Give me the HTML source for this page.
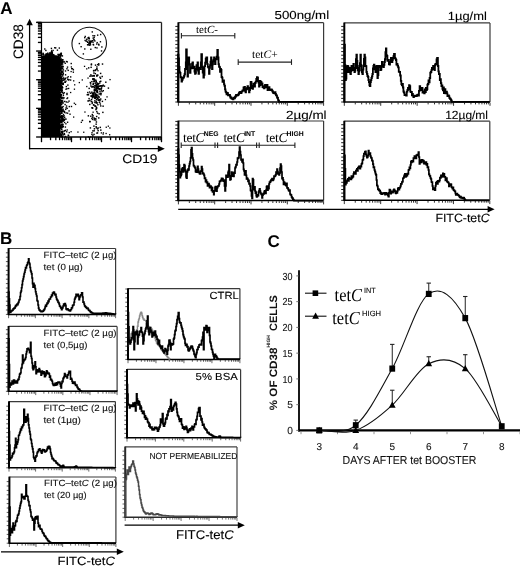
<!DOCTYPE html>
<html><head><meta charset="utf-8"><style>
html,body{margin:0;padding:0;background:#fff;}
body{width:520px;height:568px;overflow:hidden;position:relative;}
svg{position:absolute;left:0;top:0;filter:blur(0.3px);}
</style></head><body>
<svg width="520" height="568" viewBox="0 0 520 568" shape-rendering="auto" text-rendering="geometricPrecision">
<rect x="0" y="0" width="520" height="568" fill="#fff"/>
<text x="0.2" y="13.8" font-family="Liberation Sans" font-size="17" font-weight="bold" font-style="normal" text-anchor="start" fill="#000" stroke="#000" stroke-width="0.05">A</text>
<text x="0" y="243.6" font-family="Liberation Sans" font-size="17" font-weight="bold" font-style="normal" text-anchor="start" fill="#000" stroke="#000" stroke-width="0.05">B</text>
<text x="267.6" y="246.9" font-family="Liberation Sans" font-size="17" font-weight="bold" font-style="normal" text-anchor="start" fill="#000" stroke="#000" stroke-width="0.05">C</text>
<path d="M42,137 L42,55.6 L46,55.2 L49.4,55 L50.6,52 L51.6,49.2 L52.6,52 L53.6,55 L58,55.4 L60.6,57 L60.6,137 Z" fill="#000"/>
<rect x="59.7" y="86.18" width="1.5" height="1.5" fill="#000"/>
<rect x="60.23" y="73.12" width="1.5" height="1.5" fill="#000"/>
<rect x="59.46" y="116.08" width="1.5" height="1.5" fill="#000"/>
<rect x="60.73" y="109.73" width="1.5" height="1.5" fill="#000"/>
<rect x="60.85" y="97.49" width="1.5" height="1.5" fill="#000"/>
<rect x="60.02" y="87.67" width="1.5" height="1.5" fill="#000"/>
<rect x="60.03" y="103.76" width="1.5" height="1.5" fill="#000"/>
<rect x="62.19" y="83.66" width="1.5" height="1.5" fill="#000"/>
<rect x="59.76" y="84.85" width="1.5" height="1.5" fill="#000"/>
<rect x="60.13" y="107.74" width="1.5" height="1.5" fill="#000"/>
<rect x="61.12" y="123.65" width="1.5" height="1.5" fill="#000"/>
<rect x="62.12" y="96.66" width="1.5" height="1.5" fill="#000"/>
<rect x="60.74" y="117.31" width="1.5" height="1.5" fill="#000"/>
<rect x="59.71" y="74.88" width="1.5" height="1.5" fill="#000"/>
<rect x="60.57" y="52.89" width="1.5" height="1.5" fill="#000"/>
<rect x="63.21" y="97.13" width="1.5" height="1.5" fill="#000"/>
<rect x="60.89" y="91.07" width="1.5" height="1.5" fill="#000"/>
<rect x="60.49" y="134.29" width="1.5" height="1.5" fill="#000"/>
<rect x="60.07" y="82.28" width="1.5" height="1.5" fill="#000"/>
<rect x="62.31" y="65.76" width="1.5" height="1.5" fill="#000"/>
<rect x="62.51" y="118.76" width="1.5" height="1.5" fill="#000"/>
<rect x="61.54" y="131.54" width="1.5" height="1.5" fill="#000"/>
<rect x="59.72" y="107.72" width="1.5" height="1.5" fill="#000"/>
<rect x="59.52" y="92.04" width="1.5" height="1.5" fill="#000"/>
<rect x="60.64" y="121.1" width="1.5" height="1.5" fill="#000"/>
<rect x="60.12" y="59.48" width="1.5" height="1.5" fill="#000"/>
<rect x="60.61" y="78.27" width="1.5" height="1.5" fill="#000"/>
<rect x="59.49" y="96.22" width="1.5" height="1.5" fill="#000"/>
<rect x="59.55" y="69.12" width="1.5" height="1.5" fill="#000"/>
<rect x="59.88" y="70.01" width="1.5" height="1.5" fill="#000"/>
<rect x="61.27" y="73.89" width="1.5" height="1.5" fill="#000"/>
<rect x="60.7" y="81.97" width="1.5" height="1.5" fill="#000"/>
<rect x="60.06" y="110.63" width="1.5" height="1.5" fill="#000"/>
<rect x="59.77" y="124.82" width="1.5" height="1.5" fill="#000"/>
<rect x="59.48" y="102.62" width="1.5" height="1.5" fill="#000"/>
<rect x="61.23" y="86.55" width="1.5" height="1.5" fill="#000"/>
<rect x="59.95" y="60.35" width="1.5" height="1.5" fill="#000"/>
<rect x="60.08" y="67.17" width="1.5" height="1.5" fill="#000"/>
<rect x="59.89" y="64.47" width="1.5" height="1.5" fill="#000"/>
<rect x="61.06" y="116.98" width="1.5" height="1.5" fill="#000"/>
<rect x="59.82" y="119.28" width="1.5" height="1.5" fill="#000"/>
<rect x="59.98" y="121.33" width="1.5" height="1.5" fill="#000"/>
<rect x="60.41" y="67.87" width="1.5" height="1.5" fill="#000"/>
<rect x="59.92" y="101.45" width="1.5" height="1.5" fill="#000"/>
<rect x="59.73" y="56.25" width="1.5" height="1.5" fill="#000"/>
<rect x="60.73" y="121.33" width="1.5" height="1.5" fill="#000"/>
<rect x="60.52" y="85.8" width="1.5" height="1.5" fill="#000"/>
<rect x="60.09" y="60.03" width="1.5" height="1.5" fill="#000"/>
<rect x="61.29" y="126.13" width="1.5" height="1.5" fill="#000"/>
<rect x="60.42" y="85.73" width="1.5" height="1.5" fill="#000"/>
<rect x="60.16" y="89.54" width="1.5" height="1.5" fill="#000"/>
<rect x="61.21" y="107.13" width="1.5" height="1.5" fill="#000"/>
<rect x="60.91" y="78.35" width="1.5" height="1.5" fill="#000"/>
<rect x="60.93" y="70.61" width="1.5" height="1.5" fill="#000"/>
<rect x="59.9" y="120.23" width="1.5" height="1.5" fill="#000"/>
<rect x="60.33" y="77.15" width="1.5" height="1.5" fill="#000"/>
<rect x="60.67" y="115.38" width="1.5" height="1.5" fill="#000"/>
<rect x="60.12" y="133.21" width="1.5" height="1.5" fill="#000"/>
<rect x="62.28" y="73.77" width="1.5" height="1.5" fill="#000"/>
<rect x="59.51" y="125.72" width="1.5" height="1.5" fill="#000"/>
<rect x="62.38" y="118.46" width="1.5" height="1.5" fill="#000"/>
<rect x="60.07" y="73.82" width="1.5" height="1.5" fill="#000"/>
<rect x="61.05" y="126.3" width="1.5" height="1.5" fill="#000"/>
<rect x="60.48" y="103.57" width="1.5" height="1.5" fill="#000"/>
<rect x="60.22" y="75.96" width="1.5" height="1.5" fill="#000"/>
<rect x="61.04" y="135.18" width="1.5" height="1.5" fill="#000"/>
<rect x="60.63" y="108.26" width="1.5" height="1.5" fill="#000"/>
<rect x="59.92" y="126.8" width="1.5" height="1.5" fill="#000"/>
<rect x="60.45" y="81.26" width="1.5" height="1.5" fill="#000"/>
<rect x="61.19" y="133.28" width="1.5" height="1.5" fill="#000"/>
<rect x="59.86" y="68.49" width="1.5" height="1.5" fill="#000"/>
<rect x="60.14" y="106.02" width="1.5" height="1.5" fill="#000"/>
<rect x="59.56" y="107.45" width="1.5" height="1.5" fill="#000"/>
<rect x="62.06" y="71.67" width="1.5" height="1.5" fill="#000"/>
<rect x="60.19" y="124.53" width="1.5" height="1.5" fill="#000"/>
<rect x="60.53" y="61.69" width="1.5" height="1.5" fill="#000"/>
<rect x="60.57" y="96.92" width="1.5" height="1.5" fill="#000"/>
<rect x="59.46" y="108.72" width="1.5" height="1.5" fill="#000"/>
<rect x="60.58" y="115.04" width="1.5" height="1.5" fill="#000"/>
<rect x="61.43" y="89.56" width="1.5" height="1.5" fill="#000"/>
<rect x="59.47" y="69.49" width="1.5" height="1.5" fill="#000"/>
<rect x="61.58" y="91.56" width="1.5" height="1.5" fill="#000"/>
<rect x="60.79" y="96.86" width="1.5" height="1.5" fill="#000"/>
<rect x="60.71" y="116.51" width="1.5" height="1.5" fill="#000"/>
<rect x="59.53" y="116.84" width="1.5" height="1.5" fill="#000"/>
<rect x="59.7" y="61.08" width="1.5" height="1.5" fill="#000"/>
<rect x="62.35" y="78.08" width="1.5" height="1.5" fill="#000"/>
<rect x="61.06" y="87.26" width="1.5" height="1.5" fill="#000"/>
<rect x="62.41" y="83.27" width="1.5" height="1.5" fill="#000"/>
<rect x="60.56" y="101.64" width="1.5" height="1.5" fill="#000"/>
<rect x="59.62" y="77.04" width="1.5" height="1.5" fill="#000"/>
<rect x="63.48" y="118.91" width="1.5" height="1.5" fill="#000"/>
<rect x="60.13" y="85.72" width="1.5" height="1.5" fill="#000"/>
<rect x="60.73" y="63.04" width="1.5" height="1.5" fill="#000"/>
<rect x="61.84" y="63.23" width="1.5" height="1.5" fill="#000"/>
<rect x="60.28" y="111.2" width="1.5" height="1.5" fill="#000"/>
<rect x="60.23" y="87.38" width="1.5" height="1.5" fill="#000"/>
<rect x="59.68" y="73.26" width="1.5" height="1.5" fill="#000"/>
<rect x="61.9" y="75.23" width="1.5" height="1.5" fill="#000"/>
<rect x="60.65" y="84.39" width="1.5" height="1.5" fill="#000"/>
<rect x="60.82" y="121.69" width="1.5" height="1.5" fill="#000"/>
<rect x="60.02" y="127.26" width="1.5" height="1.5" fill="#000"/>
<rect x="60.23" y="126.95" width="1.5" height="1.5" fill="#000"/>
<rect x="59.57" y="58.53" width="1.5" height="1.5" fill="#000"/>
<rect x="59.67" y="72.37" width="1.5" height="1.5" fill="#000"/>
<rect x="59.51" y="79.95" width="1.5" height="1.5" fill="#000"/>
<rect x="60.54" y="93.76" width="1.5" height="1.5" fill="#000"/>
<rect x="61.27" y="100.1" width="1.5" height="1.5" fill="#000"/>
<rect x="60.6" y="97.02" width="1.5" height="1.5" fill="#000"/>
<rect x="60.73" y="87.02" width="1.5" height="1.5" fill="#000"/>
<rect x="59.79" y="66.19" width="1.5" height="1.5" fill="#000"/>
<rect x="59.66" y="55.29" width="1.5" height="1.5" fill="#000"/>
<rect x="59.72" y="81.01" width="1.5" height="1.5" fill="#000"/>
<rect x="61.61" y="65.57" width="1.5" height="1.5" fill="#000"/>
<rect x="59.9" y="89.13" width="1.5" height="1.5" fill="#000"/>
<rect x="60.72" y="119.9" width="1.5" height="1.5" fill="#000"/>
<rect x="59.94" y="62.09" width="1.5" height="1.5" fill="#000"/>
<rect x="60.37" y="82.92" width="1.5" height="1.5" fill="#000"/>
<rect x="59.98" y="99.26" width="1.5" height="1.5" fill="#000"/>
<rect x="61.03" y="111.2" width="1.5" height="1.5" fill="#000"/>
<rect x="59.66" y="107.07" width="1.5" height="1.5" fill="#000"/>
<rect x="59.94" y="109.19" width="1.5" height="1.5" fill="#000"/>
<rect x="59.79" y="113.13" width="1.5" height="1.5" fill="#000"/>
<rect x="60.11" y="59.52" width="1.5" height="1.5" fill="#000"/>
<rect x="59.92" y="116.02" width="1.5" height="1.5" fill="#000"/>
<rect x="60.07" y="125.4" width="1.5" height="1.5" fill="#000"/>
<rect x="61.1" y="112.47" width="1.5" height="1.5" fill="#000"/>
<rect x="60.9" y="103.58" width="1.5" height="1.5" fill="#000"/>
<rect x="60.58" y="80.82" width="1.5" height="1.5" fill="#000"/>
<rect x="59.84" y="104.76" width="1.5" height="1.5" fill="#000"/>
<rect x="59.72" y="68.04" width="1.5" height="1.5" fill="#000"/>
<rect x="60.02" y="93.96" width="1.5" height="1.5" fill="#000"/>
<rect x="59.47" y="133.45" width="1.5" height="1.5" fill="#000"/>
<rect x="59.65" y="83.9" width="1.5" height="1.5" fill="#000"/>
<rect x="61.35" y="109.55" width="1.5" height="1.5" fill="#000"/>
<rect x="60.77" y="72.02" width="1.5" height="1.5" fill="#000"/>
<rect x="60.16" y="89.53" width="1.5" height="1.5" fill="#000"/>
<rect x="62" y="58.99" width="1.5" height="1.5" fill="#000"/>
<rect x="61.21" y="120.9" width="1.5" height="1.5" fill="#000"/>
<rect x="61.2" y="117.27" width="1.5" height="1.5" fill="#000"/>
<rect x="59.6" y="83.59" width="1.5" height="1.5" fill="#000"/>
<rect x="59.82" y="85.56" width="1.5" height="1.5" fill="#000"/>
<rect x="61.14" y="77.5" width="1.5" height="1.5" fill="#000"/>
<rect x="62.07" y="126.25" width="1.5" height="1.5" fill="#000"/>
<rect x="59.64" y="120.26" width="1.5" height="1.5" fill="#000"/>
<rect x="60.09" y="88.16" width="1.5" height="1.5" fill="#000"/>
<rect x="60.53" y="58.32" width="1.5" height="1.5" fill="#000"/>
<rect x="60.86" y="78.91" width="1.5" height="1.5" fill="#000"/>
<rect x="60.59" y="80.35" width="1.5" height="1.5" fill="#000"/>
<rect x="61.61" y="55.15" width="1.5" height="1.5" fill="#000"/>
<rect x="60.71" y="120.62" width="1.5" height="1.5" fill="#000"/>
<rect x="60.5" y="110.52" width="1.5" height="1.5" fill="#000"/>
<rect x="60.15" y="53.81" width="1.5" height="1.5" fill="#000"/>
<rect x="60.26" y="85.81" width="1.5" height="1.5" fill="#000"/>
<rect x="60.21" y="95.28" width="1.5" height="1.5" fill="#000"/>
<rect x="59.99" y="96.28" width="1.5" height="1.5" fill="#000"/>
<rect x="59.89" y="135.55" width="1.5" height="1.5" fill="#000"/>
<rect x="61.28" y="66.01" width="1.5" height="1.5" fill="#000"/>
<rect x="60.99" y="99.89" width="1.5" height="1.5" fill="#000"/>
<rect x="60.12" y="54.66" width="1.5" height="1.5" fill="#000"/>
<rect x="60.11" y="69.22" width="1.5" height="1.5" fill="#000"/>
<rect x="59.93" y="77.49" width="1.5" height="1.5" fill="#000"/>
<rect x="59.5" y="135.34" width="1.5" height="1.5" fill="#000"/>
<rect x="61.16" y="88.42" width="1.5" height="1.5" fill="#000"/>
<rect x="60.4" y="52.52" width="1.5" height="1.5" fill="#000"/>
<rect x="60.66" y="130.95" width="1.5" height="1.5" fill="#000"/>
<rect x="61" y="134.29" width="1.5" height="1.5" fill="#000"/>
<rect x="60.23" y="80.92" width="1.5" height="1.5" fill="#000"/>
<rect x="59.94" y="63.35" width="1.5" height="1.5" fill="#000"/>
<rect x="59.73" y="94.41" width="1.5" height="1.5" fill="#000"/>
<rect x="62.88" y="77.21" width="1.4" height="1.4" fill="#000"/>
<rect x="61.57" y="125.11" width="1.4" height="1.4" fill="#000"/>
<rect x="62.56" y="92.9" width="1.4" height="1.4" fill="#000"/>
<rect x="67.5" y="69.67" width="1.4" height="1.4" fill="#000"/>
<rect x="60.38" y="116.14" width="1.4" height="1.4" fill="#000"/>
<rect x="68.35" y="79.05" width="1.4" height="1.4" fill="#000"/>
<rect x="62.64" y="109.46" width="1.4" height="1.4" fill="#000"/>
<rect x="64.7" y="126.34" width="1.4" height="1.4" fill="#000"/>
<rect x="60.79" y="101.13" width="1.4" height="1.4" fill="#000"/>
<rect x="65.4" y="112.21" width="1.4" height="1.4" fill="#000"/>
<rect x="61.91" y="91.72" width="1.4" height="1.4" fill="#000"/>
<rect x="60.55" y="78.59" width="1.4" height="1.4" fill="#000"/>
<rect x="61.67" y="118.37" width="1.4" height="1.4" fill="#000"/>
<rect x="62.65" y="120.4" width="1.4" height="1.4" fill="#000"/>
<rect x="61.76" y="61.58" width="1.4" height="1.4" fill="#000"/>
<rect x="60.66" y="73.9" width="1.4" height="1.4" fill="#000"/>
<rect x="61.18" y="63.15" width="1.4" height="1.4" fill="#000"/>
<rect x="63.5" y="130.38" width="1.4" height="1.4" fill="#000"/>
<rect x="63.41" y="78.93" width="1.4" height="1.4" fill="#000"/>
<rect x="61.94" y="115.18" width="1.4" height="1.4" fill="#000"/>
<rect x="61.6" y="68.08" width="1.4" height="1.4" fill="#000"/>
<rect x="62.23" y="82.79" width="1.4" height="1.4" fill="#000"/>
<rect x="69.92" y="79.35" width="1.4" height="1.4" fill="#000"/>
<rect x="63.27" y="61.4" width="1.4" height="1.4" fill="#000"/>
<rect x="66.5" y="77.13" width="1.4" height="1.4" fill="#000"/>
<rect x="65.31" y="88.53" width="1.4" height="1.4" fill="#000"/>
<rect x="61.99" y="86.93" width="1.4" height="1.4" fill="#000"/>
<rect x="64.01" y="100.75" width="1.4" height="1.4" fill="#000"/>
<rect x="62.89" y="119.34" width="1.4" height="1.4" fill="#000"/>
<rect x="60.65" y="76.4" width="1.4" height="1.4" fill="#000"/>
<rect x="60.41" y="107.1" width="1.4" height="1.4" fill="#000"/>
<rect x="61.9" y="59.36" width="1.4" height="1.4" fill="#000"/>
<rect x="66.23" y="68.08" width="1.4" height="1.4" fill="#000"/>
<rect x="62.83" y="134.19" width="1.4" height="1.4" fill="#000"/>
<rect x="67.92" y="87.77" width="1.4" height="1.4" fill="#000"/>
<rect x="64.26" y="118.41" width="1.4" height="1.4" fill="#000"/>
<rect x="60.83" y="128.93" width="1.4" height="1.4" fill="#000"/>
<rect x="66.91" y="121.55" width="1.4" height="1.4" fill="#000"/>
<rect x="60.7" y="80.34" width="1.4" height="1.4" fill="#000"/>
<rect x="69.99" y="76.22" width="1.4" height="1.4" fill="#000"/>
<rect x="67.17" y="84.41" width="1.4" height="1.4" fill="#000"/>
<rect x="65.45" y="107.14" width="1.4" height="1.4" fill="#000"/>
<rect x="64.56" y="78.02" width="1.4" height="1.4" fill="#000"/>
<rect x="61.92" y="60.6" width="1.4" height="1.4" fill="#000"/>
<rect x="63.95" y="116.57" width="1.4" height="1.4" fill="#000"/>
<rect x="62.24" y="116.1" width="1.4" height="1.4" fill="#000"/>
<rect x="61.13" y="81.04" width="1.4" height="1.4" fill="#000"/>
<rect x="69.32" y="113.5" width="1.4" height="1.4" fill="#000"/>
<rect x="63.64" y="92.09" width="1.4" height="1.4" fill="#000"/>
<rect x="61.88" y="136.02" width="1.4" height="1.4" fill="#000"/>
<rect x="68.61" y="105.88" width="1.4" height="1.4" fill="#000"/>
<rect x="62.13" y="67.45" width="1.4" height="1.4" fill="#000"/>
<rect x="60.55" y="81.36" width="1.4" height="1.4" fill="#000"/>
<rect x="61.86" y="130.55" width="1.4" height="1.4" fill="#000"/>
<rect x="61.17" y="65.85" width="1.4" height="1.4" fill="#000"/>
<rect x="65.79" y="60.83" width="1.4" height="1.4" fill="#000"/>
<rect x="62.6" y="125.71" width="1.4" height="1.4" fill="#000"/>
<rect x="64.87" y="74.11" width="1.4" height="1.4" fill="#000"/>
<rect x="64.42" y="103.86" width="1.4" height="1.4" fill="#000"/>
<rect x="61.2" y="60.81" width="1.4" height="1.4" fill="#000"/>
<rect x="63.11" y="110.72" width="1.4" height="1.4" fill="#000"/>
<rect x="64.74" y="135.78" width="1.4" height="1.4" fill="#000"/>
<rect x="60.66" y="131.57" width="1.4" height="1.4" fill="#000"/>
<rect x="64.37" y="81.39" width="1.4" height="1.4" fill="#000"/>
<rect x="66.91" y="112.49" width="1.4" height="1.4" fill="#000"/>
<rect x="60.84" y="136.17" width="1.4" height="1.4" fill="#000"/>
<rect x="62.2" y="124.13" width="1.4" height="1.4" fill="#000"/>
<rect x="61.73" y="117.19" width="1.4" height="1.4" fill="#000"/>
<rect x="61.54" y="80.01" width="1.4" height="1.4" fill="#000"/>
<rect x="60.31" y="99.83" width="1.4" height="1.4" fill="#000"/>
<rect x="72.64" y="71.49" width="1.4" height="1.4" fill="#000"/>
<rect x="65.28" y="80.41" width="1.4" height="1.4" fill="#000"/>
<rect x="65.19" y="123.09" width="1.4" height="1.4" fill="#000"/>
<rect x="67.12" y="78.61" width="1.4" height="1.4" fill="#000"/>
<rect x="65.86" y="105.33" width="1.4" height="1.4" fill="#000"/>
<rect x="67.5" y="76.05" width="1.4" height="1.4" fill="#000"/>
<rect x="60.44" y="82.91" width="1.4" height="1.4" fill="#000"/>
<rect x="66.26" y="93.79" width="1.4" height="1.4" fill="#000"/>
<rect x="60.3" y="94.68" width="1.4" height="1.4" fill="#000"/>
<rect x="61.35" y="70.77" width="1.4" height="1.4" fill="#000"/>
<rect x="62.24" y="97.99" width="1.4" height="1.4" fill="#000"/>
<rect x="61.59" y="106.55" width="1.4" height="1.4" fill="#000"/>
<rect x="61.26" y="102.1" width="1.4" height="1.4" fill="#000"/>
<rect x="63.72" y="119.46" width="1.4" height="1.4" fill="#000"/>
<rect x="61.99" y="119.78" width="1.4" height="1.4" fill="#000"/>
<rect x="60.46" y="90.07" width="1.4" height="1.4" fill="#000"/>
<rect x="60.89" y="66.11" width="1.4" height="1.4" fill="#000"/>
<rect x="62.69" y="94.56" width="1.4" height="1.4" fill="#000"/>
<rect x="61.69" y="131.16" width="1.4" height="1.4" fill="#000"/>
<rect x="60.92" y="119.1" width="1.4" height="1.4" fill="#000"/>
<rect x="62.28" y="115.62" width="1.4" height="1.4" fill="#000"/>
<rect x="62.78" y="113.82" width="1.4" height="1.4" fill="#000"/>
<rect x="65.03" y="108.67" width="1.4" height="1.4" fill="#000"/>
<rect x="61.02" y="66.15" width="1.4" height="1.4" fill="#000"/>
<rect x="60.91" y="123.79" width="1.4" height="1.4" fill="#000"/>
<rect x="60.93" y="82.23" width="1.4" height="1.4" fill="#000"/>
<rect x="61.37" y="109.25" width="1.4" height="1.4" fill="#000"/>
<rect x="64.06" y="78.56" width="1.4" height="1.4" fill="#000"/>
<rect x="61.32" y="86.1" width="1.4" height="1.4" fill="#000"/>
<rect x="64.52" y="62.61" width="1.4" height="1.4" fill="#000"/>
<rect x="68.56" y="131.93" width="1.4" height="1.4" fill="#000"/>
<rect x="64.84" y="129.67" width="1.4" height="1.4" fill="#000"/>
<rect x="66.48" y="107.66" width="1.4" height="1.4" fill="#000"/>
<rect x="62.41" y="105.87" width="1.4" height="1.4" fill="#000"/>
<rect x="70.77" y="105.79" width="1.4" height="1.4" fill="#000"/>
<rect x="61.39" y="102.22" width="1.4" height="1.4" fill="#000"/>
<rect x="68.34" y="100.41" width="1.4" height="1.4" fill="#000"/>
<rect x="63.33" y="60.88" width="1.4" height="1.4" fill="#000"/>
<rect x="62.68" y="69.18" width="1.4" height="1.4" fill="#000"/>
<rect x="70.52" y="62.83" width="1.4" height="1.4" fill="#000"/>
<rect x="62.51" y="102.27" width="1.4" height="1.4" fill="#000"/>
<rect x="62.05" y="123.52" width="1.4" height="1.4" fill="#000"/>
<rect x="63.62" y="132.85" width="1.4" height="1.4" fill="#000"/>
<rect x="60.81" y="112.33" width="1.4" height="1.4" fill="#000"/>
<rect x="63.78" y="110.73" width="1.4" height="1.4" fill="#000"/>
<rect x="61.08" y="85.72" width="1.4" height="1.4" fill="#000"/>
<rect x="62.63" y="72.82" width="1.4" height="1.4" fill="#000"/>
<rect x="66.84" y="66.42" width="1.4" height="1.4" fill="#000"/>
<rect x="65.64" y="101.25" width="1.4" height="1.4" fill="#000"/>
<rect x="66.28" y="87.99" width="1.4" height="1.4" fill="#000"/>
<rect x="67.67" y="79.24" width="1.4" height="1.4" fill="#000"/>
<rect x="64.18" y="130.02" width="1.4" height="1.4" fill="#000"/>
<rect x="60.75" y="64.16" width="1.4" height="1.4" fill="#000"/>
<rect x="63.81" y="111.74" width="1.4" height="1.4" fill="#000"/>
<rect x="62.26" y="83.43" width="1.4" height="1.4" fill="#000"/>
<rect x="64.71" y="77.54" width="1.4" height="1.4" fill="#000"/>
<rect x="64.67" y="81.58" width="1.4" height="1.4" fill="#000"/>
<rect x="62.15" y="131.16" width="1.4" height="1.4" fill="#000"/>
<rect x="61.51" y="110.66" width="1.4" height="1.4" fill="#000"/>
<rect x="67.93" y="134.88" width="1.4" height="1.4" fill="#000"/>
<rect x="68.39" y="110.23" width="1.4" height="1.4" fill="#000"/>
<rect x="65.29" y="118.41" width="1.4" height="1.4" fill="#000"/>
<rect x="62.08" y="100.5" width="1.4" height="1.4" fill="#000"/>
<rect x="64.82" y="70.27" width="1.4" height="1.4" fill="#000"/>
<rect x="63.12" y="79.71" width="1.4" height="1.4" fill="#000"/>
<rect x="66.27" y="92.73" width="1.4" height="1.4" fill="#000"/>
<rect x="65.64" y="85.91" width="1.4" height="1.4" fill="#000"/>
<rect x="61.12" y="128.31" width="1.4" height="1.4" fill="#000"/>
<rect x="66.34" y="97.78" width="1.4" height="1.4" fill="#000"/>
<rect x="62.62" y="82.52" width="1.4" height="1.4" fill="#000"/>
<rect x="72.68" y="69.07" width="1.4" height="1.4" fill="#000"/>
<rect x="63.86" y="121.76" width="1.4" height="1.4" fill="#000"/>
<rect x="61.97" y="132.99" width="1.4" height="1.4" fill="#000"/>
<rect x="63.83" y="133.62" width="1.4" height="1.4" fill="#000"/>
<rect x="62.04" y="116.31" width="1.4" height="1.4" fill="#000"/>
<rect x="67.54" y="134.54" width="1.4" height="1.4" fill="#000"/>
<rect x="63.41" y="115.07" width="1.4" height="1.4" fill="#000"/>
<rect x="66.05" y="131.08" width="1.4" height="1.4" fill="#000"/>
<rect x="62.13" y="117.97" width="1.4" height="1.4" fill="#000"/>
<rect x="50.94" y="50.8" width="1.5" height="1.5" fill="#000"/>
<rect x="42.58" y="53.89" width="1.5" height="1.5" fill="#000"/>
<rect x="45.82" y="53.37" width="1.5" height="1.5" fill="#000"/>
<rect x="58.18" y="54.71" width="1.5" height="1.5" fill="#000"/>
<rect x="59.7" y="53.32" width="1.5" height="1.5" fill="#000"/>
<rect x="47.09" y="53.97" width="1.5" height="1.5" fill="#000"/>
<rect x="53.01" y="54.03" width="1.5" height="1.5" fill="#000"/>
<rect x="42.35" y="52.63" width="1.5" height="1.5" fill="#000"/>
<rect x="42.8" y="53.81" width="1.5" height="1.5" fill="#000"/>
<rect x="49.03" y="53.55" width="1.5" height="1.5" fill="#000"/>
<rect x="48.62" y="54.27" width="1.5" height="1.5" fill="#000"/>
<rect x="47.01" y="52.47" width="1.5" height="1.5" fill="#000"/>
<rect x="48.2" y="53.19" width="1.5" height="1.5" fill="#000"/>
<rect x="42.34" y="53.49" width="1.5" height="1.5" fill="#000"/>
<rect x="47.85" y="54.08" width="1.5" height="1.5" fill="#000"/>
<rect x="45.47" y="53.3" width="1.5" height="1.5" fill="#000"/>
<rect x="49.43" y="52.74" width="1.5" height="1.5" fill="#000"/>
<rect x="46.45" y="54.07" width="1.5" height="1.5" fill="#000"/>
<rect x="57.31" y="53.74" width="1.5" height="1.5" fill="#000"/>
<rect x="60.06" y="53.92" width="1.5" height="1.5" fill="#000"/>
<rect x="59.47" y="54.84" width="1.5" height="1.5" fill="#000"/>
<rect x="44.93" y="54.83" width="1.5" height="1.5" fill="#000"/>
<rect x="59.8" y="54.55" width="1.5" height="1.5" fill="#000"/>
<rect x="58.48" y="53.88" width="1.5" height="1.5" fill="#000"/>
<rect x="57.98" y="54.79" width="1.5" height="1.5" fill="#000"/>
<rect x="51.53" y="51.68" width="1.5" height="1.5" fill="#000"/>
<rect x="45.86" y="54.8" width="1.5" height="1.5" fill="#000"/>
<rect x="49.17" y="52.14" width="1.5" height="1.5" fill="#000"/>
<rect x="58.11" y="54.26" width="1.5" height="1.5" fill="#000"/>
<rect x="44.63" y="54.25" width="1.5" height="1.5" fill="#000"/>
<rect x="50.72" y="47.69" width="1.4" height="1.4" fill="#000"/>
<rect x="56.73" y="49.45" width="1.4" height="1.4" fill="#000"/>
<rect x="55" y="47.19" width="1.4" height="1.4" fill="#000"/>
<rect x="52.37" y="49.75" width="1.4" height="1.4" fill="#000"/>
<rect x="44.07" y="48.29" width="1.4" height="1.4" fill="#000"/>
<rect x="53.99" y="47.07" width="1.4" height="1.4" fill="#000"/>
<rect x="58.61" y="47.36" width="1.4" height="1.4" fill="#000"/>
<rect x="45.18" y="49.74" width="1.4" height="1.4" fill="#000"/>
<rect x="92.13" y="135.19" width="1.45" height="1.45" fill="#000"/>
<rect x="96.06" y="87.85" width="1.45" height="1.45" fill="#000"/>
<rect x="100" y="80.58" width="1.45" height="1.45" fill="#000"/>
<rect x="99.9" y="72.69" width="1.45" height="1.45" fill="#000"/>
<rect x="93.85" y="88.74" width="1.45" height="1.45" fill="#000"/>
<rect x="94.73" y="97.76" width="1.45" height="1.45" fill="#000"/>
<rect x="89.15" y="99.69" width="1.45" height="1.45" fill="#000"/>
<rect x="86.58" y="94" width="1.45" height="1.45" fill="#000"/>
<rect x="94.12" y="100.11" width="1.45" height="1.45" fill="#000"/>
<rect x="94.61" y="72.89" width="1.45" height="1.45" fill="#000"/>
<rect x="97.38" y="85.25" width="1.45" height="1.45" fill="#000"/>
<rect x="100.01" y="98.33" width="1.45" height="1.45" fill="#000"/>
<rect x="95.98" y="101.92" width="1.45" height="1.45" fill="#000"/>
<rect x="91.2" y="133.68" width="1.45" height="1.45" fill="#000"/>
<rect x="95.49" y="81.46" width="1.45" height="1.45" fill="#000"/>
<rect x="96.1" y="94.18" width="1.45" height="1.45" fill="#000"/>
<rect x="93.34" y="96.42" width="1.45" height="1.45" fill="#000"/>
<rect x="96.4" y="102.31" width="1.45" height="1.45" fill="#000"/>
<rect x="100.88" y="86.38" width="1.45" height="1.45" fill="#000"/>
<rect x="103.74" y="85.41" width="1.45" height="1.45" fill="#000"/>
<rect x="96.15" y="86.23" width="1.45" height="1.45" fill="#000"/>
<rect x="99.82" y="77.57" width="1.45" height="1.45" fill="#000"/>
<rect x="96.22" y="74.41" width="1.45" height="1.45" fill="#000"/>
<rect x="95.3" y="87.94" width="1.45" height="1.45" fill="#000"/>
<rect x="101.34" y="90.77" width="1.45" height="1.45" fill="#000"/>
<rect x="100.6" y="85.13" width="1.45" height="1.45" fill="#000"/>
<rect x="89.94" y="83.17" width="1.45" height="1.45" fill="#000"/>
<rect x="92.53" y="86.06" width="1.45" height="1.45" fill="#000"/>
<rect x="94.93" y="84.59" width="1.45" height="1.45" fill="#000"/>
<rect x="94.81" y="64.4" width="1.45" height="1.45" fill="#000"/>
<rect x="91.73" y="107.35" width="1.45" height="1.45" fill="#000"/>
<rect x="92.25" y="114.94" width="1.45" height="1.45" fill="#000"/>
<rect x="93.22" y="72.29" width="1.45" height="1.45" fill="#000"/>
<rect x="94.95" y="94.72" width="1.45" height="1.45" fill="#000"/>
<rect x="93.31" y="69.75" width="1.45" height="1.45" fill="#000"/>
<rect x="93.79" y="85.12" width="1.45" height="1.45" fill="#000"/>
<rect x="95.96" y="75.25" width="1.45" height="1.45" fill="#000"/>
<rect x="97.2" y="83.89" width="1.45" height="1.45" fill="#000"/>
<rect x="91.6" y="94.6" width="1.45" height="1.45" fill="#000"/>
<rect x="94.93" y="89.8" width="1.45" height="1.45" fill="#000"/>
<rect x="100.78" y="87.76" width="1.45" height="1.45" fill="#000"/>
<rect x="89.18" y="75.51" width="1.45" height="1.45" fill="#000"/>
<rect x="105.09" y="81.47" width="1.45" height="1.45" fill="#000"/>
<rect x="94.53" y="94.12" width="1.45" height="1.45" fill="#000"/>
<rect x="95.45" y="96.55" width="1.45" height="1.45" fill="#000"/>
<rect x="90.24" y="95.31" width="1.45" height="1.45" fill="#000"/>
<rect x="91.7" y="75.3" width="1.45" height="1.45" fill="#000"/>
<rect x="96.51" y="85.99" width="1.45" height="1.45" fill="#000"/>
<rect x="95.69" y="107.86" width="1.45" height="1.45" fill="#000"/>
<rect x="92.94" y="93.96" width="1.45" height="1.45" fill="#000"/>
<rect x="97.94" y="83.05" width="1.45" height="1.45" fill="#000"/>
<rect x="92.71" y="79.05" width="1.45" height="1.45" fill="#000"/>
<rect x="101.68" y="100.65" width="1.45" height="1.45" fill="#000"/>
<rect x="90.17" y="74.14" width="1.45" height="1.45" fill="#000"/>
<rect x="93.48" y="75.21" width="1.45" height="1.45" fill="#000"/>
<rect x="96.72" y="82.41" width="1.45" height="1.45" fill="#000"/>
<rect x="96.51" y="89.59" width="1.45" height="1.45" fill="#000"/>
<rect x="95.93" y="115.8" width="1.45" height="1.45" fill="#000"/>
<rect x="95.68" y="121.27" width="1.45" height="1.45" fill="#000"/>
<rect x="96.23" y="84.41" width="1.45" height="1.45" fill="#000"/>
<rect x="97.3" y="96.55" width="1.45" height="1.45" fill="#000"/>
<rect x="93.7" y="88.51" width="1.45" height="1.45" fill="#000"/>
<rect x="96.53" y="83.5" width="1.45" height="1.45" fill="#000"/>
<rect x="99.17" y="85.67" width="1.45" height="1.45" fill="#000"/>
<rect x="92.56" y="94.57" width="1.45" height="1.45" fill="#000"/>
<rect x="95.48" y="85.27" width="1.45" height="1.45" fill="#000"/>
<rect x="98.43" y="93.28" width="1.45" height="1.45" fill="#000"/>
<rect x="96.13" y="68" width="1.45" height="1.45" fill="#000"/>
<rect x="94.18" y="80.19" width="1.45" height="1.45" fill="#000"/>
<rect x="93.56" y="119.1" width="1.45" height="1.45" fill="#000"/>
<rect x="91.8" y="107.29" width="1.45" height="1.45" fill="#000"/>
<rect x="93.39" y="117.34" width="1.45" height="1.45" fill="#000"/>
<rect x="95.05" y="119.29" width="1.45" height="1.45" fill="#000"/>
<rect x="95.35" y="102.03" width="1.45" height="1.45" fill="#000"/>
<rect x="89.28" y="120.95" width="1.45" height="1.45" fill="#000"/>
<rect x="91.69" y="97.04" width="1.45" height="1.45" fill="#000"/>
<rect x="94.03" y="92.2" width="1.45" height="1.45" fill="#000"/>
<rect x="95.11" y="105.61" width="1.45" height="1.45" fill="#000"/>
<rect x="95.87" y="90.78" width="1.45" height="1.45" fill="#000"/>
<rect x="97.42" y="127.26" width="1.45" height="1.45" fill="#000"/>
<rect x="96.6" y="91.6" width="1.45" height="1.45" fill="#000"/>
<rect x="100.36" y="92.71" width="1.45" height="1.45" fill="#000"/>
<rect x="88.44" y="87.68" width="1.45" height="1.45" fill="#000"/>
<rect x="99.26" y="90.94" width="1.45" height="1.45" fill="#000"/>
<rect x="94.71" y="69.79" width="1.45" height="1.45" fill="#000"/>
<rect x="102.12" y="85.35" width="1.45" height="1.45" fill="#000"/>
<rect x="92.76" y="78.19" width="1.45" height="1.45" fill="#000"/>
<rect x="93.94" y="117.88" width="1.45" height="1.45" fill="#000"/>
<rect x="101.78" y="63.33" width="1.45" height="1.45" fill="#000"/>
<rect x="95.06" y="118.02" width="1.45" height="1.45" fill="#000"/>
<rect x="96.74" y="91.07" width="1.45" height="1.45" fill="#000"/>
<rect x="96.7" y="86.04" width="1.45" height="1.45" fill="#000"/>
<rect x="90.66" y="64.07" width="1.45" height="1.45" fill="#000"/>
<rect x="95.8" y="94.38" width="1.45" height="1.45" fill="#000"/>
<rect x="93.2" y="80.91" width="1.45" height="1.45" fill="#000"/>
<rect x="97.52" y="98.36" width="1.45" height="1.45" fill="#000"/>
<rect x="96.59" y="87.19" width="1.45" height="1.45" fill="#000"/>
<rect x="96.84" y="112.4" width="1.45" height="1.45" fill="#000"/>
<rect x="89.67" y="92.51" width="1.45" height="1.45" fill="#000"/>
<rect x="92.94" y="104.18" width="1.45" height="1.45" fill="#000"/>
<rect x="89.6" y="81.83" width="1.45" height="1.45" fill="#000"/>
<rect x="97.42" y="129.93" width="1.45" height="1.45" fill="#000"/>
<rect x="90.89" y="98.83" width="1.45" height="1.45" fill="#000"/>
<rect x="94.79" y="93.59" width="1.45" height="1.45" fill="#000"/>
<rect x="96.9" y="128.14" width="1.45" height="1.45" fill="#000"/>
<rect x="88.36" y="97.85" width="1.45" height="1.45" fill="#000"/>
<rect x="97.46" y="87.87" width="1.45" height="1.45" fill="#000"/>
<rect x="89.07" y="103.72" width="1.45" height="1.45" fill="#000"/>
<rect x="91.3" y="106.98" width="1.45" height="1.45" fill="#000"/>
<rect x="97.66" y="95.47" width="1.45" height="1.45" fill="#000"/>
<rect x="94.3" y="96.22" width="1.45" height="1.45" fill="#000"/>
<rect x="91.11" y="91.45" width="1.45" height="1.45" fill="#000"/>
<rect x="94.75" y="95" width="1.45" height="1.45" fill="#000"/>
<rect x="98.65" y="101.6" width="1.45" height="1.45" fill="#000"/>
<rect x="97.69" y="85.9" width="1.45" height="1.45" fill="#000"/>
<rect x="95.56" y="80.64" width="1.45" height="1.45" fill="#000"/>
<rect x="93.37" y="74.96" width="1.45" height="1.45" fill="#000"/>
<rect x="100.09" y="129.39" width="1.45" height="1.45" fill="#000"/>
<rect x="91.58" y="113.84" width="1.45" height="1.45" fill="#000"/>
<rect x="90.2" y="85.26" width="1.45" height="1.45" fill="#000"/>
<rect x="94.08" y="97.52" width="1.45" height="1.45" fill="#000"/>
<rect x="91.56" y="95.73" width="1.45" height="1.45" fill="#000"/>
<rect x="96.54" y="90.8" width="1.45" height="1.45" fill="#000"/>
<rect x="99.26" y="76.47" width="1.45" height="1.45" fill="#000"/>
<rect x="87.3" y="100.22" width="1.45" height="1.45" fill="#000"/>
<rect x="91.85" y="93.08" width="1.45" height="1.45" fill="#000"/>
<rect x="93.2" y="125.39" width="1.45" height="1.45" fill="#000"/>
<rect x="95.61" y="83.58" width="1.45" height="1.45" fill="#000"/>
<rect x="99.13" y="88.17" width="1.45" height="1.45" fill="#000"/>
<rect x="100.02" y="105.19" width="1.45" height="1.45" fill="#000"/>
<rect x="96.25" y="68.73" width="1.45" height="1.45" fill="#000"/>
<rect x="93.6" y="78.3" width="1.45" height="1.45" fill="#000"/>
<rect x="93.56" y="89.9" width="1.45" height="1.45" fill="#000"/>
<rect x="87.78" y="136.19" width="1.45" height="1.45" fill="#000"/>
<rect x="90.4" y="66.6" width="1.45" height="1.45" fill="#000"/>
<rect x="99.18" y="81.07" width="1.45" height="1.45" fill="#000"/>
<rect x="98.41" y="88.93" width="1.45" height="1.45" fill="#000"/>
<rect x="92.57" y="74.9" width="1.45" height="1.45" fill="#000"/>
<rect x="91.15" y="80.95" width="1.45" height="1.45" fill="#000"/>
<rect x="93.86" y="86.72" width="1.45" height="1.45" fill="#000"/>
<rect x="98.01" y="63.09" width="1.45" height="1.45" fill="#000"/>
<rect x="98.58" y="96.38" width="1.45" height="1.45" fill="#000"/>
<rect x="90.07" y="115.48" width="1.45" height="1.45" fill="#000"/>
<rect x="99.59" y="126.66" width="1.45" height="1.45" fill="#000"/>
<rect x="97.11" y="74.42" width="1.45" height="1.45" fill="#000"/>
<rect x="91.78" y="118.69" width="1.45" height="1.45" fill="#000"/>
<rect x="94.3" y="86.47" width="1.45" height="1.45" fill="#000"/>
<rect x="97.61" y="99.6" width="1.45" height="1.45" fill="#000"/>
<rect x="92.53" y="83.47" width="1.45" height="1.45" fill="#000"/>
<rect x="92.87" y="70.09" width="1.45" height="1.45" fill="#000"/>
<rect x="96.8" y="91.71" width="1.45" height="1.45" fill="#000"/>
<rect x="93.31" y="133.69" width="1.45" height="1.45" fill="#000"/>
<rect x="96.75" y="97.76" width="1.45" height="1.45" fill="#000"/>
<rect x="97.16" y="104.01" width="1.45" height="1.45" fill="#000"/>
<rect x="99.19" y="99.86" width="1.45" height="1.45" fill="#000"/>
<rect x="95.26" y="108.85" width="1.45" height="1.45" fill="#000"/>
<rect x="93.08" y="94.51" width="1.45" height="1.45" fill="#000"/>
<rect x="92.27" y="78.09" width="1.45" height="1.45" fill="#000"/>
<rect x="99.66" y="92.79" width="1.45" height="1.45" fill="#000"/>
<rect x="95.37" y="85.11" width="1.45" height="1.45" fill="#000"/>
<rect x="95.22" y="89.03" width="1.45" height="1.45" fill="#000"/>
<rect x="96.04" y="95.2" width="1.45" height="1.45" fill="#000"/>
<rect x="96.08" y="86.45" width="1.45" height="1.45" fill="#000"/>
<rect x="97.51" y="87.38" width="1.45" height="1.45" fill="#000"/>
<rect x="90.55" y="100.76" width="1.45" height="1.45" fill="#000"/>
<rect x="92.89" y="82.77" width="1.45" height="1.45" fill="#000"/>
<rect x="96.38" y="89.73" width="1.45" height="1.45" fill="#000"/>
<rect x="92.99" y="92.73" width="1.45" height="1.45" fill="#000"/>
<rect x="102.15" y="111.66" width="1.45" height="1.45" fill="#000"/>
<rect x="91.68" y="101.45" width="1.45" height="1.45" fill="#000"/>
<rect x="92.17" y="130.14" width="1.45" height="1.45" fill="#000"/>
<rect x="101.46" y="75.76" width="1.45" height="1.45" fill="#000"/>
<rect x="91.09" y="86.25" width="1.45" height="1.45" fill="#000"/>
<rect x="92.11" y="93.06" width="1.45" height="1.45" fill="#000"/>
<rect x="87.08" y="91.79" width="1.45" height="1.45" fill="#000"/>
<rect x="95.78" y="106.82" width="1.45" height="1.45" fill="#000"/>
<rect x="91.97" y="116.38" width="1.45" height="1.45" fill="#000"/>
<rect x="94.18" y="105.12" width="1.45" height="1.45" fill="#000"/>
<rect x="94.9" y="93.22" width="1.45" height="1.45" fill="#000"/>
<rect x="95.89" y="98.95" width="1.45" height="1.45" fill="#000"/>
<rect x="100.17" y="94.01" width="1.45" height="1.45" fill="#000"/>
<rect x="96.22" y="86.01" width="1.45" height="1.45" fill="#000"/>
<rect x="91.61" y="85.85" width="1.45" height="1.45" fill="#000"/>
<rect x="96.18" y="66.24" width="1.45" height="1.45" fill="#000"/>
<rect x="94.53" y="105.47" width="1.45" height="1.45" fill="#000"/>
<rect x="95.61" y="87.96" width="1.45" height="1.45" fill="#000"/>
<rect x="98.34" y="113.02" width="1.45" height="1.45" fill="#000"/>
<rect x="96.53" y="86.83" width="1.45" height="1.45" fill="#000"/>
<rect x="96.45" y="75.03" width="1.45" height="1.45" fill="#000"/>
<rect x="99.59" y="103.29" width="1.45" height="1.45" fill="#000"/>
<rect x="95.44" y="126" width="1.45" height="1.45" fill="#000"/>
<rect x="101.38" y="85" width="1.45" height="1.45" fill="#000"/>
<rect x="96.7" y="87.18" width="1.45" height="1.45" fill="#000"/>
<rect x="102.5" y="84.47" width="1.45" height="1.45" fill="#000"/>
<rect x="93.68" y="128.09" width="1.45" height="1.45" fill="#000"/>
<rect x="94.03" y="96.31" width="1.45" height="1.45" fill="#000"/>
<rect x="93.78" y="91.31" width="1.45" height="1.45" fill="#000"/>
<rect x="98.79" y="87.93" width="1.45" height="1.45" fill="#000"/>
<rect x="92.33" y="85.85" width="1.45" height="1.45" fill="#000"/>
<rect x="95.82" y="107.38" width="1.45" height="1.45" fill="#000"/>
<rect x="94.82" y="94.58" width="1.45" height="1.45" fill="#000"/>
<rect x="102.38" y="105.46" width="1.45" height="1.45" fill="#000"/>
<rect x="98.81" y="98.76" width="1.45" height="1.45" fill="#000"/>
<rect x="92.87" y="104.23" width="1.45" height="1.45" fill="#000"/>
<rect x="98.85" y="85.35" width="1.45" height="1.45" fill="#000"/>
<rect x="95.43" y="123.46" width="1.45" height="1.45" fill="#000"/>
<rect x="92.57" y="83.48" width="1.45" height="1.45" fill="#000"/>
<rect x="90.94" y="95.42" width="1.45" height="1.45" fill="#000"/>
<rect x="107.68" y="87.38" width="1.45" height="1.45" fill="#000"/>
<rect x="96.02" y="86.9" width="1.45" height="1.45" fill="#000"/>
<rect x="92.12" y="78.46" width="1.45" height="1.45" fill="#000"/>
<rect x="91.16" y="117.6" width="1.45" height="1.45" fill="#000"/>
<rect x="95.6" y="96.47" width="1.45" height="1.45" fill="#000"/>
<rect x="87.96" y="67.15" width="1.45" height="1.45" fill="#000"/>
<rect x="91.68" y="95.34" width="1.45" height="1.45" fill="#000"/>
<rect x="97.18" y="86.73" width="1.45" height="1.45" fill="#000"/>
<rect x="89.67" y="127.2" width="1.45" height="1.45" fill="#000"/>
<rect x="94.97" y="96.66" width="1.45" height="1.45" fill="#000"/>
<rect x="100.52" y="89.41" width="1.45" height="1.45" fill="#000"/>
<rect x="87.72" y="94.11" width="1.45" height="1.45" fill="#000"/>
<rect x="94.72" y="82.45" width="1.45" height="1.45" fill="#000"/>
<rect x="96.11" y="96.78" width="1.45" height="1.45" fill="#000"/>
<rect x="96.93" y="83.44" width="1.45" height="1.45" fill="#000"/>
<rect x="96.11" y="110.88" width="1.45" height="1.45" fill="#000"/>
<rect x="96.21" y="132.37" width="1.45" height="1.45" fill="#000"/>
<rect x="98.03" y="117.22" width="1.45" height="1.45" fill="#000"/>
<rect x="90.71" y="63.31" width="1.45" height="1.45" fill="#000"/>
<rect x="98.01" y="64.25" width="1.45" height="1.45" fill="#000"/>
<rect x="93.44" y="130.07" width="1.45" height="1.45" fill="#000"/>
<rect x="91.5" y="92.46" width="1.45" height="1.45" fill="#000"/>
<rect x="96.14" y="94.72" width="1.45" height="1.45" fill="#000"/>
<rect x="93.89" y="79.14" width="1.45" height="1.45" fill="#000"/>
<rect x="90.35" y="75.28" width="1.45" height="1.45" fill="#000"/>
<rect x="95.15" y="79.53" width="1.45" height="1.45" fill="#000"/>
<rect x="100.07" y="85.01" width="1.45" height="1.45" fill="#000"/>
<rect x="92.9" y="92.23" width="1.45" height="1.45" fill="#000"/>
<rect x="94.17" y="101.75" width="1.45" height="1.45" fill="#000"/>
<rect x="102.56" y="90" width="1.45" height="1.45" fill="#000"/>
<rect x="95.42" y="100.81" width="1.45" height="1.45" fill="#000"/>
<rect x="98.89" y="99.39" width="1.45" height="1.45" fill="#000"/>
<rect x="91.44" y="102.7" width="1.45" height="1.45" fill="#000"/>
<rect x="89.01" y="120.81" width="1.45" height="1.45" fill="#000"/>
<rect x="95.69" y="127.13" width="1.45" height="1.45" fill="#000"/>
<rect x="100.15" y="88.38" width="1.45" height="1.45" fill="#000"/>
<rect x="97.04" y="63.88" width="1.45" height="1.45" fill="#000"/>
<rect x="93.49" y="80.49" width="1.45" height="1.45" fill="#000"/>
<rect x="95.64" y="85.5" width="1.45" height="1.45" fill="#000"/>
<rect x="87.65" y="115.11" width="1.45" height="1.45" fill="#000"/>
<rect x="92.68" y="95.96" width="1.45" height="1.45" fill="#000"/>
<rect x="92.77" y="95.62" width="1.45" height="1.45" fill="#000"/>
<rect x="90.13" y="48.55" width="1.4" height="1.4" fill="#000"/>
<rect x="99.74" y="41.06" width="1.4" height="1.4" fill="#000"/>
<rect x="88.89" y="44.48" width="1.4" height="1.4" fill="#000"/>
<rect x="89.02" y="41.86" width="1.4" height="1.4" fill="#000"/>
<rect x="87.39" y="37.09" width="1.4" height="1.4" fill="#000"/>
<rect x="94.19" y="40.25" width="1.4" height="1.4" fill="#000"/>
<rect x="92.57" y="43.74" width="1.4" height="1.4" fill="#000"/>
<rect x="88.9" y="42.34" width="1.4" height="1.4" fill="#000"/>
<rect x="85.47" y="40.57" width="1.4" height="1.4" fill="#000"/>
<rect x="99.94" y="33.83" width="1.4" height="1.4" fill="#000"/>
<rect x="93.46" y="36.68" width="1.4" height="1.4" fill="#000"/>
<rect x="89.75" y="41.31" width="1.4" height="1.4" fill="#000"/>
<rect x="88.62" y="37.86" width="1.4" height="1.4" fill="#000"/>
<rect x="86.88" y="44.03" width="1.4" height="1.4" fill="#000"/>
<rect x="98.22" y="44.37" width="1.4" height="1.4" fill="#000"/>
<rect x="89.49" y="42.92" width="1.4" height="1.4" fill="#000"/>
<rect x="101.15" y="46.27" width="1.4" height="1.4" fill="#000"/>
<rect x="89.57" y="42.56" width="1.4" height="1.4" fill="#000"/>
<rect x="85.98" y="39.21" width="1.4" height="1.4" fill="#000"/>
<rect x="88.1" y="43.75" width="1.4" height="1.4" fill="#000"/>
<rect x="88.1" y="36.7" width="1.4" height="1.4" fill="#000"/>
<rect x="82.67" y="53.21" width="1.4" height="1.4" fill="#000"/>
<rect x="96.25" y="47.21" width="1.4" height="1.4" fill="#000"/>
<rect x="84.09" y="48.26" width="1.4" height="1.4" fill="#000"/>
<rect x="86.85" y="41.29" width="1.4" height="1.4" fill="#000"/>
<rect x="96.97" y="34.46" width="1.4" height="1.4" fill="#000"/>
<rect x="92.01" y="39.94" width="1.4" height="1.4" fill="#000"/>
<rect x="89.31" y="42.31" width="1.4" height="1.4" fill="#000"/>
<rect x="84.44" y="39.72" width="1.4" height="1.4" fill="#000"/>
<rect x="92.86" y="44.17" width="1.4" height="1.4" fill="#000"/>
<rect x="91.16" y="40.84" width="1.4" height="1.4" fill="#000"/>
<rect x="87.86" y="37.48" width="1.4" height="1.4" fill="#000"/>
<rect x="88.77" y="41.2" width="1.4" height="1.4" fill="#000"/>
<rect x="92.44" y="37.42" width="1.4" height="1.4" fill="#000"/>
<rect x="97.96" y="43.57" width="1.4" height="1.4" fill="#000"/>
<rect x="87.49" y="44.14" width="1.4" height="1.4" fill="#000"/>
<rect x="96.07" y="43.36" width="1.4" height="1.4" fill="#000"/>
<rect x="89.74" y="40.58" width="1.4" height="1.4" fill="#000"/>
<rect x="89.62" y="42.39" width="1.4" height="1.4" fill="#000"/>
<rect x="92.33" y="34.99" width="1.4" height="1.4" fill="#000"/>
<rect x="88.72" y="43.01" width="1.4" height="1.4" fill="#000"/>
<rect x="90.08" y="41.75" width="1.4" height="1.4" fill="#000"/>
<rect x="88.3" y="39.51" width="1.4" height="1.4" fill="#000"/>
<rect x="84.55" y="35.75" width="1.4" height="1.4" fill="#000"/>
<rect x="89.94" y="41.13" width="1.4" height="1.4" fill="#000"/>
<rect x="100.82" y="50.25" width="1.4" height="1.4" fill="#000"/>
<rect x="88.63" y="42.56" width="1.4" height="1.4" fill="#000"/>
<rect x="92.32" y="41.56" width="1.4" height="1.4" fill="#000"/>
<rect x="90.51" y="40.3" width="1.4" height="1.4" fill="#000"/>
<rect x="84.04" y="37" width="1.4" height="1.4" fill="#000"/>
<rect x="86.12" y="38.5" width="1.4" height="1.4" fill="#000"/>
<rect x="93.92" y="35.11" width="1.4" height="1.4" fill="#000"/>
<rect x="91.57" y="31.22" width="1.4" height="1.4" fill="#000"/>
<rect x="93.14" y="38.53" width="1.4" height="1.4" fill="#000"/>
<rect x="88.41" y="42.33" width="1.4" height="1.4" fill="#000"/>
<rect x="96.48" y="41.9" width="1.4" height="1.4" fill="#000"/>
<rect x="89.79" y="44.1" width="1.4" height="1.4" fill="#000"/>
<rect x="80.42" y="45.99" width="1.4" height="1.4" fill="#000"/>
<rect x="78.66" y="42.86" width="1.4" height="1.4" fill="#000"/>
<rect x="94.59" y="46.87" width="1.4" height="1.4" fill="#000"/>
<rect x="86.98" y="41.6" width="1.4" height="1.4" fill="#000"/>
<rect x="93.5" y="39.36" width="1.4" height="1.4" fill="#000"/>
<rect x="105.47" y="132.84" width="1.3" height="1.3" fill="#000"/>
<rect x="107.67" y="125.55" width="1.3" height="1.3" fill="#000"/>
<rect x="96.97" y="132.26" width="1.3" height="1.3" fill="#000"/>
<rect x="71.07" y="67.97" width="1.3" height="1.3" fill="#000"/>
<rect x="102.75" y="132.19" width="1.3" height="1.3" fill="#000"/>
<rect x="88.16" y="100.17" width="1.3" height="1.3" fill="#000"/>
<rect x="92.47" y="111.56" width="1.3" height="1.3" fill="#000"/>
<rect x="83.89" y="65.72" width="1.3" height="1.3" fill="#000"/>
<rect x="70" y="91.86" width="1.3" height="1.3" fill="#000"/>
<rect x="66.71" y="61.23" width="1.3" height="1.3" fill="#000"/>
<rect x="91.36" y="131.98" width="1.3" height="1.3" fill="#000"/>
<rect x="81.66" y="119.85" width="1.3" height="1.3" fill="#000"/>
<rect x="88.96" y="91.35" width="1.3" height="1.3" fill="#000"/>
<rect x="90.06" y="136.17" width="1.3" height="1.3" fill="#000"/>
<rect x="67.29" y="101.58" width="1.3" height="1.3" fill="#000"/>
<rect x="74.91" y="103.78" width="1.3" height="1.3" fill="#000"/>
<rect x="99.14" y="82.48" width="1.3" height="1.3" fill="#000"/>
<rect x="74.04" y="84.17" width="1.3" height="1.3" fill="#000"/>
<rect x="62.48" y="108.49" width="1.3" height="1.3" fill="#000"/>
<rect x="71.91" y="67.96" width="1.3" height="1.3" fill="#000"/>
<rect x="73.66" y="102.59" width="1.3" height="1.3" fill="#000"/>
<rect x="105.61" y="126.59" width="1.3" height="1.3" fill="#000"/>
<rect x="78.7" y="81.93" width="1.3" height="1.3" fill="#000"/>
<rect x="109.22" y="127.35" width="1.3" height="1.3" fill="#000"/>
<rect x="70.7" y="66.31" width="1.3" height="1.3" fill="#000"/>
<rect x="81.89" y="119.75" width="1.3" height="1.3" fill="#000"/>
<rect x="81.64" y="79.3" width="1.3" height="1.3" fill="#000"/>
<rect x="61.43" y="82.82" width="1.3" height="1.3" fill="#000"/>
<rect x="64.39" y="81.51" width="1.3" height="1.3" fill="#000"/>
<rect x="62.28" y="70.55" width="1.3" height="1.3" fill="#000"/>
<rect x="86.13" y="85.9" width="1.3" height="1.3" fill="#000"/>
<rect x="106.39" y="96.23" width="1.3" height="1.3" fill="#000"/>
<rect x="70.49" y="70.91" width="1.3" height="1.3" fill="#000"/>
<rect x="80.68" y="121.66" width="1.3" height="1.3" fill="#000"/>
<rect x="70.45" y="131.05" width="1.3" height="1.3" fill="#000"/>
<rect x="86.08" y="68.21" width="1.3" height="1.3" fill="#000"/>
<rect x="87.39" y="77.43" width="1.3" height="1.3" fill="#000"/>
<rect x="109.39" y="78.96" width="1.3" height="1.3" fill="#000"/>
<rect x="104.79" y="98.92" width="1.3" height="1.3" fill="#000"/>
<rect x="102.47" y="133.45" width="1.3" height="1.3" fill="#000"/>
<rect x="83.09" y="131.59" width="1.3" height="1.3" fill="#000"/>
<rect x="71.35" y="68.03" width="1.3" height="1.3" fill="#000"/>
<rect x="99.01" y="101.78" width="1.3" height="1.3" fill="#000"/>
<rect x="67" y="97.22" width="1.3" height="1.3" fill="#000"/>
<rect x="73.05" y="80.19" width="1.3" height="1.3" fill="#000"/>
<rect x="109.02" y="134.09" width="1.3" height="1.3" fill="#000"/>
<rect x="97.32" y="70.08" width="1.3" height="1.3" fill="#000"/>
<rect x="73" y="116.42" width="1.3" height="1.3" fill="#000"/>
<rect x="87.74" y="93.74" width="1.3" height="1.3" fill="#000"/>
<rect x="77.29" y="131.42" width="1.3" height="1.3" fill="#000"/>
<rect x="73.79" y="88.54" width="1.3" height="1.3" fill="#000"/>
<rect x="66.61" y="129.31" width="1.3" height="1.3" fill="#000"/>
<rect x="94.97" y="69.2" width="1.3" height="1.3" fill="#000"/>
<rect x="100.71" y="132.25" width="1.3" height="1.3" fill="#000"/>
<rect x="84.3" y="111.39" width="1.3" height="1.3" fill="#000"/>
<line x1="36.7" y1="22.4" x2="161.5" y2="22.4" stroke="#222" stroke-width="1.3"/>
<line x1="161.5" y1="22.4" x2="161.5" y2="137" stroke="#222" stroke-width="1.3"/>
<line x1="41.5" y1="22.4" x2="41.5" y2="137" stroke="#000" stroke-width="1.2"/>
<line x1="41.5" y1="137" x2="161.5" y2="137" stroke="#000" stroke-width="1.5"/>
<line x1="36.1" y1="137" x2="41.5" y2="137" stroke="#000" stroke-width="1.35"/>
<line x1="37.9" y1="128.38" x2="41.5" y2="128.38" stroke="#000" stroke-width="1.35"/>
<line x1="37.9" y1="123.33" x2="41.5" y2="123.33" stroke="#000" stroke-width="1.35"/>
<line x1="37.9" y1="119.75" x2="41.5" y2="119.75" stroke="#000" stroke-width="1.35"/>
<line x1="37.9" y1="116.97" x2="41.5" y2="116.97" stroke="#000" stroke-width="1.35"/>
<line x1="37.9" y1="114.71" x2="41.5" y2="114.71" stroke="#000" stroke-width="1.35"/>
<line x1="37.9" y1="112.79" x2="41.5" y2="112.79" stroke="#000" stroke-width="1.35"/>
<line x1="37.9" y1="111.13" x2="41.5" y2="111.13" stroke="#000" stroke-width="1.35"/>
<line x1="37.9" y1="109.66" x2="41.5" y2="109.66" stroke="#000" stroke-width="1.35"/>
<line x1="36.1" y1="108.35" x2="41.5" y2="108.35" stroke="#000" stroke-width="1.35"/>
<line x1="37.9" y1="99.73" x2="41.5" y2="99.73" stroke="#000" stroke-width="1.35"/>
<line x1="37.9" y1="94.68" x2="41.5" y2="94.68" stroke="#000" stroke-width="1.35"/>
<line x1="37.9" y1="91.1" x2="41.5" y2="91.1" stroke="#000" stroke-width="1.35"/>
<line x1="37.9" y1="88.32" x2="41.5" y2="88.32" stroke="#000" stroke-width="1.35"/>
<line x1="37.9" y1="86.06" x2="41.5" y2="86.06" stroke="#000" stroke-width="1.35"/>
<line x1="37.9" y1="84.14" x2="41.5" y2="84.14" stroke="#000" stroke-width="1.35"/>
<line x1="37.9" y1="82.48" x2="41.5" y2="82.48" stroke="#000" stroke-width="1.35"/>
<line x1="37.9" y1="81.01" x2="41.5" y2="81.01" stroke="#000" stroke-width="1.35"/>
<line x1="36.1" y1="79.7" x2="41.5" y2="79.7" stroke="#000" stroke-width="1.35"/>
<line x1="37.9" y1="71.08" x2="41.5" y2="71.08" stroke="#000" stroke-width="1.35"/>
<line x1="37.9" y1="66.03" x2="41.5" y2="66.03" stroke="#000" stroke-width="1.35"/>
<line x1="37.9" y1="62.45" x2="41.5" y2="62.45" stroke="#000" stroke-width="1.35"/>
<line x1="37.9" y1="59.67" x2="41.5" y2="59.67" stroke="#000" stroke-width="1.35"/>
<line x1="37.9" y1="57.41" x2="41.5" y2="57.41" stroke="#000" stroke-width="1.35"/>
<line x1="37.9" y1="55.49" x2="41.5" y2="55.49" stroke="#000" stroke-width="1.35"/>
<line x1="37.9" y1="53.83" x2="41.5" y2="53.83" stroke="#000" stroke-width="1.35"/>
<line x1="37.9" y1="52.36" x2="41.5" y2="52.36" stroke="#000" stroke-width="1.35"/>
<line x1="36.1" y1="51.05" x2="41.5" y2="51.05" stroke="#000" stroke-width="1.35"/>
<line x1="37.9" y1="42.43" x2="41.5" y2="42.43" stroke="#000" stroke-width="1.35"/>
<line x1="37.9" y1="37.38" x2="41.5" y2="37.38" stroke="#000" stroke-width="1.35"/>
<line x1="37.9" y1="33.8" x2="41.5" y2="33.8" stroke="#000" stroke-width="1.35"/>
<line x1="37.9" y1="31.02" x2="41.5" y2="31.02" stroke="#000" stroke-width="1.35"/>
<line x1="37.9" y1="28.76" x2="41.5" y2="28.76" stroke="#000" stroke-width="1.35"/>
<line x1="37.9" y1="26.84" x2="41.5" y2="26.84" stroke="#000" stroke-width="1.35"/>
<line x1="37.9" y1="25.18" x2="41.5" y2="25.18" stroke="#000" stroke-width="1.35"/>
<line x1="37.9" y1="23.71" x2="41.5" y2="23.71" stroke="#000" stroke-width="1.35"/>
<line x1="36.1" y1="22.4" x2="41.5" y2="22.4" stroke="#000" stroke-width="1.35"/>
<line x1="41.5" y1="137" x2="41.5" y2="142.2" stroke="#000" stroke-width="1.3"/>
<line x1="50.53" y1="137" x2="50.53" y2="140.2" stroke="#000" stroke-width="1.3"/>
<line x1="55.81" y1="137" x2="55.81" y2="140.2" stroke="#000" stroke-width="1.3"/>
<line x1="59.56" y1="137" x2="59.56" y2="140.2" stroke="#000" stroke-width="1.3"/>
<line x1="62.47" y1="137" x2="62.47" y2="140.2" stroke="#000" stroke-width="1.3"/>
<line x1="64.84" y1="137" x2="64.84" y2="140.2" stroke="#000" stroke-width="1.3"/>
<line x1="66.85" y1="137" x2="66.85" y2="140.2" stroke="#000" stroke-width="1.3"/>
<line x1="68.59" y1="137" x2="68.59" y2="140.2" stroke="#000" stroke-width="1.3"/>
<line x1="70.13" y1="137" x2="70.13" y2="140.2" stroke="#000" stroke-width="1.3"/>
<line x1="71.5" y1="137" x2="71.5" y2="142.2" stroke="#000" stroke-width="1.3"/>
<line x1="80.53" y1="137" x2="80.53" y2="140.2" stroke="#000" stroke-width="1.3"/>
<line x1="85.81" y1="137" x2="85.81" y2="140.2" stroke="#000" stroke-width="1.3"/>
<line x1="89.56" y1="137" x2="89.56" y2="140.2" stroke="#000" stroke-width="1.3"/>
<line x1="92.47" y1="137" x2="92.47" y2="140.2" stroke="#000" stroke-width="1.3"/>
<line x1="94.84" y1="137" x2="94.84" y2="140.2" stroke="#000" stroke-width="1.3"/>
<line x1="96.85" y1="137" x2="96.85" y2="140.2" stroke="#000" stroke-width="1.3"/>
<line x1="98.59" y1="137" x2="98.59" y2="140.2" stroke="#000" stroke-width="1.3"/>
<line x1="100.13" y1="137" x2="100.13" y2="140.2" stroke="#000" stroke-width="1.3"/>
<line x1="101.5" y1="137" x2="101.5" y2="142.2" stroke="#000" stroke-width="1.3"/>
<line x1="110.53" y1="137" x2="110.53" y2="140.2" stroke="#000" stroke-width="1.3"/>
<line x1="115.81" y1="137" x2="115.81" y2="140.2" stroke="#000" stroke-width="1.3"/>
<line x1="119.56" y1="137" x2="119.56" y2="140.2" stroke="#000" stroke-width="1.3"/>
<line x1="122.47" y1="137" x2="122.47" y2="140.2" stroke="#000" stroke-width="1.3"/>
<line x1="124.84" y1="137" x2="124.84" y2="140.2" stroke="#000" stroke-width="1.3"/>
<line x1="126.85" y1="137" x2="126.85" y2="140.2" stroke="#000" stroke-width="1.3"/>
<line x1="128.59" y1="137" x2="128.59" y2="140.2" stroke="#000" stroke-width="1.3"/>
<line x1="130.13" y1="137" x2="130.13" y2="140.2" stroke="#000" stroke-width="1.3"/>
<line x1="131.5" y1="137" x2="131.5" y2="142.2" stroke="#000" stroke-width="1.3"/>
<line x1="140.53" y1="137" x2="140.53" y2="140.2" stroke="#000" stroke-width="1.3"/>
<line x1="145.81" y1="137" x2="145.81" y2="140.2" stroke="#000" stroke-width="1.3"/>
<line x1="149.56" y1="137" x2="149.56" y2="140.2" stroke="#000" stroke-width="1.3"/>
<line x1="152.47" y1="137" x2="152.47" y2="140.2" stroke="#000" stroke-width="1.3"/>
<line x1="154.84" y1="137" x2="154.84" y2="140.2" stroke="#000" stroke-width="1.3"/>
<line x1="156.85" y1="137" x2="156.85" y2="140.2" stroke="#000" stroke-width="1.3"/>
<line x1="158.59" y1="137" x2="158.59" y2="140.2" stroke="#000" stroke-width="1.3"/>
<line x1="160.13" y1="137" x2="160.13" y2="140.2" stroke="#000" stroke-width="1.3"/>
<line x1="161.5" y1="137" x2="161.5" y2="142.2" stroke="#000" stroke-width="1.3"/>
<ellipse cx="89.2" cy="43.5" rx="17.3" ry="16.2" fill="none" stroke="#111" stroke-width="1.1" transform="rotate(-10 89.2 43.5)"/>
<line x1="29.6" y1="149.3" x2="29.6" y2="24.2" stroke="#000" stroke-width="1.3"/>
<path d="M29.6,18.7 L26.4,25.2 L32.8,25.2 Z" stroke="#000" stroke-width="0" fill="#000"/>
<line x1="29" y1="148.7" x2="158.8" y2="148.7" stroke="#000" stroke-width="1.3"/>
<path d="M164.8,148.7 L157.8,145.5 L157.8,151.9 Z" stroke="#000" stroke-width="0" fill="#000"/>
<text x="0" y="0" font-family="Liberation Sans" font-size="13.7" font-weight="normal" font-style="normal" text-anchor="start" fill="#000" stroke="#000" stroke-width="0.1" transform="translate(23.1,58.9) rotate(-90)" textLength="34.6" lengthAdjust="spacingAndGlyphs">CD38</text>
<text x="122.3" y="163.4" font-family="Liberation Sans" font-size="12.4" font-weight="normal" font-style="normal" text-anchor="start" fill="#000" stroke="#000" stroke-width="0.1" textLength="35.2" lengthAdjust="spacingAndGlyphs">CD19</text>
<line x1="178.4" y1="22.7" x2="323.6" y2="22.7" stroke="#3a3a3a" stroke-width="1.2"/>
<line x1="323.6" y1="22.7" x2="323.6" y2="102" stroke="#3a3a3a" stroke-width="1.2"/>
<line x1="175.3" y1="102" x2="177.9" y2="102" stroke="#000" stroke-width="0.9"/>
<line x1="175.3" y1="98.4" x2="177.9" y2="98.4" stroke="#000" stroke-width="0.9"/>
<line x1="175.3" y1="94.8" x2="177.9" y2="94.8" stroke="#000" stroke-width="0.9"/>
<line x1="175.3" y1="91.2" x2="177.9" y2="91.2" stroke="#000" stroke-width="0.9"/>
<line x1="175.3" y1="87.6" x2="177.9" y2="87.6" stroke="#000" stroke-width="0.9"/>
<line x1="175.3" y1="84" x2="177.9" y2="84" stroke="#000" stroke-width="0.9"/>
<line x1="175.3" y1="80.4" x2="177.9" y2="80.4" stroke="#000" stroke-width="0.9"/>
<line x1="175.3" y1="76.8" x2="177.9" y2="76.8" stroke="#000" stroke-width="0.9"/>
<line x1="175.3" y1="73.2" x2="177.9" y2="73.2" stroke="#000" stroke-width="0.9"/>
<line x1="175.3" y1="69.6" x2="177.9" y2="69.6" stroke="#000" stroke-width="0.9"/>
<line x1="175.3" y1="66" x2="177.9" y2="66" stroke="#000" stroke-width="0.9"/>
<line x1="175.3" y1="62.4" x2="177.9" y2="62.4" stroke="#000" stroke-width="0.9"/>
<line x1="175.3" y1="58.8" x2="177.9" y2="58.8" stroke="#000" stroke-width="0.9"/>
<line x1="175.3" y1="55.2" x2="177.9" y2="55.2" stroke="#000" stroke-width="0.9"/>
<line x1="175.3" y1="51.6" x2="177.9" y2="51.6" stroke="#000" stroke-width="0.9"/>
<line x1="175.3" y1="48" x2="177.9" y2="48" stroke="#000" stroke-width="0.9"/>
<line x1="175.3" y1="44.4" x2="177.9" y2="44.4" stroke="#000" stroke-width="0.9"/>
<line x1="175.3" y1="40.8" x2="177.9" y2="40.8" stroke="#000" stroke-width="0.9"/>
<line x1="175.3" y1="37.2" x2="177.9" y2="37.2" stroke="#000" stroke-width="0.9"/>
<line x1="175.3" y1="33.6" x2="177.9" y2="33.6" stroke="#000" stroke-width="0.9"/>
<line x1="175.3" y1="30" x2="177.9" y2="30" stroke="#000" stroke-width="0.9"/>
<line x1="175.3" y1="26.4" x2="177.9" y2="26.4" stroke="#000" stroke-width="0.9"/>
<line x1="178.4" y1="102.6" x2="178.4" y2="105.8" stroke="#000" stroke-width="0.8"/>
<line x1="189.33" y1="102.6" x2="189.33" y2="104.4" stroke="#000" stroke-width="0.8"/>
<line x1="195.72" y1="102.6" x2="195.72" y2="104.4" stroke="#000" stroke-width="0.8"/>
<line x1="200.25" y1="102.6" x2="200.25" y2="104.4" stroke="#000" stroke-width="0.8"/>
<line x1="203.77" y1="102.6" x2="203.77" y2="104.4" stroke="#000" stroke-width="0.8"/>
<line x1="206.65" y1="102.6" x2="206.65" y2="104.4" stroke="#000" stroke-width="0.8"/>
<line x1="209.08" y1="102.6" x2="209.08" y2="104.4" stroke="#000" stroke-width="0.8"/>
<line x1="211.18" y1="102.6" x2="211.18" y2="104.4" stroke="#000" stroke-width="0.8"/>
<line x1="213.04" y1="102.6" x2="213.04" y2="104.4" stroke="#000" stroke-width="0.8"/>
<line x1="214.7" y1="102.6" x2="214.7" y2="105.8" stroke="#000" stroke-width="0.8"/>
<line x1="225.63" y1="102.6" x2="225.63" y2="104.4" stroke="#000" stroke-width="0.8"/>
<line x1="232.02" y1="102.6" x2="232.02" y2="104.4" stroke="#000" stroke-width="0.8"/>
<line x1="236.55" y1="102.6" x2="236.55" y2="104.4" stroke="#000" stroke-width="0.8"/>
<line x1="240.07" y1="102.6" x2="240.07" y2="104.4" stroke="#000" stroke-width="0.8"/>
<line x1="242.95" y1="102.6" x2="242.95" y2="104.4" stroke="#000" stroke-width="0.8"/>
<line x1="245.38" y1="102.6" x2="245.38" y2="104.4" stroke="#000" stroke-width="0.8"/>
<line x1="247.48" y1="102.6" x2="247.48" y2="104.4" stroke="#000" stroke-width="0.8"/>
<line x1="249.34" y1="102.6" x2="249.34" y2="104.4" stroke="#000" stroke-width="0.8"/>
<line x1="251" y1="102.6" x2="251" y2="105.8" stroke="#000" stroke-width="0.8"/>
<line x1="261.93" y1="102.6" x2="261.93" y2="104.4" stroke="#000" stroke-width="0.8"/>
<line x1="268.32" y1="102.6" x2="268.32" y2="104.4" stroke="#000" stroke-width="0.8"/>
<line x1="272.85" y1="102.6" x2="272.85" y2="104.4" stroke="#000" stroke-width="0.8"/>
<line x1="276.37" y1="102.6" x2="276.37" y2="104.4" stroke="#000" stroke-width="0.8"/>
<line x1="279.25" y1="102.6" x2="279.25" y2="104.4" stroke="#000" stroke-width="0.8"/>
<line x1="281.68" y1="102.6" x2="281.68" y2="104.4" stroke="#000" stroke-width="0.8"/>
<line x1="283.78" y1="102.6" x2="283.78" y2="104.4" stroke="#000" stroke-width="0.8"/>
<line x1="285.64" y1="102.6" x2="285.64" y2="104.4" stroke="#000" stroke-width="0.8"/>
<line x1="287.3" y1="102.6" x2="287.3" y2="105.8" stroke="#000" stroke-width="0.8"/>
<line x1="298.23" y1="102.6" x2="298.23" y2="104.4" stroke="#000" stroke-width="0.8"/>
<line x1="304.62" y1="102.6" x2="304.62" y2="104.4" stroke="#000" stroke-width="0.8"/>
<line x1="309.15" y1="102.6" x2="309.15" y2="104.4" stroke="#000" stroke-width="0.8"/>
<line x1="312.67" y1="102.6" x2="312.67" y2="104.4" stroke="#000" stroke-width="0.8"/>
<line x1="315.55" y1="102.6" x2="315.55" y2="104.4" stroke="#000" stroke-width="0.8"/>
<line x1="317.98" y1="102.6" x2="317.98" y2="104.4" stroke="#000" stroke-width="0.8"/>
<line x1="320.08" y1="102.6" x2="320.08" y2="104.4" stroke="#000" stroke-width="0.8"/>
<line x1="321.94" y1="102.6" x2="321.94" y2="104.4" stroke="#000" stroke-width="0.8"/>
<line x1="323.6" y1="102.6" x2="323.6" y2="105.8" stroke="#000" stroke-width="0.8"/>
<line x1="177.9" y1="102" x2="323.6" y2="102" stroke="#000" stroke-width="1.5"/>
<line x1="178.4" y1="22.3" x2="178.4" y2="102.7" stroke="#000" stroke-width="2"/>
<line x1="344.3" y1="22.9" x2="490" y2="22.9" stroke="#3a3a3a" stroke-width="1.2"/>
<line x1="490" y1="22.9" x2="490" y2="102" stroke="#3a3a3a" stroke-width="1.2"/>
<line x1="341.2" y1="102" x2="343.8" y2="102" stroke="#000" stroke-width="0.9"/>
<line x1="341.2" y1="98.4" x2="343.8" y2="98.4" stroke="#000" stroke-width="0.9"/>
<line x1="341.2" y1="94.8" x2="343.8" y2="94.8" stroke="#000" stroke-width="0.9"/>
<line x1="341.2" y1="91.2" x2="343.8" y2="91.2" stroke="#000" stroke-width="0.9"/>
<line x1="341.2" y1="87.6" x2="343.8" y2="87.6" stroke="#000" stroke-width="0.9"/>
<line x1="341.2" y1="84" x2="343.8" y2="84" stroke="#000" stroke-width="0.9"/>
<line x1="341.2" y1="80.4" x2="343.8" y2="80.4" stroke="#000" stroke-width="0.9"/>
<line x1="341.2" y1="76.8" x2="343.8" y2="76.8" stroke="#000" stroke-width="0.9"/>
<line x1="341.2" y1="73.2" x2="343.8" y2="73.2" stroke="#000" stroke-width="0.9"/>
<line x1="341.2" y1="69.6" x2="343.8" y2="69.6" stroke="#000" stroke-width="0.9"/>
<line x1="341.2" y1="66" x2="343.8" y2="66" stroke="#000" stroke-width="0.9"/>
<line x1="341.2" y1="62.4" x2="343.8" y2="62.4" stroke="#000" stroke-width="0.9"/>
<line x1="341.2" y1="58.8" x2="343.8" y2="58.8" stroke="#000" stroke-width="0.9"/>
<line x1="341.2" y1="55.2" x2="343.8" y2="55.2" stroke="#000" stroke-width="0.9"/>
<line x1="341.2" y1="51.6" x2="343.8" y2="51.6" stroke="#000" stroke-width="0.9"/>
<line x1="341.2" y1="48" x2="343.8" y2="48" stroke="#000" stroke-width="0.9"/>
<line x1="341.2" y1="44.4" x2="343.8" y2="44.4" stroke="#000" stroke-width="0.9"/>
<line x1="341.2" y1="40.8" x2="343.8" y2="40.8" stroke="#000" stroke-width="0.9"/>
<line x1="341.2" y1="37.2" x2="343.8" y2="37.2" stroke="#000" stroke-width="0.9"/>
<line x1="341.2" y1="33.6" x2="343.8" y2="33.6" stroke="#000" stroke-width="0.9"/>
<line x1="341.2" y1="30" x2="343.8" y2="30" stroke="#000" stroke-width="0.9"/>
<line x1="341.2" y1="26.4" x2="343.8" y2="26.4" stroke="#000" stroke-width="0.9"/>
<line x1="344.3" y1="102.6" x2="344.3" y2="105.8" stroke="#000" stroke-width="0.8"/>
<line x1="355.27" y1="102.6" x2="355.27" y2="104.4" stroke="#000" stroke-width="0.8"/>
<line x1="361.68" y1="102.6" x2="361.68" y2="104.4" stroke="#000" stroke-width="0.8"/>
<line x1="366.23" y1="102.6" x2="366.23" y2="104.4" stroke="#000" stroke-width="0.8"/>
<line x1="369.76" y1="102.6" x2="369.76" y2="104.4" stroke="#000" stroke-width="0.8"/>
<line x1="372.64" y1="102.6" x2="372.64" y2="104.4" stroke="#000" stroke-width="0.8"/>
<line x1="375.08" y1="102.6" x2="375.08" y2="104.4" stroke="#000" stroke-width="0.8"/>
<line x1="377.2" y1="102.6" x2="377.2" y2="104.4" stroke="#000" stroke-width="0.8"/>
<line x1="379.06" y1="102.6" x2="379.06" y2="104.4" stroke="#000" stroke-width="0.8"/>
<line x1="380.73" y1="102.6" x2="380.73" y2="105.8" stroke="#000" stroke-width="0.8"/>
<line x1="391.69" y1="102.6" x2="391.69" y2="104.4" stroke="#000" stroke-width="0.8"/>
<line x1="398.1" y1="102.6" x2="398.1" y2="104.4" stroke="#000" stroke-width="0.8"/>
<line x1="402.66" y1="102.6" x2="402.66" y2="104.4" stroke="#000" stroke-width="0.8"/>
<line x1="406.18" y1="102.6" x2="406.18" y2="104.4" stroke="#000" stroke-width="0.8"/>
<line x1="409.07" y1="102.6" x2="409.07" y2="104.4" stroke="#000" stroke-width="0.8"/>
<line x1="411.51" y1="102.6" x2="411.51" y2="104.4" stroke="#000" stroke-width="0.8"/>
<line x1="413.62" y1="102.6" x2="413.62" y2="104.4" stroke="#000" stroke-width="0.8"/>
<line x1="415.48" y1="102.6" x2="415.48" y2="104.4" stroke="#000" stroke-width="0.8"/>
<line x1="417.15" y1="102.6" x2="417.15" y2="105.8" stroke="#000" stroke-width="0.8"/>
<line x1="428.12" y1="102.6" x2="428.12" y2="104.4" stroke="#000" stroke-width="0.8"/>
<line x1="434.53" y1="102.6" x2="434.53" y2="104.4" stroke="#000" stroke-width="0.8"/>
<line x1="439.08" y1="102.6" x2="439.08" y2="104.4" stroke="#000" stroke-width="0.8"/>
<line x1="442.61" y1="102.6" x2="442.61" y2="104.4" stroke="#000" stroke-width="0.8"/>
<line x1="445.49" y1="102.6" x2="445.49" y2="104.4" stroke="#000" stroke-width="0.8"/>
<line x1="447.93" y1="102.6" x2="447.93" y2="104.4" stroke="#000" stroke-width="0.8"/>
<line x1="450.05" y1="102.6" x2="450.05" y2="104.4" stroke="#000" stroke-width="0.8"/>
<line x1="451.91" y1="102.6" x2="451.91" y2="104.4" stroke="#000" stroke-width="0.8"/>
<line x1="453.57" y1="102.6" x2="453.57" y2="105.8" stroke="#000" stroke-width="0.8"/>
<line x1="464.54" y1="102.6" x2="464.54" y2="104.4" stroke="#000" stroke-width="0.8"/>
<line x1="470.95" y1="102.6" x2="470.95" y2="104.4" stroke="#000" stroke-width="0.8"/>
<line x1="475.51" y1="102.6" x2="475.51" y2="104.4" stroke="#000" stroke-width="0.8"/>
<line x1="479.03" y1="102.6" x2="479.03" y2="104.4" stroke="#000" stroke-width="0.8"/>
<line x1="481.92" y1="102.6" x2="481.92" y2="104.4" stroke="#000" stroke-width="0.8"/>
<line x1="484.36" y1="102.6" x2="484.36" y2="104.4" stroke="#000" stroke-width="0.8"/>
<line x1="486.47" y1="102.6" x2="486.47" y2="104.4" stroke="#000" stroke-width="0.8"/>
<line x1="488.33" y1="102.6" x2="488.33" y2="104.4" stroke="#000" stroke-width="0.8"/>
<line x1="490" y1="102.6" x2="490" y2="105.8" stroke="#000" stroke-width="0.8"/>
<line x1="343.8" y1="102" x2="490" y2="102" stroke="#000" stroke-width="1.5"/>
<line x1="344.3" y1="22.5" x2="344.3" y2="102.7" stroke="#000" stroke-width="2"/>
<line x1="178.4" y1="121" x2="323.6" y2="121" stroke="#3a3a3a" stroke-width="1.2"/>
<line x1="323.6" y1="121" x2="323.6" y2="200.6" stroke="#3a3a3a" stroke-width="1.2"/>
<line x1="175.3" y1="200.6" x2="177.9" y2="200.6" stroke="#000" stroke-width="0.9"/>
<line x1="175.3" y1="197" x2="177.9" y2="197" stroke="#000" stroke-width="0.9"/>
<line x1="175.3" y1="193.4" x2="177.9" y2="193.4" stroke="#000" stroke-width="0.9"/>
<line x1="175.3" y1="189.8" x2="177.9" y2="189.8" stroke="#000" stroke-width="0.9"/>
<line x1="175.3" y1="186.2" x2="177.9" y2="186.2" stroke="#000" stroke-width="0.9"/>
<line x1="175.3" y1="182.6" x2="177.9" y2="182.6" stroke="#000" stroke-width="0.9"/>
<line x1="175.3" y1="179" x2="177.9" y2="179" stroke="#000" stroke-width="0.9"/>
<line x1="175.3" y1="175.4" x2="177.9" y2="175.4" stroke="#000" stroke-width="0.9"/>
<line x1="175.3" y1="171.8" x2="177.9" y2="171.8" stroke="#000" stroke-width="0.9"/>
<line x1="175.3" y1="168.2" x2="177.9" y2="168.2" stroke="#000" stroke-width="0.9"/>
<line x1="175.3" y1="164.6" x2="177.9" y2="164.6" stroke="#000" stroke-width="0.9"/>
<line x1="175.3" y1="161" x2="177.9" y2="161" stroke="#000" stroke-width="0.9"/>
<line x1="175.3" y1="157.4" x2="177.9" y2="157.4" stroke="#000" stroke-width="0.9"/>
<line x1="175.3" y1="153.8" x2="177.9" y2="153.8" stroke="#000" stroke-width="0.9"/>
<line x1="175.3" y1="150.2" x2="177.9" y2="150.2" stroke="#000" stroke-width="0.9"/>
<line x1="175.3" y1="146.6" x2="177.9" y2="146.6" stroke="#000" stroke-width="0.9"/>
<line x1="175.3" y1="143" x2="177.9" y2="143" stroke="#000" stroke-width="0.9"/>
<line x1="175.3" y1="139.4" x2="177.9" y2="139.4" stroke="#000" stroke-width="0.9"/>
<line x1="175.3" y1="135.8" x2="177.9" y2="135.8" stroke="#000" stroke-width="0.9"/>
<line x1="175.3" y1="132.2" x2="177.9" y2="132.2" stroke="#000" stroke-width="0.9"/>
<line x1="175.3" y1="128.6" x2="177.9" y2="128.6" stroke="#000" stroke-width="0.9"/>
<line x1="175.3" y1="125" x2="177.9" y2="125" stroke="#000" stroke-width="0.9"/>
<line x1="175.3" y1="121.4" x2="177.9" y2="121.4" stroke="#000" stroke-width="0.9"/>
<line x1="178.4" y1="201.2" x2="178.4" y2="204.4" stroke="#000" stroke-width="0.8"/>
<line x1="189.33" y1="201.2" x2="189.33" y2="203" stroke="#000" stroke-width="0.8"/>
<line x1="195.72" y1="201.2" x2="195.72" y2="203" stroke="#000" stroke-width="0.8"/>
<line x1="200.25" y1="201.2" x2="200.25" y2="203" stroke="#000" stroke-width="0.8"/>
<line x1="203.77" y1="201.2" x2="203.77" y2="203" stroke="#000" stroke-width="0.8"/>
<line x1="206.65" y1="201.2" x2="206.65" y2="203" stroke="#000" stroke-width="0.8"/>
<line x1="209.08" y1="201.2" x2="209.08" y2="203" stroke="#000" stroke-width="0.8"/>
<line x1="211.18" y1="201.2" x2="211.18" y2="203" stroke="#000" stroke-width="0.8"/>
<line x1="213.04" y1="201.2" x2="213.04" y2="203" stroke="#000" stroke-width="0.8"/>
<line x1="214.7" y1="201.2" x2="214.7" y2="204.4" stroke="#000" stroke-width="0.8"/>
<line x1="225.63" y1="201.2" x2="225.63" y2="203" stroke="#000" stroke-width="0.8"/>
<line x1="232.02" y1="201.2" x2="232.02" y2="203" stroke="#000" stroke-width="0.8"/>
<line x1="236.55" y1="201.2" x2="236.55" y2="203" stroke="#000" stroke-width="0.8"/>
<line x1="240.07" y1="201.2" x2="240.07" y2="203" stroke="#000" stroke-width="0.8"/>
<line x1="242.95" y1="201.2" x2="242.95" y2="203" stroke="#000" stroke-width="0.8"/>
<line x1="245.38" y1="201.2" x2="245.38" y2="203" stroke="#000" stroke-width="0.8"/>
<line x1="247.48" y1="201.2" x2="247.48" y2="203" stroke="#000" stroke-width="0.8"/>
<line x1="249.34" y1="201.2" x2="249.34" y2="203" stroke="#000" stroke-width="0.8"/>
<line x1="251" y1="201.2" x2="251" y2="204.4" stroke="#000" stroke-width="0.8"/>
<line x1="261.93" y1="201.2" x2="261.93" y2="203" stroke="#000" stroke-width="0.8"/>
<line x1="268.32" y1="201.2" x2="268.32" y2="203" stroke="#000" stroke-width="0.8"/>
<line x1="272.85" y1="201.2" x2="272.85" y2="203" stroke="#000" stroke-width="0.8"/>
<line x1="276.37" y1="201.2" x2="276.37" y2="203" stroke="#000" stroke-width="0.8"/>
<line x1="279.25" y1="201.2" x2="279.25" y2="203" stroke="#000" stroke-width="0.8"/>
<line x1="281.68" y1="201.2" x2="281.68" y2="203" stroke="#000" stroke-width="0.8"/>
<line x1="283.78" y1="201.2" x2="283.78" y2="203" stroke="#000" stroke-width="0.8"/>
<line x1="285.64" y1="201.2" x2="285.64" y2="203" stroke="#000" stroke-width="0.8"/>
<line x1="287.3" y1="201.2" x2="287.3" y2="204.4" stroke="#000" stroke-width="0.8"/>
<line x1="298.23" y1="201.2" x2="298.23" y2="203" stroke="#000" stroke-width="0.8"/>
<line x1="304.62" y1="201.2" x2="304.62" y2="203" stroke="#000" stroke-width="0.8"/>
<line x1="309.15" y1="201.2" x2="309.15" y2="203" stroke="#000" stroke-width="0.8"/>
<line x1="312.67" y1="201.2" x2="312.67" y2="203" stroke="#000" stroke-width="0.8"/>
<line x1="315.55" y1="201.2" x2="315.55" y2="203" stroke="#000" stroke-width="0.8"/>
<line x1="317.98" y1="201.2" x2="317.98" y2="203" stroke="#000" stroke-width="0.8"/>
<line x1="320.08" y1="201.2" x2="320.08" y2="203" stroke="#000" stroke-width="0.8"/>
<line x1="321.94" y1="201.2" x2="321.94" y2="203" stroke="#000" stroke-width="0.8"/>
<line x1="323.6" y1="201.2" x2="323.6" y2="204.4" stroke="#000" stroke-width="0.8"/>
<line x1="177.9" y1="200.6" x2="323.6" y2="200.6" stroke="#000" stroke-width="1.5"/>
<line x1="178.4" y1="120.6" x2="178.4" y2="201.3" stroke="#000" stroke-width="2"/>
<line x1="344.3" y1="121.2" x2="489.8" y2="121.2" stroke="#3a3a3a" stroke-width="1.2"/>
<line x1="489.8" y1="121.2" x2="489.8" y2="200.3" stroke="#3a3a3a" stroke-width="1.2"/>
<line x1="341.2" y1="200.3" x2="343.8" y2="200.3" stroke="#000" stroke-width="0.9"/>
<line x1="341.2" y1="196.7" x2="343.8" y2="196.7" stroke="#000" stroke-width="0.9"/>
<line x1="341.2" y1="193.1" x2="343.8" y2="193.1" stroke="#000" stroke-width="0.9"/>
<line x1="341.2" y1="189.5" x2="343.8" y2="189.5" stroke="#000" stroke-width="0.9"/>
<line x1="341.2" y1="185.9" x2="343.8" y2="185.9" stroke="#000" stroke-width="0.9"/>
<line x1="341.2" y1="182.3" x2="343.8" y2="182.3" stroke="#000" stroke-width="0.9"/>
<line x1="341.2" y1="178.7" x2="343.8" y2="178.7" stroke="#000" stroke-width="0.9"/>
<line x1="341.2" y1="175.1" x2="343.8" y2="175.1" stroke="#000" stroke-width="0.9"/>
<line x1="341.2" y1="171.5" x2="343.8" y2="171.5" stroke="#000" stroke-width="0.9"/>
<line x1="341.2" y1="167.9" x2="343.8" y2="167.9" stroke="#000" stroke-width="0.9"/>
<line x1="341.2" y1="164.3" x2="343.8" y2="164.3" stroke="#000" stroke-width="0.9"/>
<line x1="341.2" y1="160.7" x2="343.8" y2="160.7" stroke="#000" stroke-width="0.9"/>
<line x1="341.2" y1="157.1" x2="343.8" y2="157.1" stroke="#000" stroke-width="0.9"/>
<line x1="341.2" y1="153.5" x2="343.8" y2="153.5" stroke="#000" stroke-width="0.9"/>
<line x1="341.2" y1="149.9" x2="343.8" y2="149.9" stroke="#000" stroke-width="0.9"/>
<line x1="341.2" y1="146.3" x2="343.8" y2="146.3" stroke="#000" stroke-width="0.9"/>
<line x1="341.2" y1="142.7" x2="343.8" y2="142.7" stroke="#000" stroke-width="0.9"/>
<line x1="341.2" y1="139.1" x2="343.8" y2="139.1" stroke="#000" stroke-width="0.9"/>
<line x1="341.2" y1="135.5" x2="343.8" y2="135.5" stroke="#000" stroke-width="0.9"/>
<line x1="341.2" y1="131.9" x2="343.8" y2="131.9" stroke="#000" stroke-width="0.9"/>
<line x1="341.2" y1="128.3" x2="343.8" y2="128.3" stroke="#000" stroke-width="0.9"/>
<line x1="341.2" y1="124.7" x2="343.8" y2="124.7" stroke="#000" stroke-width="0.9"/>
<line x1="344.3" y1="200.9" x2="344.3" y2="204.1" stroke="#000" stroke-width="0.8"/>
<line x1="355.25" y1="200.9" x2="355.25" y2="202.7" stroke="#000" stroke-width="0.8"/>
<line x1="361.66" y1="200.9" x2="361.66" y2="202.7" stroke="#000" stroke-width="0.8"/>
<line x1="366.2" y1="200.9" x2="366.2" y2="202.7" stroke="#000" stroke-width="0.8"/>
<line x1="369.73" y1="200.9" x2="369.73" y2="202.7" stroke="#000" stroke-width="0.8"/>
<line x1="372.61" y1="200.9" x2="372.61" y2="202.7" stroke="#000" stroke-width="0.8"/>
<line x1="375.04" y1="200.9" x2="375.04" y2="202.7" stroke="#000" stroke-width="0.8"/>
<line x1="377.15" y1="200.9" x2="377.15" y2="202.7" stroke="#000" stroke-width="0.8"/>
<line x1="379.01" y1="200.9" x2="379.01" y2="202.7" stroke="#000" stroke-width="0.8"/>
<line x1="380.68" y1="200.9" x2="380.68" y2="204.1" stroke="#000" stroke-width="0.8"/>
<line x1="391.62" y1="200.9" x2="391.62" y2="202.7" stroke="#000" stroke-width="0.8"/>
<line x1="398.03" y1="200.9" x2="398.03" y2="202.7" stroke="#000" stroke-width="0.8"/>
<line x1="402.57" y1="200.9" x2="402.57" y2="202.7" stroke="#000" stroke-width="0.8"/>
<line x1="406.1" y1="200.9" x2="406.1" y2="202.7" stroke="#000" stroke-width="0.8"/>
<line x1="408.98" y1="200.9" x2="408.98" y2="202.7" stroke="#000" stroke-width="0.8"/>
<line x1="411.42" y1="200.9" x2="411.42" y2="202.7" stroke="#000" stroke-width="0.8"/>
<line x1="413.52" y1="200.9" x2="413.52" y2="202.7" stroke="#000" stroke-width="0.8"/>
<line x1="415.39" y1="200.9" x2="415.39" y2="202.7" stroke="#000" stroke-width="0.8"/>
<line x1="417.05" y1="200.9" x2="417.05" y2="204.1" stroke="#000" stroke-width="0.8"/>
<line x1="428" y1="200.9" x2="428" y2="202.7" stroke="#000" stroke-width="0.8"/>
<line x1="434.41" y1="200.9" x2="434.41" y2="202.7" stroke="#000" stroke-width="0.8"/>
<line x1="438.95" y1="200.9" x2="438.95" y2="202.7" stroke="#000" stroke-width="0.8"/>
<line x1="442.48" y1="200.9" x2="442.48" y2="202.7" stroke="#000" stroke-width="0.8"/>
<line x1="445.36" y1="200.9" x2="445.36" y2="202.7" stroke="#000" stroke-width="0.8"/>
<line x1="447.79" y1="200.9" x2="447.79" y2="202.7" stroke="#000" stroke-width="0.8"/>
<line x1="449.9" y1="200.9" x2="449.9" y2="202.7" stroke="#000" stroke-width="0.8"/>
<line x1="451.76" y1="200.9" x2="451.76" y2="202.7" stroke="#000" stroke-width="0.8"/>
<line x1="453.43" y1="200.9" x2="453.43" y2="204.1" stroke="#000" stroke-width="0.8"/>
<line x1="464.37" y1="200.9" x2="464.37" y2="202.7" stroke="#000" stroke-width="0.8"/>
<line x1="470.78" y1="200.9" x2="470.78" y2="202.7" stroke="#000" stroke-width="0.8"/>
<line x1="475.32" y1="200.9" x2="475.32" y2="202.7" stroke="#000" stroke-width="0.8"/>
<line x1="478.85" y1="200.9" x2="478.85" y2="202.7" stroke="#000" stroke-width="0.8"/>
<line x1="481.73" y1="200.9" x2="481.73" y2="202.7" stroke="#000" stroke-width="0.8"/>
<line x1="484.17" y1="200.9" x2="484.17" y2="202.7" stroke="#000" stroke-width="0.8"/>
<line x1="486.27" y1="200.9" x2="486.27" y2="202.7" stroke="#000" stroke-width="0.8"/>
<line x1="488.14" y1="200.9" x2="488.14" y2="202.7" stroke="#000" stroke-width="0.8"/>
<line x1="489.8" y1="200.9" x2="489.8" y2="204.1" stroke="#000" stroke-width="0.8"/>
<line x1="343.8" y1="200.3" x2="489.8" y2="200.3" stroke="#000" stroke-width="1.5"/>
<line x1="344.3" y1="120.8" x2="344.3" y2="201" stroke="#000" stroke-width="2"/>
<path d="M178,101.9L178,54.6L178.5,54.6L178.5,58.46L179,58.46L179,67L179.5,67L179.5,72.17L180,72.17L180,72.9L180.5,72.9L180.5,77.45L181,77.45L181,77.07L181.5,77.07L181.5,81.5L182,81.5L182,80.2L182.5,80.2L182.5,78.64L183,78.64L183,77.7L183.5,77.7L183.5,77.72L184,77.72L184,75.8L184.5,75.8L184.5,74.25L185,74.25L185,69L185.8,69L185.8,62.3L186.1,62.3L186.1,49.3L186.8,49.3L186.8,64.2L187.5,64.2L187.5,76.7L188,76.7L188,64.5L188.5,64.5L188.5,57.5L189.2,57.5L189.2,64.2L190,64.2L190,72.9L190.5,72.9L190.5,67.43L191,67.43L191,68L191.5,68L191.5,68.25L192,68.25L192,63.77L192.5,63.77L192.5,62.3L193,62.3L193,66.83L193.5,66.83L193.5,68L194,68L194,66.75L194.5,66.75L194.5,71.52L195,71.52L195,73.8L195.5,73.8L195.5,72.82L196,72.82L196,69L196.5,69L196.5,65.03L197,65.03L197,67.38L197.5,67.38L197.5,62.3L198,62.3L198,70.62L198.5,70.62L198.5,73.8L199,73.8L199,69.2L199.5,69.2L199.5,67.56L200,67.56L200,69L200.8,69L200.8,62.3L201.3,62.3L201.3,54.1L202,54.1L202,67.1L202.7,67.1L202.7,72.67L203.4,72.67L203.4,77.7L203.95,77.7L203.95,74.76L204.5,74.76L204.5,66.2L205.1,66.2L205.1,62.54L205.7,62.54L205.7,58.59L206.3,58.59L206.3,57.5L207.2,57.5L207.2,64.2L207.8,64.2L207.8,66.9L208.4,66.9L208.4,67.59L209,67.59L209,73.8L209.5,73.8L209.5,67.94L210,67.94L210,65.25L210.5,65.25L210.5,61.55L211,61.55L211,57.5L211.5,57.5L211.5,61.54L212,61.54L212,69L212.5,69L212.5,64.4L213,64.4L213,61.45L213.5,61.45L213.5,60.12L214,60.12L214,57.5L214.5,57.5L214.5,59.5L215,59.5L215,64.2L215.5,64.2L215.5,58.74L216,58.74L216,59.4L216.65,59.4L216.65,56.76L217.3,56.76L217.3,49.8L217.9,49.8L217.9,57.36L218.5,57.36L218.5,64.2L219,64.2L219,66.56L219.5,66.56L219.5,67.1L220,67.1L220,71.9L220.5,71.9L220.5,68.94L221,68.94L221,70L221.5,70L221.5,77L222,77L222,77.7L222.5,77.7L222.5,81.9L223,81.9L223,81.5L223.5,81.5L223.5,80.52L224,80.52L224,84.4L224.5,84.4L224.5,85.78L225,85.78L225,89.3L225.5,89.3L225.5,91.6L226,91.6L226,92.36L226.5,92.36L226.5,94.36L227,94.36L227,93L227.5,93L227.5,93.15L228,93.15L228,95.39L228.5,95.39L228.5,95.17L229,95.17L229,95L229.5,95L229.5,94.97L230,94.97L230,96.51L230.5,96.51L230.5,97.9L231,97.9L231,97.5L231.5,97.5L231.5,98.7L232,98.7L232,98.46L232.5,98.46L232.5,99.07L233,99.07L233,99.4L233.5,99.4L233.5,98.03L234,98.03L234,97.69L234.5,97.69L234.5,98.28L235,98.28L235,97L235.5,97L235.5,96.25L236,96.25L236,94.97L236.5,94.97L236.5,95.67L237,95.67L237,95L237.5,95L237.5,95.45L238,95.45L238,95.04L238.5,95.04L238.5,94L239,94L239,92.76L239.5,92.76L239.5,92.37L240,92.37L240,92L240.5,92L240.5,91.87L241,91.87L241,93.17L241.5,93.17L241.5,91.59L242,91.59L242,91.3L242.5,91.3L242.5,90.35L243,90.35L243,90.59L243.5,90.59L243.5,87.42L244,87.42L244,90L244.5,90L244.5,86.83L245,86.83L245,90.8L245.5,90.8L245.5,92.34L246,92.34L246,89L246.5,89L246.5,89.35L247,89.35L247,87.82L247.5,87.82L247.5,86.14L248,86.14L248,88L248.5,88L248.5,88.68L249,88.68L249,92.42L249.5,92.42L249.5,90L250.05,90L250.05,87.73L250.6,87.73L250.6,82L251.5,82L251.5,88L252,88L252,87.59L252.5,87.59L252.5,88.97L253,88.97L253,86L253.5,86L253.5,83.54L254,83.54L254,84.59L254.5,84.59L254.5,86.65L255,86.65L255,83L255.63,83L255.63,81.56L256.27,81.56L256.27,78.87L256.9,78.87L256.9,77.2L257.45,77.2L257.45,77.62L258,77.62L258,81L258.5,81L258.5,82.64L259,82.64L259,86.59L259.5,86.59L259.5,85L260,85L260,80.84L260.5,80.84L260.5,84.82L261,84.82L261,82L261.5,82L261.5,84.7L262,84.7L262,83.3L262.5,83.3L262.5,87L263,87L263,87.31L263.5,87.31L263.5,87L264,87L264,88.31L264.5,88.31L264.5,85.79L265,85.79L265,85L265.5,85L265.5,86.54L266,86.54L266,87.3L266.5,87.3L266.5,87L267,87L267,84.81L267.5,84.81L267.5,90.19L268,90.19L268,88L268.5,88L268.5,88.95L269,88.95L269,87.08L269.5,87.08L269.5,89.53L270,89.53L270,90L270.5,90L270.5,90.08L271,90.08L271,89.47L271.5,89.47L271.5,89.59L272,89.59L272,90.7L272.5,90.7L272.5,91.49L273,91.49L273,92.51L273.5,92.51L273.5,92.99L274,92.99L274,93L274.5,93L274.5,93.41L275,93.41L275,92.26L275.5,92.26L275.5,93.78L276,93.78L276,95.4L276.5,95.4L276.5,95.3L277,95.3L277,97.35L277.5,97.35L277.5,98L278,98L278,99.8L278.5,99.8L278.5,100.81L279,100.81L279,101.9L279.5,101.9L279.5,101.9L280,101.9L280,101.9L280.5,101.9L280.5,101.9L281,101.9L281,101.9L281.51,101.9L281.51,101.9L282.01,101.9L282.01,101.9L282.51,101.9L282.51,101.9L283.01,101.9L283.01,101.9L283.51,101.9L283.51,101.9L284.01,101.9L284.01,101.9L284.51,101.9L284.51,101.9L285.01,101.9L285.01,101.9L285.51,101.9L285.51,101.9L286.02,101.9L286.02,101.9L286.52,101.9L286.52,101.9L287.02,101.9L287.02,101.9L287.52,101.9L287.52,101.9L288.02,101.9L288.02,101.9L288.52,101.9L288.52,101.9L289.02,101.9L289.02,101.9L289.52,101.9L289.52,101.9L290.02,101.9L290.02,101.9L290.53,101.9L290.53,101.9L291.03,101.9L291.03,101.9L291.53,101.9L291.53,101.9L292.03,101.9L292.03,101.9L292.53,101.9L292.53,101.9L293.03,101.9L293.03,101.9L293.53,101.9L293.53,101.9L294.03,101.9L294.03,101.9L294.53,101.9L294.53,101.9L295.04,101.9L295.04,101.9L295.54,101.9L295.54,101.9L296.04,101.9L296.04,101.9L296.54,101.9L296.54,101.9L297.04,101.9L297.04,101.9L297.54,101.9L297.54,101.9L298.04,101.9L298.04,101.9L298.54,101.9L298.54,101.9L299.04,101.9L299.04,101.9L299.55,101.9L299.55,101.9L300.05,101.9L300.05,101.9L300.55,101.9L300.55,101.9L301.05,101.9L301.05,101.9L301.55,101.9L301.55,101.9L302.05,101.9L302.05,101.9L302.55,101.9L302.55,101.9L303.05,101.9L303.05,101.9L303.56,101.9L303.56,101.9L304.06,101.9L304.06,101.9L304.56,101.9L304.56,101.9L305.06,101.9L305.06,101.9L305.56,101.9L305.56,101.9L306.06,101.9L306.06,101.9L306.56,101.9L306.56,101.9L307.06,101.9L307.06,101.9L307.56,101.9L307.56,101.9L308.07,101.9L308.07,101.9L308.57,101.9L308.57,101.9L309.07,101.9L309.07,101.9L309.57,101.9L309.57,101.9L310.07,101.9L310.07,101.9L310.57,101.9L310.57,101.9L311.07,101.9L311.07,101.9L311.57,101.9L311.57,101.9L312.07,101.9L312.07,101.9L312.58,101.9L312.58,101.9L313.08,101.9L313.08,101.9L313.58,101.9L313.58,101.9L314.08,101.9L314.08,101.9L314.58,101.9L314.58,101.9L315.08,101.9L315.08,101.9L315.58,101.9L315.58,101.9L316.08,101.9L316.08,101.9L316.58,101.9L316.58,101.9L317.09,101.9L317.09,101.9L317.59,101.9L317.59,101.9L318.09,101.9L318.09,101.9L318.59,101.9L318.59,101.9L319.09,101.9L319.09,101.9L319.59,101.9L319.59,101.9L320.09,101.9L320.09,101.9L320.59,101.9L320.59,101.9L321.09,101.9L321.09,101.9L321.6,101.9L321.6,101.9L322.1,101.9L322.1,101.9L322.6,101.9L322.6,101.9L323.1,101.9L323.1,101.9L323.6,101.9L323.6,101.9" stroke="#000" stroke-width="1.8" fill="none" stroke-linejoin="miter" stroke-miterlimit="2"/>
<path d="M344.4,101.9L344.4,44.6L344.9,44.6L344.9,65.04L345.4,65.04L345.4,80L345.9,80L345.9,78.69L346.4,78.69L346.4,72L346.9,72L346.9,66.34L347.4,66.34L347.4,66L347.9,66L347.9,66.51L348.4,66.51L348.4,72L348.9,72L348.9,72.01L349.4,72.01L349.4,68L349.9,68L349.9,72.42L350.4,72.42L350.4,74L350.9,74L350.9,71.02L351.4,71.02L351.4,66L351.9,66L351.9,66.85L352.4,66.85L352.4,70L352.9,70L352.9,67.64L353.4,67.64L353.4,64L353.9,64L353.9,68.64L354.4,68.64L354.4,72L354.9,72L354.9,70.49L355.4,70.49L355.4,68L355.9,68L355.9,59.25L356.4,59.25L356.4,54.6L356.9,54.6L356.9,60.88L357.4,60.88L357.4,68L357.9,68L357.9,70.36L358.4,70.36L358.4,74L358.9,74L358.9,71.34L359.4,71.34L359.4,66L359.9,66L359.9,63.27L360.4,63.27L360.4,54.6L360.9,54.6L360.9,65L361.4,65L361.4,70L361.9,70L361.9,72.27L362.4,72.27L362.4,74L362.9,74L362.9,69.67L363.4,69.67L363.4,66L363.9,66L363.9,58.91L364.4,58.91L364.4,54.6L364.9,54.6L364.9,57.52L365.4,57.52L365.4,66L365.9,66L365.9,66.16L366.4,66.16L366.4,72L366.9,72L366.9,73.79L367.4,73.79L367.4,76L367.9,76L367.9,76.91L368.4,76.91L368.4,80L368.9,80L368.9,81.98L369.4,81.98L369.4,85.4L369.9,85.4L369.9,86.05L370.4,86.05L370.4,82L370.9,82L370.9,80.15L371.4,80.15L371.4,78L371.9,78L371.9,76.36L372.4,76.36L372.4,74L372.9,74L372.9,68.42L373.4,68.42L373.4,66L373.9,66L373.9,64.64L374.4,64.64L374.4,69L374.9,69L374.9,69.45L375.4,69.45L375.4,72L375.9,72L375.9,66.82L376.4,66.82L376.4,66L376.9,66L376.9,72.06L377.4,72.06L377.4,78L377.9,78L377.9,74.99L378.4,74.99L378.4,66L378.9,66L378.9,67.05L379.4,67.05L379.4,66L379.9,66L379.9,66.09L380.4,66.09L380.4,70L380.9,70L380.9,69.69L381.4,69.69L381.4,66.45L381.9,66.45L381.9,62L382.4,62L382.4,65.41L382.9,65.41L382.9,66L383.4,66L383.4,67.11L383.9,67.11L383.9,64.91L384.4,64.91L384.4,62L384.9,62L384.9,59.24L385.4,59.24L385.4,52.12L385.9,52.12L385.9,48.5L386.4,48.5L386.4,55.14L386.9,55.14L386.9,56L387.4,56L387.4,60.77L387.9,60.77L387.9,60L388.4,60L388.4,59.97L388.9,59.97L388.9,64L389.45,64L389.45,64.52L390,64.52L390,62L390.9,62L390.9,58L391.4,58L391.4,61.29L391.9,61.29L391.9,62L392.4,62L392.4,59.77L392.9,59.77L392.9,58L393.45,58L393.45,56.08L394,56.08L394,53.8L394.9,53.8L394.9,58L395.4,58L395.4,58.94L395.9,58.94L395.9,60L396.4,60L396.4,64.55L396.9,64.55L396.9,64L397.5,64L397.5,65.66L398.1,65.66L398.1,67.3L398.75,67.3L398.75,71.64L399.4,71.64L399.4,72L400.1,72L400.1,75.52L400.8,75.52L400.8,80.8L401.33,80.8L401.33,84.16L401.87,84.16L401.87,85.33L402.4,85.33L402.4,84L402.9,84L402.9,87.52L403.4,87.52L403.4,91.5L403.94,91.5L403.94,92.64L404.48,92.64L404.48,94.98L405.02,94.98L405.02,94.85L405.56,94.85L405.56,94.73L406.1,94.73L406.1,95.6L406.75,95.6L406.75,91.53L407.4,91.53L407.4,90L407.95,90L407.95,88L408.5,88L408.5,89.3L409.05,89.3L409.05,85.15L409.6,85.15L409.6,86.2L410.25,86.2L410.25,91.55L410.9,91.55L410.9,92L411.4,92L411.4,91.86L411.9,91.86L411.9,95.47L412.4,95.47L412.4,94.01L412.9,94.01L412.9,95.6L413.4,95.6L413.4,97.04L413.9,97.04L413.9,96.25L414.4,96.25L414.4,95.61L414.9,95.61L414.9,95.66L415.4,95.66L415.4,95.6L415.98,95.6L415.98,96.08L416.56,96.08L416.56,95.88L417.14,95.88L417.14,95.01L417.72,95.01L417.72,94.68L418.3,94.68L418.3,95.6L418.95,95.6L418.95,90.97L419.6,90.97L419.6,86.2L420.2,86.2L420.2,90.07L420.8,90.07L420.8,89.47L421.4,89.47L421.4,90L421.95,90L421.95,87.93L422.5,87.93L422.5,92.54L423.05,92.54L423.05,92.34L423.6,92.34L423.6,91.5L424.16,91.5L424.16,93.41L424.72,93.41L424.72,89.3L425.28,89.3L425.28,92.09L425.84,92.09L425.84,87.94L426.4,87.94L426.4,90.2L426.9,90.2L426.9,89.05L427.4,89.05L427.4,84.71L427.9,84.71L427.9,84L428.47,84L428.47,80.36L429.03,80.36L429.03,82.25L429.6,82.25L429.6,78L430.25,78L430.25,72.64L430.9,72.64L430.9,72L431.4,72L431.4,70.13L431.9,70.13L431.9,68L432.5,68L432.5,69.12L433.1,69.12L433.1,66L433.75,66L433.75,66.47L434.4,66.47L434.4,70L434.9,70L434.9,65.26L435.4,65.26L435.4,64L435.97,64L435.97,64.25L436.53,64.25L436.53,59.47L437.1,59.47L437.1,57.9L437.9,57.9L437.9,66L438.4,66L438.4,71.3L438.9,71.3L438.9,74L439.8,74L439.8,80L440.33,80L440.33,79.19L440.87,79.19L440.87,83.17L441.4,83.17L441.4,86L441.9,86L441.9,85.43L442.4,85.43L442.4,88.8L442.9,88.8L442.9,90.39L443.4,90.39L443.4,87.4L443.9,87.4L443.9,93.05L444.4,93.05L444.4,91L444.9,91L444.9,89.24L445.4,89.24L445.4,93.43L445.9,93.43L445.9,93L446.4,93L446.4,91.67L446.9,91.67L446.9,93.37L447.4,93.37L447.4,96.04L447.9,96.04L447.9,95.6L448.4,95.6L448.4,95.37L448.9,95.37L448.9,96.28L449.4,96.28L449.4,98.17L449.9,98.17L449.9,98.5L450.4,98.5L450.4,99.2L450.9,99.2L450.9,99.81L451.4,99.81L451.4,101.26L451.9,101.26L451.9,101.9L452.4,101.9L452.4,101.9L452.9,101.9L452.9,101.9L453.4,101.9L453.4,101.9L453.9,101.9L453.9,101.9L454.4,101.9L454.4,101.9L454.9,101.9L454.9,101.9L455.4,101.9L455.4,101.9L455.9,101.9L455.9,101.9L456.4,101.9L456.4,101.9L456.9,101.9L456.9,101.9L457.4,101.9L457.4,101.9L457.9,101.9L457.9,101.9L458.4,101.9L458.4,101.9L458.9,101.9L458.9,101.9L459.4,101.9L459.4,101.9L459.9,101.9L459.9,101.9L460.4,101.9L460.4,101.9L460.9,101.9L460.9,101.9L461.4,101.9L461.4,101.9L461.9,101.9L461.9,101.9L462.4,101.9L462.4,101.9L462.9,101.9L462.9,101.9L463.4,101.9L463.4,101.9L463.9,101.9L463.9,101.9L464.4,101.9L464.4,101.9L464.9,101.9L464.9,101.9L465.4,101.9L465.4,101.9L465.9,101.9L465.9,101.9L466.4,101.9L466.4,101.9L466.9,101.9L466.9,101.9L467.4,101.9L467.4,101.9L467.9,101.9L467.9,101.9L468.4,101.9L468.4,101.9L468.9,101.9L468.9,101.9L469.4,101.9L469.4,101.9L469.9,101.9L469.9,101.9L470.4,101.9L470.4,101.9L470.9,101.9L470.9,101.9L471.4,101.9L471.4,101.9L471.9,101.9L471.9,101.9L472.4,101.9L472.4,101.9L472.9,101.9L472.9,101.9L473.4,101.9L473.4,101.9L473.9,101.9L473.9,101.9L474.4,101.9L474.4,101.9L474.9,101.9L474.9,101.9L475.4,101.9L475.4,101.9L475.9,101.9L475.9,101.9L476.4,101.9L476.4,101.9L476.9,101.9L476.9,101.9L477.4,101.9L477.4,101.9L477.9,101.9L477.9,101.9L478.4,101.9L478.4,101.9L478.9,101.9L478.9,101.9L479.4,101.9L479.4,101.9L479.9,101.9L479.9,101.9L480.4,101.9L480.4,101.9L480.9,101.9L480.9,101.9L481.4,101.9L481.4,101.9L481.9,101.9L481.9,101.9L482.4,101.9L482.4,101.9L482.9,101.9L482.9,101.9L483.4,101.9L483.4,101.9L483.9,101.9L483.9,101.9L484.4,101.9L484.4,101.9L484.9,101.9L484.9,101.9L485.4,101.9L485.4,101.9L485.9,101.9L485.9,101.9L486.4,101.9L486.4,101.9L486.9,101.9L486.9,101.9L487.4,101.9L487.4,101.9L487.9,101.9L487.9,101.9L488.4,101.9L488.4,101.9L488.9,101.9L488.9,101.9L489.4,101.9L489.4,101.9" stroke="#000" stroke-width="1.8" fill="none" stroke-linejoin="miter" stroke-miterlimit="2"/>
<path d="M178,200.7L178,149L178.5,149L178.5,155.11L179,155.11L179,165L179.5,165L179.5,171.67L180,171.67L180,177.7L180.4,177.7L180.4,175.38L180.8,175.38L180.8,175.69L181.2,175.69L181.2,174.47L181.6,174.47L181.6,169.05L182,169.05L182,170.8L182.5,170.8L182.5,167.89L183,167.89L183,172L183.5,172L183.5,170.73L184,170.73L184,164.6L184.5,164.6L184.5,165.57L185,165.57L185,170L185.5,170L185.5,171.59L186,171.59L186,177L186.5,177L186.5,178.07L187,178.07L187,172L187.5,172L187.5,170.29L188,170.29L188,169L188.5,169L188.5,169.92L189,169.92L189,166L189.5,166L189.5,163.58L190,163.58L190,161.5L190.5,161.5L190.5,157.9L191,157.9L191,149.78L191.5,149.78L191.5,147.7L192,147.7L192,153.82L192.5,153.82L192.5,158L193,158L193,160L193.5,160L193.5,165.65L194,165.65L194,166L194.5,166L194.5,167.17L195,167.17L195,168L195.5,168L195.5,171.74L196,171.74L196,172L196.5,172L196.5,172.23L197,172.23L197,170L197.5,170L197.5,166.36L198,166.36L198,169L198.5,169L198.5,172.36L199,172.36L199,172L199.5,172L199.5,173.66L200,173.66L200,174L200.5,174L200.5,171.07L201,171.07L201,171L201.5,171L201.5,166.62L202,166.62L202,169L202.5,169L202.5,173.63L203,173.63L203,173L203.5,173L203.5,174L204,174L204,175.4L204.5,175.4L204.5,178.28L205,178.28L205,178L205.5,178L205.5,181.73L206,181.73L206,180L206.5,180L206.5,182.54L207,182.54L207,182L207.5,182L207.5,185.93L208,185.93L208,183.8L208.5,183.8L208.5,183.64L209,183.64L209,185L209.5,185L209.5,187.67L210,187.67L210,186L210.5,186L210.5,186.1L211,186.1L211,187L211.5,187L211.5,190.49L212,190.49L212,187.7L212.5,187.7L212.5,191.93L213,191.93L213,191L213.7,191L213.7,194.6L214.1,194.6L214.1,190.77L214.5,190.77L214.5,190.8L215,190.8L215,187.38L215.5,187.38L215.5,186.7L216,186.7L216,187.7L216.5,187.7L216.5,191.2L217,191.2L217,188L217.5,188L217.5,186.54L218,186.54L218,186L218.5,186L218.5,185.91L219,185.91L219,184L219.5,184L219.5,181.32L220,181.32L220,181.5L220.5,181.5L220.5,180.8L221,180.8L221,180L221.5,180L221.5,178.43L222,178.43L222,178.5L222.5,178.5L222.5,178.68L223,178.68L223,181L223.5,181L223.5,181.11L224,181.11L224,180L224.5,180L224.5,186.01L225,186.01L225,190.8L225.5,190.8L225.5,186.01L226,186.01L226,175.4L226.5,175.4L226.5,177.01L227,177.01L227,176L227.5,176L227.5,177.24L228,177.24L228,172.3L228.5,172.3L228.5,171.02L229,171.02L229,164.6L229.5,164.6L229.5,175.84L230,175.84L230,180L230.5,180L230.5,179.23L231,179.23L231,176L231.5,176L231.5,172.07L232,172.07L232,173L232.5,173L232.5,176.1L233,176.1L233,174L233.5,174L233.5,176.5L234,176.5L234,172.3L234.5,172.3L234.5,173.06L235,173.06L235,168L235.5,168L235.5,166.8L236,166.8L236,164.6L236.5,164.6L236.5,164.84L237,164.84L237,162L237.5,162L237.5,158.17L238,158.17L238,158.5L238.5,158.5L238.5,157.64L239,157.64L239,152L239.5,152L239.5,147L240,147L240,151.53L240.5,151.53L240.5,155L241,155L241,160L241.5,160L241.5,159.45L242,159.45L242,162L242.5,162L242.5,159.36L243,159.36L243,163L243.5,163L243.5,169.45L244,169.45L244,170.8L244.5,170.8L244.5,174.93L245,174.93L245,172L245.5,172L245.5,170.74L246,170.74L246,175.4L246.5,175.4L246.5,178.86L247,178.86L247,178L247.5,178L247.5,179.11L248,179.11L248,181.5L248.5,181.5L248.5,180.24L249,180.24L249,184L249.5,184L249.5,183.52L250,183.52L250,186L250.5,186L250.5,190.34L251,190.34L251,190.8L251.5,190.8L251.5,196L252,196L252,198.5L252.5,198.5L252.5,178.5L253,178.5L253,179.97L253.5,179.97L253.5,188L254,188L254,189.74L254.5,189.74L254.5,186.91L255,186.91L255,190.8L255.4,190.8L255.4,193.05L255.8,193.05L255.8,192.22L256.2,192.22L256.2,195.61L256.6,195.61L256.6,196.79L257,196.79L257,196.3L257.5,196.3L257.5,194.89L258,194.89L258,195.61L258.5,195.61L258.5,192L259,192L259,190.64L259.5,190.64L259.5,188.96L260,188.96L260,191L260.5,191L260.5,192.99L261,192.99L261,194L261.5,194L261.5,194.68L262,194.68L262,198L262.5,198L262.5,195.15L263,195.15L263,194L263.4,194L263.4,193.36L263.8,193.36L263.8,193.96L264.2,193.96L264.2,191.68L264.6,191.68L264.6,190.84L265,190.84L265,192.7L265.5,192.7L265.5,193.41L266,193.41L266,190L266.5,190L266.5,186.66L267,186.66L267,186L267.5,186L267.5,190.05L268,190.05L268,187.5L268.5,187.5L268.5,188.61L269,188.61L269,184L269.5,184L269.5,182.22L270,182.22L270,182.2L270.5,182.2L270.5,180.81L271,180.81L271,180L271.5,180L271.5,179.49L272,179.49L272,178.7L272.5,178.7L272.5,180.39L273,180.39L273,180L273.5,180L273.5,178.69L274,178.69L274,176L274.5,176L274.5,176.43L275,176.43L275,176L275.5,176L275.5,174.86L276,174.86L276,172L276.5,172L276.5,173.67L277,173.67L277,169L277.5,169L277.5,171.55L278,171.55L278,174L278.5,174L278.5,174L279,174L279,175L279.5,175L279.5,173.09L280,173.09L280,168L280.5,168L280.5,164.2L281,164.2L281,166.21L281.5,166.21L281.5,172L282,172L282,178.7L282.5,178.7L282.5,177.92L283,177.92L283,180L283.5,180L283.5,184.44L284,184.44L284,182L284.5,182L284.5,183.15L285,183.15L285,184L285.5,184L285.5,185.2L286,185.2L286,185.7L286.5,185.7L286.5,183.33L287,183.33L287,188L287.5,188L287.5,187.89L288,187.89L288,189L288.5,189L288.5,190.51L289,190.51L289,191L289.5,191L289.5,190.14L290,190.14L290,194L290.5,194L290.5,194.93L291,194.93L291,195L291.5,195L291.5,196.83L292,196.83L292,198L292.4,198L292.4,197.97L292.8,197.97L292.8,199.2L293.2,199.2L293.2,199.6L293.6,199.6L293.6,200.22L294,200.22L294,200.7L294.4,200.7L294.4,200.7L294.81,200.7L294.81,200.7L295.21,200.7L295.21,200.7L295.61,200.7L295.61,200.7L296.01,200.7L296.01,200.7L296.42,200.7L296.42,200.7L296.82,200.7L296.82,200.7L297.22,200.7L297.22,200.7L297.62,200.7L297.62,200.7L298.03,200.7L298.03,200.7L298.43,200.7L298.43,200.7L298.83,200.7L298.83,200.7L299.24,200.7L299.24,200.7L299.64,200.7L299.64,200.7L300.04,200.7L300.04,200.7L300.44,200.7L300.44,200.7L300.85,200.7L300.85,200.7L301.25,200.7L301.25,200.7L301.65,200.7L301.65,200.7L302.06,200.7L302.06,200.7L302.46,200.7L302.46,200.7L302.86,200.7L302.86,200.7L303.26,200.7L303.26,200.7L303.67,200.7L303.67,200.7L304.07,200.7L304.07,200.7L304.47,200.7L304.47,200.7L304.88,200.7L304.88,200.7L305.28,200.7L305.28,200.7L305.68,200.7L305.68,200.7L306.08,200.7L306.08,200.7L306.49,200.7L306.49,200.7L306.89,200.7L306.89,200.7L307.29,200.7L307.29,200.7L307.69,200.7L307.69,200.7L308.1,200.7L308.1,200.7L308.5,200.7L308.5,200.7L308.9,200.7L308.9,200.7L309.31,200.7L309.31,200.7L309.71,200.7L309.71,200.7L310.11,200.7L310.11,200.7L310.51,200.7L310.51,200.7L310.92,200.7L310.92,200.7L311.32,200.7L311.32,200.7L311.72,200.7L311.72,200.7L312.12,200.7L312.12,200.7L312.53,200.7L312.53,200.7L312.93,200.7L312.93,200.7L313.33,200.7L313.33,200.7L313.74,200.7L313.74,200.7L314.14,200.7L314.14,200.7L314.54,200.7L314.54,200.7L314.94,200.7L314.94,200.7L315.35,200.7L315.35,200.7L315.75,200.7L315.75,200.7L316.15,200.7L316.15,200.7L316.56,200.7L316.56,200.7L316.96,200.7L316.96,200.7L317.36,200.7L317.36,200.7L317.76,200.7L317.76,200.7L318.17,200.7L318.17,200.7L318.57,200.7L318.57,200.7L318.97,200.7L318.97,200.7L319.38,200.7L319.38,200.7L319.78,200.7L319.78,200.7L320.18,200.7L320.18,200.7L320.58,200.7L320.58,200.7L320.99,200.7L320.99,200.7L321.39,200.7L321.39,200.7L321.79,200.7L321.79,200.7L322.19,200.7L322.19,200.7L322.6,200.7L322.6,200.7L323,200.7L323,200.7" stroke="#000" stroke-width="1.7" fill="none" stroke-linejoin="miter" stroke-miterlimit="2"/>
<path d="M344.4,200.3L344.4,155.4L344.9,155.4L344.9,168.78L345.4,168.78L345.4,184.7L345.9,184.7L345.9,181.95L346.4,181.95L346.4,183L346.9,183L346.9,181L347.4,181L347.4,180L347.9,180L347.9,178.84L348.4,178.84L348.4,181L348.9,181L348.9,177.62L349.4,177.62L349.4,178.4L349.9,178.4L349.9,178.23L350.4,178.23L350.4,179L350.9,179L350.9,179.51L351.4,179.51L351.4,176L351.9,176L351.9,177.94L352.4,177.94L352.4,177L352.9,177L352.9,176.77L353.4,176.77L353.4,174L353.9,174L353.9,172.07L354.4,172.07L354.4,172.8L354.9,172.8L354.9,173.58L355.4,173.58L355.4,174L355.9,174L355.9,170.93L356.4,170.93L356.4,170L356.9,170L356.9,168.93L357.4,168.93L357.4,171L357.9,171L357.9,167.61L358.4,167.61L358.4,168L358.9,168L358.9,166.28L359.4,166.28L359.4,167.3L359.9,167.3L359.9,168.7L360.4,168.7L360.4,166L360.9,166L360.9,166.58L361.4,166.58L361.4,164L361.9,164L361.9,163.47L362.4,163.47L362.4,160L362.9,160L362.9,159.54L363.4,159.54L363.4,156.2L363.9,156.2L363.9,153.63L364.4,153.63L364.4,154L364.9,154L364.9,151.79L365.4,151.79L365.4,151.4L365.9,151.4L365.9,154.31L366.4,154.31L366.4,156L366.9,156L366.9,157.61L367.4,157.61L367.4,157L367.9,157L367.9,155.5L368.4,155.5L368.4,150.6L368.9,150.6L368.9,154.12L369.4,154.12L369.4,154L369.9,154L369.9,153.12L370.4,153.12L370.4,156.2L370.9,156.2L370.9,157.61L371.4,157.61L371.4,158L371.9,158L371.9,160.32L372.4,160.32L372.4,161L372.9,161L372.9,164.18L373.4,164.18L373.4,167.3L373.9,167.3L373.9,167.1L374.4,167.1L374.4,170L374.9,170L374.9,171.67L375.4,171.67L375.4,173.6L375.9,173.6L375.9,174.83L376.4,174.83L376.4,180L376.9,180L376.9,185.24L377.4,185.24L377.4,186.3L377.9,186.3L377.9,189.4L378.4,189.4L378.4,189L378.9,189L378.9,190.2L379.4,190.2L379.4,191L379.8,191L379.8,190.69L380.2,190.69L380.2,193.19L380.6,193.19L380.6,192.43L381,192.43L381,193.78L381.4,193.78L381.4,193L381.8,193L381.8,194.09L382.2,194.09L382.2,193.18L382.6,193.18L382.6,193L383,193L383,193.6L383.4,193.6L383.4,193.4L383.8,193.4L383.8,193.33L384.2,193.33L384.2,192.74L384.6,192.74L384.6,193.25L385,193.25L385,194.68L385.4,194.68L385.4,194L385.8,194L385.8,192.9L386.2,192.9L386.2,192.95L386.6,192.95L386.6,194.43L387,194.43L387,193.62L387.4,193.62L387.4,194.2L387.9,194.2L387.9,195.47L388.4,195.47L388.4,196.6L388.9,196.6L388.9,192.97L389.4,192.97L389.4,189.5L389.9,189.5L389.9,190.15L390.4,190.15L390.4,192L390.8,192L390.8,193.75L391.2,193.75L391.2,191.26L391.6,191.26L391.6,192.08L392,192.08L392,191.55L392.4,191.55L392.4,192.6L392.9,192.6L392.9,191.78L393.4,191.78L393.4,190L393.9,190L393.9,189.24L394.4,189.24L394.4,190.3L394.9,190.3L394.9,191.15L395.4,191.15L395.4,193L395.8,193L395.8,193.36L396.2,193.36L396.2,191.62L396.6,191.62L396.6,192L397,192L397,192.84L397.4,192.84L397.4,191L397.8,191L397.8,188.8L398.2,188.8L398.2,187.91L398.6,187.91L398.6,187.93L399,187.93L399,189.77L399.4,189.77L399.4,187.9L399.9,187.9L399.9,187.5L400.4,187.5L400.4,186L400.9,186L400.9,183.74L401.4,183.74L401.4,184L401.9,184L401.9,181.99L402.4,181.99L402.4,181.6L402.9,181.6L402.9,178.25L403.4,178.25L403.4,178L403.9,178L403.9,176.4L404.4,176.4L404.4,175.2L404.9,175.2L404.9,173.91L405.4,173.91L405.4,177L405.9,177L405.9,176.45L406.4,176.45L406.4,174L406.9,174L406.9,175.7L407.4,175.7L407.4,173.6L407.9,173.6L407.9,173.98L408.4,173.98L408.4,170L408.9,170L408.9,169.78L409.4,169.78L409.4,167.3L409.9,167.3L409.9,168.36L410.4,168.36L410.4,165L410.9,165L410.9,161.44L411.4,161.44L411.4,162.5L411.9,162.5L411.9,160.74L412.4,160.74L412.4,161L412.9,161L412.9,161.74L413.4,161.74L413.4,158L413.9,158L413.9,158.32L414.4,158.32L414.4,156L414.9,156L414.9,156.32L415.4,156.32L415.4,157.5L415.9,157.5L415.9,158.38L416.4,158.38L416.4,155L416.9,155L416.9,155.38L417.4,155.38L417.4,154.6L417.9,154.6L417.9,154.83L418.4,154.83L418.4,152L418.9,152L418.9,157.01L419.4,157.01L419.4,164L419.9,164L419.9,160.52L420.4,160.52L420.4,160L420.9,160L420.9,160.93L421.4,160.93L421.4,162.4L421.9,162.4L421.9,159.95L422.4,159.95L422.4,161L422.9,161L422.9,160.33L423.4,160.33L423.4,160.8L423.9,160.8L423.9,163.62L424.4,163.62L424.4,162L424.9,162L424.9,162.19L425.4,162.19L425.4,164L425.9,164L425.9,162.15L426.4,162.15L426.4,165L426.9,165L426.9,163.97L427.4,163.97L427.4,167.3L427.9,167.3L427.9,167.06L428.4,167.06L428.4,170L428.9,170L428.9,174.11L429.4,174.11L429.4,175.5L429.9,175.5L429.9,176.09L430.4,176.09L430.4,178L430.9,178L430.9,178.99L431.4,178.99L431.4,182L431.9,182L431.9,182.07L432.4,182.07L432.4,186L432.9,186L432.9,189.31L433.4,189.31L433.4,188L433.83,188L433.83,188.38L434.27,188.38L434.27,188.2L434.7,188.2L434.7,190.2L435.4,190.2L435.4,186L435.9,186L435.9,182.68L436.4,182.68L436.4,183.6L436.9,183.6L436.9,181.67L437.4,181.67L437.4,184L437.9,184L437.9,180.91L438.4,180.91L438.4,181L438.9,181L438.9,181.55L439.4,181.55L439.4,180.4L439.9,180.4L439.9,177.52L440.4,177.52L440.4,178L440.9,178L440.9,175.3L441.4,175.3L441.4,177L441.9,177L441.9,175.96L442.4,175.96L442.4,175L442.83,175L442.83,173.4L443.27,173.4L443.27,176.59L443.7,176.59L443.7,173.8L444.4,173.8L444.4,177L444.9,177L444.9,176.89L445.4,176.89L445.4,180.4L445.9,180.4L445.9,179.34L446.4,179.34L446.4,178L446.9,178L446.9,181.31L447.4,181.31L447.4,182L447.9,182L447.9,182.06L448.4,182.06L448.4,183L448.9,183L448.9,186.49L449.4,186.49L449.4,185.3L449.9,185.3L449.9,184.54L450.4,184.54L450.4,184L450.9,184L450.9,184.26L451.4,184.26L451.4,187L451.9,187L451.9,187.37L452.4,187.37L452.4,188.6L452.9,188.6L452.9,187.26L453.4,187.26L453.4,190L453.9,190L453.9,190.19L454.4,190.19L454.4,191L454.9,191L454.9,191.44L455.4,191.44L455.4,193.5L455.8,193.5L455.8,194.81L456.2,194.81L456.2,194.92L456.6,194.92L456.6,194.4L457,194.4L457,193.65L457.4,193.65L457.4,195L457.8,195L457.8,194.85L458.2,194.85L458.2,195.2L458.6,195.2L458.6,195.52L459,195.52L459,195.94L459.4,195.94L459.4,196.7L459.8,196.7L459.8,197.37L460.2,197.37L460.2,196.55L460.6,196.55L460.6,196.62L461,196.62L461,197.85L461.4,197.85L461.4,197.5L461.9,197.5L461.9,198.01L462.4,198.01L462.4,198.4L462.9,198.4L462.9,198.41L463.4,198.41L463.4,197.5L463.8,197.5L463.8,197.97L464.2,197.97L464.2,198.89L464.6,198.89L464.6,199.25L465,199.25L465,199.81L465.4,199.81L465.4,200.3L465.8,200.3L465.8,200.3L466.2,200.3L466.2,200.3L466.6,200.3L466.6,200.3L467,200.3L467,200.3L467.4,200.3L467.4,200.3L467.8,200.3L467.8,200.3L468.2,200.3L468.2,200.3L468.6,200.3L468.6,200.3L469,200.3L469,200.3L469.4,200.3L469.4,200.3L469.8,200.3L469.8,200.3L470.2,200.3L470.2,200.3L470.6,200.3L470.6,200.3L471,200.3L471,200.3L471.4,200.3L471.4,200.3L471.8,200.3L471.8,200.3L472.2,200.3L472.2,200.3L472.6,200.3L472.6,200.3L473,200.3L473,200.3L473.4,200.3L473.4,200.3L473.8,200.3L473.8,200.3L474.2,200.3L474.2,200.3L474.6,200.3L474.6,200.3L475,200.3L475,200.3L475.4,200.3L475.4,200.3L475.8,200.3L475.8,200.3L476.2,200.3L476.2,200.3L476.6,200.3L476.6,200.3L477,200.3L477,200.3L477.4,200.3L477.4,200.3L477.8,200.3L477.8,200.3L478.2,200.3L478.2,200.3L478.6,200.3L478.6,200.3L479,200.3L479,200.3L479.4,200.3L479.4,200.3L479.8,200.3L479.8,200.3L480.2,200.3L480.2,200.3L480.6,200.3L480.6,200.3L481,200.3L481,200.3L481.4,200.3L481.4,200.3L481.8,200.3L481.8,200.3L482.2,200.3L482.2,200.3L482.6,200.3L482.6,200.3L483,200.3L483,200.3L483.4,200.3L483.4,200.3L483.8,200.3L483.8,200.3L484.2,200.3L484.2,200.3L484.6,200.3L484.6,200.3L485,200.3L485,200.3L485.4,200.3L485.4,200.3L485.8,200.3L485.8,200.3L486.2,200.3L486.2,200.3L486.6,200.3L486.6,200.3L487,200.3L487,200.3L487.4,200.3L487.4,200.3L487.8,200.3L487.8,200.3L488.2,200.3L488.2,200.3L488.6,200.3L488.6,200.3L489,200.3L489,200.3" stroke="#000" stroke-width="1.7" fill="none" stroke-linejoin="miter" stroke-miterlimit="2"/>
<text x="274.5" y="19" font-family="Liberation Sans" font-size="11.6" font-weight="normal" font-style="normal" text-anchor="start" fill="#000" stroke="#000" stroke-width="0.1" textLength="54.6" lengthAdjust="spacingAndGlyphs">500ng/ml</text>
<text x="447.8" y="19.6" font-family="Liberation Sans" font-size="11.8" font-weight="normal" font-style="normal" text-anchor="start" fill="#000" stroke="#000" stroke-width="0.1" textLength="39.0" lengthAdjust="spacingAndGlyphs">1µg/ml</text>
<text x="286" y="119" font-family="Liberation Sans" font-size="11.8" font-weight="normal" font-style="normal" text-anchor="start" fill="#000" stroke="#000" stroke-width="0.1" textLength="40.6" lengthAdjust="spacingAndGlyphs">2µg/ml</text>
<text x="445.2" y="119.2" font-family="Liberation Sans" font-size="11.8" font-weight="normal" font-style="normal" text-anchor="start" fill="#000" stroke="#000" stroke-width="0.1" textLength="42.8" lengthAdjust="spacingAndGlyphs">12µg/ml</text>
<text x="196" y="33.4" font-family="Liberation Serif" font-size="11" font-weight="normal" font-style="normal" text-anchor="start" fill="#000">tet<tspan font-style="italic">C</tspan>-</text>
<line x1="181.4" y1="35.7" x2="234.8" y2="35.7" stroke="#222" stroke-width="1.1"/>
<line x1="181.4" y1="32.9" x2="181.4" y2="38.5" stroke="#222" stroke-width="1.1"/>
<line x1="234.8" y1="32.9" x2="234.8" y2="38.5" stroke="#222" stroke-width="1.1"/>
<text x="252" y="58.3" font-family="Liberation Serif" font-size="11.5" font-weight="normal" font-style="normal" text-anchor="start" fill="#000">tet<tspan font-style="italic">C</tspan>+</text>
<line x1="238.2" y1="62.1" x2="291.5" y2="62.1" stroke="#222" stroke-width="1.1"/>
<line x1="238.2" y1="59.3" x2="238.2" y2="64.9" stroke="#222" stroke-width="1.1"/>
<line x1="291.5" y1="59.3" x2="291.5" y2="64.9" stroke="#222" stroke-width="1.1"/>
<text x="183" y="142.4" font-family="Liberation Serif" font-size="13.5" font-weight="normal" font-style="normal" text-anchor="start" fill="#000" letter-spacing="-0.3">tet<tspan font-style="italic">C</tspan></text>
<text x="203.79" y="136" font-family="Liberation Sans" font-size="6.8" font-weight="bold" font-style="normal" text-anchor="start" fill="#000" stroke="#000" stroke-width="0.05">NEG</text>
<text x="223.4" y="142.4" font-family="Liberation Serif" font-size="13.5" font-weight="normal" font-style="normal" text-anchor="start" fill="#000" letter-spacing="-0.3">tet<tspan font-style="italic">C</tspan></text>
<text x="244.19" y="136" font-family="Liberation Sans" font-size="6.8" font-weight="bold" font-style="normal" text-anchor="start" fill="#000" stroke="#000" stroke-width="0.05">INT</text>
<text x="265.8" y="142.4" font-family="Liberation Serif" font-size="13.5" font-weight="normal" font-style="normal" text-anchor="start" fill="#000" letter-spacing="-0.3">tet<tspan font-style="italic">C</tspan></text>
<text x="286.59" y="136" font-family="Liberation Sans" font-size="6.8" font-weight="bold" font-style="normal" text-anchor="start" fill="#000" stroke="#000" stroke-width="0.05">HIGH</text>
<line x1="181.2" y1="145.3" x2="295" y2="145.3" stroke="#222" stroke-width="1.1"/>
<line x1="181.2" y1="142.5" x2="181.2" y2="148.1" stroke="#222" stroke-width="1.1"/>
<line x1="215" y1="142.5" x2="215" y2="148.1" stroke="#222" stroke-width="1.1"/>
<line x1="217.6" y1="142.5" x2="217.6" y2="148.1" stroke="#222" stroke-width="1.1"/>
<line x1="256.6" y1="142.5" x2="256.6" y2="148.1" stroke="#222" stroke-width="1.1"/>
<line x1="259.2" y1="142.5" x2="259.2" y2="148.1" stroke="#222" stroke-width="1.1"/>
<line x1="294.9" y1="142.5" x2="294.9" y2="148.1" stroke="#222" stroke-width="1.1"/>
<line x1="178.2" y1="209.3" x2="488.6" y2="209.3" stroke="#000" stroke-width="1.3"/>
<path d="M494.6,209.3 L487.6,206.1 L487.6,212.5 Z" stroke="#000" stroke-width="0" fill="#000"/>
<text x="435.4" y="221.5" font-family="Liberation Sans" font-size="12" font-weight="normal" font-style="normal" text-anchor="start" fill="#000" stroke="#000" stroke-width="0.1" textLength="54.2" lengthAdjust="spacingAndGlyphs">FITC-tet<tspan font-style="italic">C</tspan></text>
<line x1="8.6" y1="248.5" x2="115.6" y2="248.5" stroke="#3a3a3a" stroke-width="1.2"/>
<line x1="115.6" y1="248.5" x2="115.6" y2="314.4" stroke="#3a3a3a" stroke-width="1.2"/>
<line x1="5.9" y1="314.4" x2="8.1" y2="314.4" stroke="#444" stroke-width="0.9"/>
<line x1="5.9" y1="310" x2="8.1" y2="310" stroke="#444" stroke-width="0.9"/>
<line x1="5.9" y1="305.6" x2="8.1" y2="305.6" stroke="#444" stroke-width="0.9"/>
<line x1="5.9" y1="301.2" x2="8.1" y2="301.2" stroke="#444" stroke-width="0.9"/>
<line x1="5.9" y1="296.8" x2="8.1" y2="296.8" stroke="#444" stroke-width="0.9"/>
<line x1="5.9" y1="292.4" x2="8.1" y2="292.4" stroke="#444" stroke-width="0.9"/>
<line x1="5.9" y1="288" x2="8.1" y2="288" stroke="#444" stroke-width="0.9"/>
<line x1="5.9" y1="283.6" x2="8.1" y2="283.6" stroke="#444" stroke-width="0.9"/>
<line x1="5.9" y1="279.2" x2="8.1" y2="279.2" stroke="#444" stroke-width="0.9"/>
<line x1="5.9" y1="274.8" x2="8.1" y2="274.8" stroke="#444" stroke-width="0.9"/>
<line x1="5.9" y1="270.4" x2="8.1" y2="270.4" stroke="#444" stroke-width="0.9"/>
<line x1="5.9" y1="266" x2="8.1" y2="266" stroke="#444" stroke-width="0.9"/>
<line x1="5.9" y1="261.6" x2="8.1" y2="261.6" stroke="#444" stroke-width="0.9"/>
<line x1="5.9" y1="257.2" x2="8.1" y2="257.2" stroke="#444" stroke-width="0.9"/>
<line x1="5.9" y1="252.8" x2="8.1" y2="252.8" stroke="#444" stroke-width="0.9"/>
<line x1="8.6" y1="315" x2="8.6" y2="318.2" stroke="#444" stroke-width="0.8"/>
<line x1="16.65" y1="315" x2="16.65" y2="316.8" stroke="#444" stroke-width="0.8"/>
<line x1="21.36" y1="315" x2="21.36" y2="316.8" stroke="#444" stroke-width="0.8"/>
<line x1="24.71" y1="315" x2="24.71" y2="316.8" stroke="#444" stroke-width="0.8"/>
<line x1="27.3" y1="315" x2="27.3" y2="316.8" stroke="#444" stroke-width="0.8"/>
<line x1="29.42" y1="315" x2="29.42" y2="316.8" stroke="#444" stroke-width="0.8"/>
<line x1="31.21" y1="315" x2="31.21" y2="316.8" stroke="#444" stroke-width="0.8"/>
<line x1="32.76" y1="315" x2="32.76" y2="316.8" stroke="#444" stroke-width="0.8"/>
<line x1="34.13" y1="315" x2="34.13" y2="316.8" stroke="#444" stroke-width="0.8"/>
<line x1="35.35" y1="315" x2="35.35" y2="318.2" stroke="#444" stroke-width="0.8"/>
<line x1="43.4" y1="315" x2="43.4" y2="316.8" stroke="#444" stroke-width="0.8"/>
<line x1="48.11" y1="315" x2="48.11" y2="316.8" stroke="#444" stroke-width="0.8"/>
<line x1="51.46" y1="315" x2="51.46" y2="316.8" stroke="#444" stroke-width="0.8"/>
<line x1="54.05" y1="315" x2="54.05" y2="316.8" stroke="#444" stroke-width="0.8"/>
<line x1="56.17" y1="315" x2="56.17" y2="316.8" stroke="#444" stroke-width="0.8"/>
<line x1="57.96" y1="315" x2="57.96" y2="316.8" stroke="#444" stroke-width="0.8"/>
<line x1="59.51" y1="315" x2="59.51" y2="316.8" stroke="#444" stroke-width="0.8"/>
<line x1="60.88" y1="315" x2="60.88" y2="316.8" stroke="#444" stroke-width="0.8"/>
<line x1="62.1" y1="315" x2="62.1" y2="318.2" stroke="#444" stroke-width="0.8"/>
<line x1="70.15" y1="315" x2="70.15" y2="316.8" stroke="#444" stroke-width="0.8"/>
<line x1="74.86" y1="315" x2="74.86" y2="316.8" stroke="#444" stroke-width="0.8"/>
<line x1="78.21" y1="315" x2="78.21" y2="316.8" stroke="#444" stroke-width="0.8"/>
<line x1="80.8" y1="315" x2="80.8" y2="316.8" stroke="#444" stroke-width="0.8"/>
<line x1="82.92" y1="315" x2="82.92" y2="316.8" stroke="#444" stroke-width="0.8"/>
<line x1="84.71" y1="315" x2="84.71" y2="316.8" stroke="#444" stroke-width="0.8"/>
<line x1="86.26" y1="315" x2="86.26" y2="316.8" stroke="#444" stroke-width="0.8"/>
<line x1="87.63" y1="315" x2="87.63" y2="316.8" stroke="#444" stroke-width="0.8"/>
<line x1="88.85" y1="315" x2="88.85" y2="318.2" stroke="#444" stroke-width="0.8"/>
<line x1="96.9" y1="315" x2="96.9" y2="316.8" stroke="#444" stroke-width="0.8"/>
<line x1="101.61" y1="315" x2="101.61" y2="316.8" stroke="#444" stroke-width="0.8"/>
<line x1="104.96" y1="315" x2="104.96" y2="316.8" stroke="#444" stroke-width="0.8"/>
<line x1="107.55" y1="315" x2="107.55" y2="316.8" stroke="#444" stroke-width="0.8"/>
<line x1="109.67" y1="315" x2="109.67" y2="316.8" stroke="#444" stroke-width="0.8"/>
<line x1="111.46" y1="315" x2="111.46" y2="316.8" stroke="#444" stroke-width="0.8"/>
<line x1="113.01" y1="315" x2="113.01" y2="316.8" stroke="#444" stroke-width="0.8"/>
<line x1="114.38" y1="315" x2="114.38" y2="316.8" stroke="#444" stroke-width="0.8"/>
<line x1="115.6" y1="315" x2="115.6" y2="318.2" stroke="#444" stroke-width="0.8"/>
<line x1="8.1" y1="314.4" x2="115.6" y2="314.4" stroke="#000" stroke-width="1.5"/>
<line x1="8.6" y1="248.1" x2="8.6" y2="315.1" stroke="#000" stroke-width="2"/>
<line x1="8.6" y1="326.4" x2="117.1" y2="326.4" stroke="#3a3a3a" stroke-width="1.2"/>
<line x1="117.1" y1="326.4" x2="117.1" y2="391.3" stroke="#3a3a3a" stroke-width="1.2"/>
<line x1="5.9" y1="391.3" x2="8.1" y2="391.3" stroke="#444" stroke-width="0.9"/>
<line x1="5.9" y1="386.9" x2="8.1" y2="386.9" stroke="#444" stroke-width="0.9"/>
<line x1="5.9" y1="382.5" x2="8.1" y2="382.5" stroke="#444" stroke-width="0.9"/>
<line x1="5.9" y1="378.1" x2="8.1" y2="378.1" stroke="#444" stroke-width="0.9"/>
<line x1="5.9" y1="373.7" x2="8.1" y2="373.7" stroke="#444" stroke-width="0.9"/>
<line x1="5.9" y1="369.3" x2="8.1" y2="369.3" stroke="#444" stroke-width="0.9"/>
<line x1="5.9" y1="364.9" x2="8.1" y2="364.9" stroke="#444" stroke-width="0.9"/>
<line x1="5.9" y1="360.5" x2="8.1" y2="360.5" stroke="#444" stroke-width="0.9"/>
<line x1="5.9" y1="356.1" x2="8.1" y2="356.1" stroke="#444" stroke-width="0.9"/>
<line x1="5.9" y1="351.7" x2="8.1" y2="351.7" stroke="#444" stroke-width="0.9"/>
<line x1="5.9" y1="347.3" x2="8.1" y2="347.3" stroke="#444" stroke-width="0.9"/>
<line x1="5.9" y1="342.9" x2="8.1" y2="342.9" stroke="#444" stroke-width="0.9"/>
<line x1="5.9" y1="338.5" x2="8.1" y2="338.5" stroke="#444" stroke-width="0.9"/>
<line x1="5.9" y1="334.1" x2="8.1" y2="334.1" stroke="#444" stroke-width="0.9"/>
<line x1="5.9" y1="329.7" x2="8.1" y2="329.7" stroke="#444" stroke-width="0.9"/>
<line x1="8.6" y1="391.9" x2="8.6" y2="395.1" stroke="#444" stroke-width="0.8"/>
<line x1="16.77" y1="391.9" x2="16.77" y2="393.7" stroke="#444" stroke-width="0.8"/>
<line x1="21.54" y1="391.9" x2="21.54" y2="393.7" stroke="#444" stroke-width="0.8"/>
<line x1="24.93" y1="391.9" x2="24.93" y2="393.7" stroke="#444" stroke-width="0.8"/>
<line x1="27.56" y1="391.9" x2="27.56" y2="393.7" stroke="#444" stroke-width="0.8"/>
<line x1="29.71" y1="391.9" x2="29.71" y2="393.7" stroke="#444" stroke-width="0.8"/>
<line x1="31.52" y1="391.9" x2="31.52" y2="393.7" stroke="#444" stroke-width="0.8"/>
<line x1="33.1" y1="391.9" x2="33.1" y2="393.7" stroke="#444" stroke-width="0.8"/>
<line x1="34.48" y1="391.9" x2="34.48" y2="393.7" stroke="#444" stroke-width="0.8"/>
<line x1="35.73" y1="391.9" x2="35.73" y2="395.1" stroke="#444" stroke-width="0.8"/>
<line x1="43.89" y1="391.9" x2="43.89" y2="393.7" stroke="#444" stroke-width="0.8"/>
<line x1="48.67" y1="391.9" x2="48.67" y2="393.7" stroke="#444" stroke-width="0.8"/>
<line x1="52.06" y1="391.9" x2="52.06" y2="393.7" stroke="#444" stroke-width="0.8"/>
<line x1="54.68" y1="391.9" x2="54.68" y2="393.7" stroke="#444" stroke-width="0.8"/>
<line x1="56.83" y1="391.9" x2="56.83" y2="393.7" stroke="#444" stroke-width="0.8"/>
<line x1="58.65" y1="391.9" x2="58.65" y2="393.7" stroke="#444" stroke-width="0.8"/>
<line x1="60.22" y1="391.9" x2="60.22" y2="393.7" stroke="#444" stroke-width="0.8"/>
<line x1="61.61" y1="391.9" x2="61.61" y2="393.7" stroke="#444" stroke-width="0.8"/>
<line x1="62.85" y1="391.9" x2="62.85" y2="395.1" stroke="#444" stroke-width="0.8"/>
<line x1="71.02" y1="391.9" x2="71.02" y2="393.7" stroke="#444" stroke-width="0.8"/>
<line x1="75.79" y1="391.9" x2="75.79" y2="393.7" stroke="#444" stroke-width="0.8"/>
<line x1="79.18" y1="391.9" x2="79.18" y2="393.7" stroke="#444" stroke-width="0.8"/>
<line x1="81.81" y1="391.9" x2="81.81" y2="393.7" stroke="#444" stroke-width="0.8"/>
<line x1="83.96" y1="391.9" x2="83.96" y2="393.7" stroke="#444" stroke-width="0.8"/>
<line x1="85.77" y1="391.9" x2="85.77" y2="393.7" stroke="#444" stroke-width="0.8"/>
<line x1="87.35" y1="391.9" x2="87.35" y2="393.7" stroke="#444" stroke-width="0.8"/>
<line x1="88.73" y1="391.9" x2="88.73" y2="393.7" stroke="#444" stroke-width="0.8"/>
<line x1="89.97" y1="391.9" x2="89.97" y2="395.1" stroke="#444" stroke-width="0.8"/>
<line x1="98.14" y1="391.9" x2="98.14" y2="393.7" stroke="#444" stroke-width="0.8"/>
<line x1="102.92" y1="391.9" x2="102.92" y2="393.7" stroke="#444" stroke-width="0.8"/>
<line x1="106.31" y1="391.9" x2="106.31" y2="393.7" stroke="#444" stroke-width="0.8"/>
<line x1="108.93" y1="391.9" x2="108.93" y2="393.7" stroke="#444" stroke-width="0.8"/>
<line x1="111.08" y1="391.9" x2="111.08" y2="393.7" stroke="#444" stroke-width="0.8"/>
<line x1="112.9" y1="391.9" x2="112.9" y2="393.7" stroke="#444" stroke-width="0.8"/>
<line x1="114.47" y1="391.9" x2="114.47" y2="393.7" stroke="#444" stroke-width="0.8"/>
<line x1="115.86" y1="391.9" x2="115.86" y2="393.7" stroke="#444" stroke-width="0.8"/>
<line x1="117.1" y1="391.9" x2="117.1" y2="395.1" stroke="#444" stroke-width="0.8"/>
<line x1="8.1" y1="391.3" x2="117.1" y2="391.3" stroke="#000" stroke-width="1.5"/>
<line x1="8.6" y1="326" x2="8.6" y2="392" stroke="#000" stroke-width="2"/>
<line x1="9" y1="401.6" x2="115.4" y2="401.6" stroke="#3a3a3a" stroke-width="1.2"/>
<line x1="115.4" y1="401.6" x2="115.4" y2="467.8" stroke="#3a3a3a" stroke-width="1.2"/>
<line x1="6.3" y1="467.8" x2="8.5" y2="467.8" stroke="#444" stroke-width="0.9"/>
<line x1="6.3" y1="463.4" x2="8.5" y2="463.4" stroke="#444" stroke-width="0.9"/>
<line x1="6.3" y1="459" x2="8.5" y2="459" stroke="#444" stroke-width="0.9"/>
<line x1="6.3" y1="454.6" x2="8.5" y2="454.6" stroke="#444" stroke-width="0.9"/>
<line x1="6.3" y1="450.2" x2="8.5" y2="450.2" stroke="#444" stroke-width="0.9"/>
<line x1="6.3" y1="445.8" x2="8.5" y2="445.8" stroke="#444" stroke-width="0.9"/>
<line x1="6.3" y1="441.4" x2="8.5" y2="441.4" stroke="#444" stroke-width="0.9"/>
<line x1="6.3" y1="437" x2="8.5" y2="437" stroke="#444" stroke-width="0.9"/>
<line x1="6.3" y1="432.6" x2="8.5" y2="432.6" stroke="#444" stroke-width="0.9"/>
<line x1="6.3" y1="428.2" x2="8.5" y2="428.2" stroke="#444" stroke-width="0.9"/>
<line x1="6.3" y1="423.8" x2="8.5" y2="423.8" stroke="#444" stroke-width="0.9"/>
<line x1="6.3" y1="419.4" x2="8.5" y2="419.4" stroke="#444" stroke-width="0.9"/>
<line x1="6.3" y1="415" x2="8.5" y2="415" stroke="#444" stroke-width="0.9"/>
<line x1="6.3" y1="410.6" x2="8.5" y2="410.6" stroke="#444" stroke-width="0.9"/>
<line x1="6.3" y1="406.2" x2="8.5" y2="406.2" stroke="#444" stroke-width="0.9"/>
<line x1="9" y1="468.4" x2="9" y2="471.6" stroke="#444" stroke-width="0.8"/>
<line x1="17.01" y1="468.4" x2="17.01" y2="470.2" stroke="#444" stroke-width="0.8"/>
<line x1="21.69" y1="468.4" x2="21.69" y2="470.2" stroke="#444" stroke-width="0.8"/>
<line x1="25.01" y1="468.4" x2="25.01" y2="470.2" stroke="#444" stroke-width="0.8"/>
<line x1="27.59" y1="468.4" x2="27.59" y2="470.2" stroke="#444" stroke-width="0.8"/>
<line x1="29.7" y1="468.4" x2="29.7" y2="470.2" stroke="#444" stroke-width="0.8"/>
<line x1="31.48" y1="468.4" x2="31.48" y2="470.2" stroke="#444" stroke-width="0.8"/>
<line x1="33.02" y1="468.4" x2="33.02" y2="470.2" stroke="#444" stroke-width="0.8"/>
<line x1="34.38" y1="468.4" x2="34.38" y2="470.2" stroke="#444" stroke-width="0.8"/>
<line x1="35.6" y1="468.4" x2="35.6" y2="471.6" stroke="#444" stroke-width="0.8"/>
<line x1="43.61" y1="468.4" x2="43.61" y2="470.2" stroke="#444" stroke-width="0.8"/>
<line x1="48.29" y1="468.4" x2="48.29" y2="470.2" stroke="#444" stroke-width="0.8"/>
<line x1="51.61" y1="468.4" x2="51.61" y2="470.2" stroke="#444" stroke-width="0.8"/>
<line x1="54.19" y1="468.4" x2="54.19" y2="470.2" stroke="#444" stroke-width="0.8"/>
<line x1="56.3" y1="468.4" x2="56.3" y2="470.2" stroke="#444" stroke-width="0.8"/>
<line x1="58.08" y1="468.4" x2="58.08" y2="470.2" stroke="#444" stroke-width="0.8"/>
<line x1="59.62" y1="468.4" x2="59.62" y2="470.2" stroke="#444" stroke-width="0.8"/>
<line x1="60.98" y1="468.4" x2="60.98" y2="470.2" stroke="#444" stroke-width="0.8"/>
<line x1="62.2" y1="468.4" x2="62.2" y2="471.6" stroke="#444" stroke-width="0.8"/>
<line x1="70.21" y1="468.4" x2="70.21" y2="470.2" stroke="#444" stroke-width="0.8"/>
<line x1="74.89" y1="468.4" x2="74.89" y2="470.2" stroke="#444" stroke-width="0.8"/>
<line x1="78.21" y1="468.4" x2="78.21" y2="470.2" stroke="#444" stroke-width="0.8"/>
<line x1="80.79" y1="468.4" x2="80.79" y2="470.2" stroke="#444" stroke-width="0.8"/>
<line x1="82.9" y1="468.4" x2="82.9" y2="470.2" stroke="#444" stroke-width="0.8"/>
<line x1="84.68" y1="468.4" x2="84.68" y2="470.2" stroke="#444" stroke-width="0.8"/>
<line x1="86.22" y1="468.4" x2="86.22" y2="470.2" stroke="#444" stroke-width="0.8"/>
<line x1="87.58" y1="468.4" x2="87.58" y2="470.2" stroke="#444" stroke-width="0.8"/>
<line x1="88.8" y1="468.4" x2="88.8" y2="471.6" stroke="#444" stroke-width="0.8"/>
<line x1="96.81" y1="468.4" x2="96.81" y2="470.2" stroke="#444" stroke-width="0.8"/>
<line x1="101.49" y1="468.4" x2="101.49" y2="470.2" stroke="#444" stroke-width="0.8"/>
<line x1="104.81" y1="468.4" x2="104.81" y2="470.2" stroke="#444" stroke-width="0.8"/>
<line x1="107.39" y1="468.4" x2="107.39" y2="470.2" stroke="#444" stroke-width="0.8"/>
<line x1="109.5" y1="468.4" x2="109.5" y2="470.2" stroke="#444" stroke-width="0.8"/>
<line x1="111.28" y1="468.4" x2="111.28" y2="470.2" stroke="#444" stroke-width="0.8"/>
<line x1="112.82" y1="468.4" x2="112.82" y2="470.2" stroke="#444" stroke-width="0.8"/>
<line x1="114.18" y1="468.4" x2="114.18" y2="470.2" stroke="#444" stroke-width="0.8"/>
<line x1="115.4" y1="468.4" x2="115.4" y2="471.6" stroke="#444" stroke-width="0.8"/>
<line x1="8.5" y1="467.8" x2="115.4" y2="467.8" stroke="#000" stroke-width="1.5"/>
<line x1="9" y1="401.2" x2="9" y2="468.5" stroke="#000" stroke-width="2"/>
<line x1="9.4" y1="477" x2="115.9" y2="477" stroke="#3a3a3a" stroke-width="1.2"/>
<line x1="115.9" y1="477" x2="115.9" y2="543.2" stroke="#3a3a3a" stroke-width="1.2"/>
<line x1="6.7" y1="543.2" x2="8.9" y2="543.2" stroke="#444" stroke-width="0.9"/>
<line x1="6.7" y1="538.8" x2="8.9" y2="538.8" stroke="#444" stroke-width="0.9"/>
<line x1="6.7" y1="534.4" x2="8.9" y2="534.4" stroke="#444" stroke-width="0.9"/>
<line x1="6.7" y1="530" x2="8.9" y2="530" stroke="#444" stroke-width="0.9"/>
<line x1="6.7" y1="525.6" x2="8.9" y2="525.6" stroke="#444" stroke-width="0.9"/>
<line x1="6.7" y1="521.2" x2="8.9" y2="521.2" stroke="#444" stroke-width="0.9"/>
<line x1="6.7" y1="516.8" x2="8.9" y2="516.8" stroke="#444" stroke-width="0.9"/>
<line x1="6.7" y1="512.4" x2="8.9" y2="512.4" stroke="#444" stroke-width="0.9"/>
<line x1="6.7" y1="508" x2="8.9" y2="508" stroke="#444" stroke-width="0.9"/>
<line x1="6.7" y1="503.6" x2="8.9" y2="503.6" stroke="#444" stroke-width="0.9"/>
<line x1="6.7" y1="499.2" x2="8.9" y2="499.2" stroke="#444" stroke-width="0.9"/>
<line x1="6.7" y1="494.8" x2="8.9" y2="494.8" stroke="#444" stroke-width="0.9"/>
<line x1="6.7" y1="490.4" x2="8.9" y2="490.4" stroke="#444" stroke-width="0.9"/>
<line x1="6.7" y1="486" x2="8.9" y2="486" stroke="#444" stroke-width="0.9"/>
<line x1="6.7" y1="481.6" x2="8.9" y2="481.6" stroke="#444" stroke-width="0.9"/>
<line x1="9.4" y1="543.8" x2="9.4" y2="547" stroke="#444" stroke-width="0.8"/>
<line x1="17.41" y1="543.8" x2="17.41" y2="545.6" stroke="#444" stroke-width="0.8"/>
<line x1="22.1" y1="543.8" x2="22.1" y2="545.6" stroke="#444" stroke-width="0.8"/>
<line x1="25.43" y1="543.8" x2="25.43" y2="545.6" stroke="#444" stroke-width="0.8"/>
<line x1="28.01" y1="543.8" x2="28.01" y2="545.6" stroke="#444" stroke-width="0.8"/>
<line x1="30.12" y1="543.8" x2="30.12" y2="545.6" stroke="#444" stroke-width="0.8"/>
<line x1="31.9" y1="543.8" x2="31.9" y2="545.6" stroke="#444" stroke-width="0.8"/>
<line x1="33.44" y1="543.8" x2="33.44" y2="545.6" stroke="#444" stroke-width="0.8"/>
<line x1="34.81" y1="543.8" x2="34.81" y2="545.6" stroke="#444" stroke-width="0.8"/>
<line x1="36.02" y1="543.8" x2="36.02" y2="547" stroke="#444" stroke-width="0.8"/>
<line x1="44.04" y1="543.8" x2="44.04" y2="545.6" stroke="#444" stroke-width="0.8"/>
<line x1="48.73" y1="543.8" x2="48.73" y2="545.6" stroke="#444" stroke-width="0.8"/>
<line x1="52.05" y1="543.8" x2="52.05" y2="545.6" stroke="#444" stroke-width="0.8"/>
<line x1="54.64" y1="543.8" x2="54.64" y2="545.6" stroke="#444" stroke-width="0.8"/>
<line x1="56.74" y1="543.8" x2="56.74" y2="545.6" stroke="#444" stroke-width="0.8"/>
<line x1="58.53" y1="543.8" x2="58.53" y2="545.6" stroke="#444" stroke-width="0.8"/>
<line x1="60.07" y1="543.8" x2="60.07" y2="545.6" stroke="#444" stroke-width="0.8"/>
<line x1="61.43" y1="543.8" x2="61.43" y2="545.6" stroke="#444" stroke-width="0.8"/>
<line x1="62.65" y1="543.8" x2="62.65" y2="547" stroke="#444" stroke-width="0.8"/>
<line x1="70.66" y1="543.8" x2="70.66" y2="545.6" stroke="#444" stroke-width="0.8"/>
<line x1="75.35" y1="543.8" x2="75.35" y2="545.6" stroke="#444" stroke-width="0.8"/>
<line x1="78.68" y1="543.8" x2="78.68" y2="545.6" stroke="#444" stroke-width="0.8"/>
<line x1="81.26" y1="543.8" x2="81.26" y2="545.6" stroke="#444" stroke-width="0.8"/>
<line x1="83.37" y1="543.8" x2="83.37" y2="545.6" stroke="#444" stroke-width="0.8"/>
<line x1="85.15" y1="543.8" x2="85.15" y2="545.6" stroke="#444" stroke-width="0.8"/>
<line x1="86.69" y1="543.8" x2="86.69" y2="545.6" stroke="#444" stroke-width="0.8"/>
<line x1="88.06" y1="543.8" x2="88.06" y2="545.6" stroke="#444" stroke-width="0.8"/>
<line x1="89.28" y1="543.8" x2="89.28" y2="547" stroke="#444" stroke-width="0.8"/>
<line x1="97.29" y1="543.8" x2="97.29" y2="545.6" stroke="#444" stroke-width="0.8"/>
<line x1="101.98" y1="543.8" x2="101.98" y2="545.6" stroke="#444" stroke-width="0.8"/>
<line x1="105.3" y1="543.8" x2="105.3" y2="545.6" stroke="#444" stroke-width="0.8"/>
<line x1="107.89" y1="543.8" x2="107.89" y2="545.6" stroke="#444" stroke-width="0.8"/>
<line x1="109.99" y1="543.8" x2="109.99" y2="545.6" stroke="#444" stroke-width="0.8"/>
<line x1="111.78" y1="543.8" x2="111.78" y2="545.6" stroke="#444" stroke-width="0.8"/>
<line x1="113.32" y1="543.8" x2="113.32" y2="545.6" stroke="#444" stroke-width="0.8"/>
<line x1="114.68" y1="543.8" x2="114.68" y2="545.6" stroke="#444" stroke-width="0.8"/>
<line x1="115.9" y1="543.8" x2="115.9" y2="547" stroke="#444" stroke-width="0.8"/>
<line x1="8.9" y1="543.2" x2="115.9" y2="543.2" stroke="#000" stroke-width="1.5"/>
<line x1="9.4" y1="476.6" x2="9.4" y2="543.9" stroke="#000" stroke-width="2"/>
<path d="M8.5,314.3L8.5,292L9,292L9,298.89L9.5,298.89L9.5,305L10,305L10,312.4L10.5,312.4L10.5,311.87L11,311.87L11,311L11.5,311L11.5,310.98L12,310.98L12,310.4L12.5,310.4L12.5,310.24L13,310.24L13,309L13.5,309L13.5,308.87L14,308.87L14,308L14.5,308L14.5,308.27L15,308.27L15,307L15.5,307L15.5,305.52L16,305.52L16,306L16.5,306L16.5,304.91L17,304.91L17,304L17.5,304L17.5,304.78L18,304.78L18,303L18.5,303L18.5,301.98L19,301.98L19,300L19.5,300L19.5,299.53L20,299.53L20,296.5L20.5,296.5L20.5,292.51L21,292.51L21,291L21.5,291L21.5,287.7L22,287.7L22,284.6L22.5,284.6L22.5,280.99L23,280.99L23,279L23.5,279L23.5,276.64L24,276.64L24,274L24.5,274L24.5,272.24L25,272.24L25,270L25.5,270L25.5,267.44L26,267.44L26,268L26.5,268L26.5,265.49L27,265.49L27,264.8L27.5,264.8L27.5,262.69L28,262.69L28,262L28.5,262L28.5,258.9L29,258.9L29,262.78L29.5,262.78L29.5,264L30,264L30,267.5L30.5,267.5L30.5,270.6L31,270.6L31,272L31.5,272L31.5,273.91L32,273.91L32,278L32.5,278L32.5,283.6L33,283.6L33,287.3L33.5,287.3L33.5,283.3L34,283.3L34,285L34.5,285L34.5,285.64L35,285.64L35,288.6L35.5,288.6L35.5,291.68L36,291.68L36,294L36.5,294L36.5,296.06L37,296.06L37,300.5L37.5,300.5L37.5,301.22L38,301.22L38,305L38.5,305L38.5,308.08L39,308.08L39,309.8L39.5,309.8L39.5,310.1L40,310.1L40,311L40.5,311L40.5,310.94L41,310.94L41,311.73L41.5,311.73L41.5,311.8L42,311.8L42,311.7L42.5,311.7L42.5,311.05L43,311.05L43,311.19L43.5,311.19L43.5,310.32L44,310.32L44,309.8L44.5,309.8L44.5,308.68L45,308.68L45,307L45.5,307L45.5,305.35L46,305.35L46,306.09L46.5,306.09L46.5,304.52L47,304.52L47,303L47.5,303L47.5,303.49L48,303.49L48,301L48.5,301L48.5,301.76L49,301.76L49,299.36L49.5,299.36L49.5,299.06L50,299.06L50,299L50.5,299L50.5,296.93L51,296.93L51,297L51.5,297L51.5,295.17L52,295.17L52,295.6L52.5,295.6L52.5,293.01L53,293.01L53,293.2L53.5,293.2L53.5,292.06L54,292.06L54,292.2L54.5,292.2L54.5,293.93L55,293.93L55,295L55.5,295L55.5,294.41L56,294.41L56,297L56.5,297L56.5,299.07L57,299.07L57,300L57.5,300L57.5,300.63L58,300.63L58,302.3L58.5,302.3L58.5,302.58L59,302.58L59,304L59.5,304L59.5,305.93L60,305.93L60,306.3L60.5,306.3L60.5,307.4L61,307.4L61,308.29L61.5,308.29L61.5,309.7L62,309.7L62,308.44L62.5,308.44L62.5,307.62L63,307.62L63,306L63.6,306L63.6,304.12L64.2,304.12L64.2,305.65L64.8,305.65L64.8,303.6L65.4,303.6L65.4,305.28L66,305.28L66,309L66.5,309L66.5,309.52L67,309.52L67,309.81L67.5,309.81L67.5,308.91L68,308.91L68,309.7L68.5,309.7L68.5,310.35L69,310.35L69,310.21L69.5,310.21L69.5,310.75L70,310.75L70,311L70.5,311L70.5,309.72L71,309.72L71,309.5L71.5,309.5L71.5,307.91L72,307.91L72,307.7L72.5,307.7L72.5,305.67L73,305.67L73,305L73.5,305L73.5,304.94L74,304.94L74,302.3L74.5,302.3L74.5,299.18L75,299.18L75,298L75.5,298L75.5,296.92L76,296.92L76,294.2L76.53,294.2L76.53,295.57L77.07,295.57L77.07,295.61L77.6,295.61L77.6,294.2L78.3,294.2L78.3,296.4L79,296.4L79,299.6L79.5,299.6L79.5,297.34L80,297.34L80,296L80.53,296L80.53,295.05L81.07,295.05L81.07,294.82L81.6,294.82L81.6,292.9L82.5,292.9L82.5,297L83,297L83,302.3L83.5,302.3L83.5,301.98L84,301.98L84,304L84.5,304L84.5,305.76L85,305.76L85,306.3L85.5,306.3L85.5,307.26L86,307.26L86,307L86.5,307L86.5,308.33L87,308.33L87,308.4L87.5,308.4L87.5,308.01L88,308.01L88,309L88.5,309L88.5,310.25L89,310.25L89,310.4L89.5,310.4L89.5,310.58L90,310.58L90,311.5L90.5,311.5L90.5,311.85L91,311.85L91,312.4L91.5,312.4L91.5,312.67L92,312.67L92,313.01L92.5,313.01L92.5,313.02L93,313.02L93,313.3L93.5,313.3L93.5,313.44L94,313.44L94,313.36L94.5,313.36L94.5,313.33L95,313.33L95,313.4L95.5,313.4L95.5,313.36L96,313.36L96,313.32L96.5,313.32L96.5,313.3L97,313.3L97,313.32L97.5,313.32L97.5,313.45L98,313.45L98,313.52L98.5,313.52L98.5,313.32L99,313.32L99,313.29L99.5,313.29L99.5,313.52L100,313.52L100,313.4L100.5,313.4L100.5,313.37L101,313.37L101,313.3L101.5,313.3L101.5,313.21L102,313.21L102,313.27L102.5,313.27L102.5,313.3L103,313.3L103,313.15L103.5,313.15L103.5,313.1L104,313.1L104,312.94L104.5,312.94L104.5,313.18L105,313.18L105,313L105.5,313L105.5,312.89L106,312.89L106,313.1L106.5,313.1L106.5,313.25L107,313.25L107,313.09L107.5,313.09L107.5,313.31L108,313.31L108,313.42L108.5,313.42L108.5,313.38L109,313.38L109,313.47L109.5,313.47L109.5,313.36L110,313.36L110,313.5L110.51,313.5L110.51,313.56L111.02,313.56L111.02,313.58L111.53,313.58L111.53,313.77L112.04,313.77L112.04,313.76L112.55,313.76L112.55,313.86L113.05,313.86L113.05,313.98L113.56,313.98L113.56,314.04L114.07,314.04L114.07,314.11L114.58,314.11L114.58,314.15L115.09,314.15L115.09,314.23L115.6,314.23L115.6,314.3" stroke="#000" stroke-width="1.6" fill="none" stroke-linejoin="miter" stroke-miterlimit="2"/>
<path d="M8.5,391.2L8.5,338.8L9,338.8L9,364.58L9.5,364.58L9.5,387.3L10,387.3L10,383L10.5,383L10.5,385L11,385L11,385L11.5,385L11.5,382.95L12,382.95L12,381L12.5,381L12.5,381.6L13,381.6L13,384L13.5,384L13.5,380.01L14,380.01L14,380L14.5,380L14.5,382.18L15,382.18L15,383L15.5,383L15.5,381.88L16,381.88L16,381L16.5,381L16.5,383.04L17,383.04L17,383L17.5,383L17.5,380.54L18,380.54L18,379.2L18.5,379.2L18.5,379.5L19,379.5L19,377L19.5,377L19.5,374.22L20,374.22L20,373.8L20.5,373.8L20.5,372.72L21,372.72L21,368.5L21.5,368.5L21.5,367.65L22,367.65L22,364.4L22.5,364.4L22.5,355L23,355L23,363L23.5,363L23.5,361.05L24,361.05L24,360L24.5,360L24.5,359.7L25,359.7L25,359L25.5,359L25.5,357.45L26,357.45L26,354L26.5,354L26.5,351.6L27,351.6L27,348.7L27.5,348.7L27.5,349L28,349L28,348.3L28.5,348.3L28.5,349.43L29,349.43L29,350L29.5,350L29.5,352.74L30,352.74L30,352.3L30.5,352.3L30.5,342.2L31,342.2L31,356.3L31.5,356.3L31.5,358.43L32,358.43L32,363L32.5,363L32.5,367.98L33,367.98L33,369.8L33.5,369.8L33.5,368.77L34,368.77L34,365.8L34.5,365.8L34.5,365.54L35,365.54L35,361.7L35.5,361.7L35.5,366.9L36,366.9L36,373.8L36.5,373.8L36.5,369.78L37,369.78L37,370L37.5,370L37.5,372.06L38,372.06L38,371L38.5,371L38.5,371.33L39,371.33L39,368.5L39.5,368.5L39.5,369.97L40,369.97L40,372L40.5,372L40.5,371.49L41,371.49L41,375.2L41.5,375.2L41.5,371.53L42,371.53L42,371L42.5,371L42.5,373.1L43,373.1L43,373.8L43.5,373.8L43.5,371.81L44,371.81L44,372L44.5,372L44.5,376.6L45,376.6L45,376.5L45.5,376.5L45.5,375.21L46,375.21L46,373L46.5,373L46.5,370.84L47,370.84L47,371.8L47.5,371.8L47.5,373.61L48,373.61L48,373.8L48.5,373.8L48.5,373.17L49,373.17L49,374L49.5,374L49.5,377.25L50,377.25L50,376L50.5,376L50.5,379.73L51,379.73L51,379.2L51.5,379.2L51.5,380.32L52,380.32L52,381.3L52.5,381.3L52.5,383.47L53,383.47L53,384.6L53.5,384.6L53.5,385.53L54,385.53L54,385.4L54.5,385.4L54.5,385.26L55,385.26L55,383.3L55.5,383.3L55.5,385.21L56,385.21L56,384L56.5,384L56.5,382.89L57,382.89L57,384.6L57.5,384.6L57.5,382.83L58,382.83L58,382L58.5,382L58.5,382.41L59,382.41L59,382L59.5,382L59.5,382.3L60,382.3L60,384L60.5,384L60.5,386.2L61,386.2L61,388L61.5,388L61.5,383.49L62,383.49L62,381.3L62.5,381.3L62.5,381.8L63,381.8L63,378.6L63.5,378.6L63.5,377.73L64,377.73L64,376.6L64.5,376.6L64.5,373.61L65,373.61L65,374.6L65.5,374.6L65.5,376.4L66,376.4L66,376.5L66.5,376.5L66.5,376.27L67,376.27L67,378L67.5,378L67.5,374.92L68,374.92L68,375L68.5,375L68.5,373.02L69,373.02L69,371.2L69.9,371.2L69.9,371.2L70.5,371.2L70.5,379.3L71,379.3L71,378.21L71.5,378.21L71.5,379.3L72,379.3L72,381.3L72.5,381.3L72.5,383.16L73,383.16L73,382L73.5,382L73.5,383.43L74,383.43L74,383.4L74.5,383.4L74.5,382.12L75,382.12L75,384L75.5,384L75.5,385.48L76,385.48L76,385.4L76.5,385.4L76.5,385.15L77,385.15L77,387L77.5,387L77.5,387.61L78,387.61L78,388.7L78.5,388.7L78.5,389.26L79,389.26L79,389L79.5,389L79.5,389.97L80,389.97L80,390.8L80.5,390.8L80.5,390.93L81,390.93L81,391.09L81.5,391.09L81.5,391.2L82,391.2L82,391.4L82.5,391.4L82.5,391.2L83,391.2L83,391.2L83.5,391.2L83.5,391.2L84.01,391.2L84.01,391.2L84.51,391.2L84.51,391.2L85.01,391.2L85.01,391.2L85.51,391.2L85.51,391.2L86.01,391.2L86.01,391.2L86.51,391.2L86.51,391.2L87.01,391.2L87.01,391.2L87.52,391.2L87.52,391.2L88.02,391.2L88.02,391.2L88.52,391.2L88.52,391.2L89.02,391.2L89.02,391.2L89.52,391.2L89.52,391.2L90.02,391.2L90.02,391.2L90.52,391.2L90.52,391.2L91.03,391.2L91.03,391.2L91.53,391.2L91.53,391.2L92.03,391.2L92.03,391.2L92.53,391.2L92.53,391.2L93.03,391.2L93.03,391.2L93.53,391.2L93.53,391.2L94.03,391.2L94.03,391.2L94.54,391.2L94.54,391.2L95.04,391.2L95.04,391.2L95.54,391.2L95.54,391.2L96.04,391.2L96.04,391.2L96.54,391.2L96.54,391.2L97.04,391.2L97.04,391.2L97.54,391.2L97.54,391.2L98.05,391.2L98.05,391.2L98.55,391.2L98.55,391.2L99.05,391.2L99.05,391.2L99.55,391.2L99.55,391.2L100.05,391.2L100.05,391.2L100.55,391.2L100.55,391.2L101.05,391.2L101.05,391.2L101.56,391.2L101.56,391.2L102.06,391.2L102.06,391.2L102.56,391.2L102.56,391.2L103.06,391.2L103.06,391.2L103.56,391.2L103.56,391.2L104.06,391.2L104.06,391.2L104.56,391.2L104.56,391.2L105.07,391.2L105.07,391.2L105.57,391.2L105.57,391.2L106.07,391.2L106.07,391.2L106.57,391.2L106.57,391.2L107.07,391.2L107.07,391.2L107.57,391.2L107.57,391.2L108.07,391.2L108.07,391.2L108.58,391.2L108.58,391.2L109.08,391.2L109.08,391.2L109.58,391.2L109.58,391.2L110.08,391.2L110.08,391.2L110.58,391.2L110.58,391.2L111.08,391.2L111.08,391.2L111.58,391.2L111.58,391.2L112.09,391.2L112.09,391.2L112.59,391.2L112.59,391.2L113.09,391.2L113.09,391.2L113.59,391.2L113.59,391.2L114.09,391.2L114.09,391.2L114.59,391.2L114.59,391.2L115.09,391.2L115.09,391.2L115.6,391.2L115.6,391.2L116.1,391.2L116.1,391.2L116.6,391.2L116.6,391.2L117.1,391.2L117.1,391.4" stroke="#000" stroke-width="1.6" fill="none" stroke-linejoin="miter" stroke-miterlimit="2"/>
<path d="M9,467.7L9,431.6L9.5,431.6L9.5,445.05L10,445.05L10,459.9L10.5,459.9L10.5,457.93L11,457.93L11,458L11.5,458L11.5,457.49L12,457.49L12,455.9L12.5,455.9L12.5,453.24L13,453.24L13,454L13.5,454L13.5,453.04L14,453.04L14,451.8L14.5,451.8L14.5,447.86L15,447.86L15,445L15.5,445L15.5,438.4L16,438.4L16,447.8L16.5,447.8L16.5,444.13L17,444.13L17,444L17.5,444L17.5,441.88L18,441.88L18,439.7L18.5,439.7L18.5,435.5L19,435.5L19,435L19.5,435L19.5,433.03L20,433.03L20,431.6L20.5,431.6L20.5,429.08L21,429.08L21,430L21.5,430L21.5,427.16L22,427.16L22,427.6L22.5,427.6L22.5,425.95L23,425.95L23,424.9L23.8,424.9L23.8,409.4L24.5,409.4L24.5,419.5L25,419.5L25,422.16L25.5,422.16L25.5,422.2L26,422.2L26,416.8L26.5,416.8L26.5,417.35L27,417.35L27,420.9L27.5,420.9L27.5,414.2L28,414.2L28,418.44L28.5,418.44L28.5,424.9L29,424.9L29,428L29.5,428L29.5,431.66L30,431.66L30,434.3L30.5,434.3L30.5,438.94L31,438.94L31,440L31.5,440L31.5,443.56L32,443.56L32,446.5L32.5,446.5L32.5,448.84L33,448.84L33,452L33.5,452L33.5,457.21L34,457.21L34,458.6L34.9,458.6L34.9,461.3L35.45,461.3L35.45,457.22L36,457.22L36,455.9L36.5,455.9L36.5,455.88L37,455.88L37,453L37.5,453L37.5,451.56L38,451.56L38,451.8L38.5,451.8L38.5,449.48L39,449.48L39,450L39.5,450L39.5,448.72L40,448.72L40,450.5L40.5,450.5L40.5,450.48L41,450.48L41,452L41.5,452L41.5,453.16L42,453.16L42,451.8L42.5,451.8L42.5,449.62L43,449.62L43,450L43.5,450L43.5,450.23L44,450.23L44,449.8L44.5,449.8L44.5,451.46L45,451.46L45,452L45.5,452L45.5,451.09L46,451.09L46,451.2L46.5,451.2L46.5,450.29L47,450.29L47,449L47.5,449L47.5,447L48,447L48,448.5L48.5,448.5L48.5,446.27L49,446.27L49,446.39L49.5,446.39L49.5,447.1L50,447.1L50,449L50.5,449L50.5,452.47L51,452.47L51,454.5L51.5,454.5L51.5,456.28L52,456.28L52,458.6L52.5,458.6L52.5,458.25L53,458.25L53,459L53.5,459L53.5,460.03L54,460.03L54,460.6L54.5,460.6L54.5,460.69L55,460.69L55,461L55.5,461L55.5,461.41L56,461.41L56,462.6L56.5,462.6L56.5,463.28L57,463.28L57,463L57.5,463L57.5,464.06L58,464.06L58,464.6L58.5,464.6L58.5,464.55L59,464.55L59,465L59.5,465L59.5,465.55L60,465.55L60,466L60.5,466L60.5,466.16L61,466.16L61,466.48L61.5,466.48L61.5,466.55L62,466.55L62,466.6L62.5,466.6L62.5,465.83L63,465.83L63,465.3L63.5,465.3L63.5,466.4L64,466.4L64,467L64.5,467L64.5,466.93L65,466.93L65,467.02L65.5,467.02L65.5,467.11L66,467.11L66,466.99L66.5,466.99L66.5,467.08L67,467.08L67,467.01L67.5,467.01L67.5,467.15L68,467.15L68,467.18L68.5,467.18L68.5,467.16L69,467.16L69,467.23L69.5,467.23L69.5,467.15L70,467.15L70,467.2L70.5,467.2L70.5,467.21L71,467.21L71,467.18L71.5,467.18L71.5,467.15L72,467.15L72,467.11L72.5,467.11L72.5,467.17L73,467.17L73,467.17L73.5,467.17L73.5,467.05L74,467.05L74,467.08L74.5,467.08L74.5,466.92L75,466.92L75,467L75.5,467L75.5,466.58L76,466.58L76,466L76.5,466L76.5,466.7L77,466.7L77,467.3L77.51,467.3L77.51,467.37L78.01,467.37L78.01,467.35L78.52,467.35L78.52,467.29L79.02,467.29L79.02,467.31L79.53,467.31L79.53,467.35L80.03,467.35L80.03,467.27L80.54,467.27L80.54,467.33L81.04,467.33L81.04,467.3L81.55,467.3L81.55,467.3L82.05,467.3L82.05,467.3L82.56,467.3L82.56,467.39L83.06,467.39L83.06,467.32L83.57,467.32L83.57,467.34L84.07,467.34L84.07,467.36L84.58,467.36L84.58,467.42L85.08,467.42L85.08,467.34L85.59,467.34L85.59,467.38L86.09,467.38L86.09,467.4L86.6,467.4L86.6,467.44L87.11,467.44L87.11,467.44L87.61,467.44L87.61,467.45L88.12,467.45L88.12,467.39L88.62,467.39L88.62,467.41L89.13,467.41L89.13,467.41L89.63,467.41L89.63,467.47L90.14,467.47L90.14,467.48L90.64,467.48L90.64,467.41L91.15,467.41L91.15,467.42L91.65,467.42L91.65,467.43L92.16,467.43L92.16,467.44L92.66,467.44L92.66,467.46L93.17,467.46L93.17,467.48L93.67,467.48L93.67,467.46L94.18,467.46L94.18,467.44L94.68,467.44L94.68,467.48L95.19,467.48L95.19,467.48L95.69,467.48L95.69,467.5L96.2,467.5L96.2,467.53L96.71,467.53L96.71,467.52L97.21,467.52L97.21,467.51L97.72,467.51L97.72,467.52L98.22,467.52L98.22,467.53L98.73,467.53L98.73,467.5L99.23,467.5L99.23,467.55L99.74,467.55L99.74,467.55L100.24,467.55L100.24,467.56L100.75,467.56L100.75,467.56L101.25,467.56L101.25,467.55L101.76,467.55L101.76,467.55L102.26,467.55L102.26,467.55L102.77,467.55L102.77,467.57L103.27,467.57L103.27,467.56L103.78,467.56L103.78,467.56L104.28,467.56L104.28,467.57L104.79,467.57L104.79,467.58L105.29,467.58L105.29,467.59L105.8,467.59L105.8,467.59L106.31,467.59L106.31,467.59L106.81,467.59L106.81,467.6L107.32,467.6L107.32,467.6L107.82,467.6L107.82,467.62L108.33,467.62L108.33,467.61L108.83,467.61L108.83,467.64L109.34,467.64L109.34,467.64L109.84,467.64L109.84,467.64L110.35,467.64L110.35,467.64L110.85,467.64L110.85,467.65L111.36,467.65L111.36,467.66L111.86,467.66L111.86,467.66L112.37,467.66L112.37,467.67L112.87,467.67L112.87,467.68L113.38,467.68L113.38,467.68L113.88,467.68L113.88,467.68L114.39,467.68L114.39,467.69L114.89,467.69L114.89,467.69L115.4,467.69L115.4,467.7" stroke="#000" stroke-width="1.6" fill="none" stroke-linejoin="miter" stroke-miterlimit="2"/>
<path d="M9.4,543L9.4,507L10,507L10,535.3L10.5,535.3L10.5,530.79L11,530.79L11,528.5L11.5,528.5L11.5,532.58L12,532.58L12,532.6L12.5,532.6L12.5,526.21L13,526.21L13,523.1L13.5,523.1L13.5,527.4L14,527.4L14,529.9L14.5,529.9L14.5,526.02L15,526.02L15,525.8L15.5,525.8L15.5,522.04L16,522.04L16,520.5L16.5,520.5L16.5,521.45L17,521.45L17,518L17.5,518L17.5,515.22L18,515.22L18,515L18.5,515L18.5,513.62L19,513.62L19,511L19.5,511L19.5,508.12L20,508.12L20,505.6L20.5,505.6L20.5,503.39L21,503.39L21,501.6L21.5,501.6L21.5,494.2L22,494.2L22,497.6L22.5,497.6L22.5,497.28L23,497.28L23,497L23.5,497L23.5,496.6L24,496.6L24,498.9L24.5,498.9L24.5,499L25,499L25,496.2L25.9,496.2L25.9,484.8L26.5,484.8L26.5,495.6L27,495.6L27,496.2L27.5,496.2L27.5,496.44L28,496.44L28,500.3L28.5,500.3L28.5,501.78L29,501.78L29,505.6L29.5,505.6L29.5,505.54L30,505.54L30,509.7L30.5,509.7L30.5,512.02L31,512.02L31,516.4L31.5,516.4L31.5,516.79L32,516.79L32,518L32.5,518L32.5,520.32L33,520.32L33,519.1L33.9,519.1L33.9,529.9L34.45,529.9L34.45,523.32L35,523.32L35,517.8L35.5,517.8L35.5,516.7L36,516.7L36,519L36.65,519L36.65,516.64L37.3,516.64L37.3,516.4L38,516.4L38,523.1L38.5,523.1L38.5,526.71L39,526.71L39,526L39.5,526L39.5,525.33L40,525.33L40,528.5L40.5,528.5L40.5,529.28L41,529.28L41,529L41.5,529L41.5,529.56L42,529.56L42,531.2L42.5,531.2L42.5,532.74L43,532.74L43,533L43.5,533L43.5,533.63L44,533.63L44,535.3L44.5,535.3L44.5,536.17L45,536.17L45,536L45.5,536L45.5,536.99L46,536.99L46,538L46.5,538L46.5,538.75L47,538.75L47,539L47.5,539L47.5,540.27L48,540.27L48,540.6L48.5,540.6L48.5,541.11L49,541.11L49,541.5L49.5,541.5L49.5,541.98L50,541.98L50,542.7L50.5,542.7L50.5,542.65L51.01,542.65L51.01,542.75L51.51,542.75L51.51,542.71L52.01,542.71L52.01,542.68L52.52,542.68L52.52,542.76L53.02,542.76L53.02,542.72L53.52,542.72L53.52,542.74L54.02,542.74L54.02,542.76L54.53,542.76L54.53,542.7L55.03,542.7L55.03,542.71L55.53,542.71L55.53,542.76L56.04,542.76L56.04,542.69L56.54,542.69L56.54,542.76L57.04,542.76L57.04,542.69L57.55,542.69L57.55,542.75L58.05,542.75L58.05,542.76L58.55,542.76L58.55,542.78L59.05,542.78L59.05,542.77L59.56,542.77L59.56,542.74L60.06,542.74L60.06,542.72L60.56,542.72L60.56,542.72L61.07,542.72L61.07,542.75L61.57,542.75L61.57,542.75L62.07,542.75L62.07,542.72L62.58,542.72L62.58,542.79L63.08,542.79L63.08,542.76L63.58,542.76L63.58,542.78L64.09,542.78L64.09,542.74L64.59,542.74L64.59,542.74L65.09,542.74L65.09,542.73L65.59,542.73L65.59,542.76L66.1,542.76L66.1,542.75L66.6,542.75L66.6,542.77L67.1,542.77L67.1,542.77L67.61,542.77L67.61,542.81L68.11,542.81L68.11,542.81L68.61,542.81L68.61,542.76L69.12,542.76L69.12,542.78L69.62,542.78L69.62,542.76L70.12,542.76L70.12,542.8L70.63,542.8L70.63,542.83L71.13,542.83L71.13,542.77L71.63,542.77L71.63,542.82L72.13,542.82L72.13,542.79L72.64,542.79L72.64,542.77L73.14,542.77L73.14,542.82L73.64,542.82L73.64,542.8L74.15,542.8L74.15,542.79L74.65,542.79L74.65,542.81L75.15,542.81L75.15,542.8L75.66,542.8L75.66,542.81L76.16,542.81L76.16,542.82L76.66,542.82L76.66,542.82L77.16,542.82L77.16,542.83L77.67,542.83L77.67,542.81L78.17,542.81L78.17,542.8L78.67,542.8L78.67,542.8L79.18,542.8L79.18,542.81L79.68,542.81L79.68,542.84L80.18,542.84L80.18,542.83L80.69,542.83L80.69,542.86L81.19,542.86L81.19,542.84L81.69,542.84L81.69,542.86L82.2,542.86L82.2,542.87L82.7,542.87L82.7,542.82L83.2,542.82L83.2,542.82L83.7,542.82L83.7,542.83L84.21,542.83L84.21,542.85L84.71,542.85L84.71,542.86L85.21,542.86L85.21,542.87L85.72,542.87L85.72,542.86L86.22,542.86L86.22,542.89L86.72,542.89L86.72,542.84L87.23,542.84L87.23,542.89L87.73,542.89L87.73,542.86L88.23,542.86L88.23,542.89L88.74,542.89L88.74,542.86L89.24,542.86L89.24,542.9L89.74,542.9L89.74,542.89L90.24,542.89L90.24,542.9L90.75,542.9L90.75,542.89L91.25,542.89L91.25,542.87L91.75,542.87L91.75,542.91L92.26,542.91L92.26,542.89L92.76,542.89L92.76,542.88L93.26,542.88L93.26,542.9L93.77,542.9L93.77,542.9L94.27,542.9L94.27,542.9L94.77,542.9L94.77,542.89L95.27,542.89L95.27,542.89L95.78,542.89L95.78,542.91L96.28,542.91L96.28,542.91L96.78,542.91L96.78,542.9L97.29,542.9L97.29,542.91L97.79,542.91L97.79,542.92L98.29,542.92L98.29,542.93L98.8,542.93L98.8,542.92L99.3,542.92L99.3,542.92L99.8,542.92L99.8,542.92L100.31,542.92L100.31,542.92L100.81,542.92L100.81,542.92L101.31,542.92L101.31,542.93L101.81,542.93L101.81,542.93L102.32,542.93L102.32,542.94L102.82,542.94L102.82,542.95L103.32,542.95L103.32,542.95L103.83,542.95L103.83,542.94L104.33,542.94L104.33,542.94L104.83,542.94L104.83,542.95L105.34,542.95L105.34,542.94L105.84,542.94L105.84,542.96L106.34,542.96L106.34,542.96L106.85,542.96L106.85,542.96L107.35,542.96L107.35,542.96L107.85,542.96L107.85,542.96L108.35,542.96L108.35,542.96L108.86,542.96L108.86,542.97L109.36,542.97L109.36,542.97L109.86,542.97L109.86,542.97L110.37,542.97L110.37,542.97L110.87,542.97L110.87,542.98L111.37,542.98L111.37,542.98L111.88,542.98L111.88,542.98L112.38,542.98L112.38,542.99L112.88,542.99L112.88,542.99L113.38,542.99L113.38,542.99L113.89,542.99L113.89,542.99L114.39,542.99L114.39,542.99L114.89,542.99L114.89,543L115.4,543L115.4,543L115.9,543L115.9,543" stroke="#000" stroke-width="1.6" fill="none" stroke-linejoin="miter" stroke-miterlimit="2"/>
<text x="43.6" y="257.5" font-family="Liberation Sans" font-size="9" font-weight="normal" font-style="normal" text-anchor="start" fill="#111" stroke="#111" stroke-width="0.1" textLength="73.0" lengthAdjust="spacingAndGlyphs">FITC–tet<tspan font-style="italic">C</tspan> (2 µg)</text>
<text x="43.6" y="269.5" font-family="Liberation Sans" font-size="9" font-weight="normal" font-style="normal" text-anchor="start" fill="#111" stroke="#111" stroke-width="0.1" textLength="39.2" lengthAdjust="spacingAndGlyphs">tet (0 µg)</text>
<text x="43.6" y="335.5" font-family="Liberation Sans" font-size="9" font-weight="normal" font-style="normal" text-anchor="start" fill="#111" stroke="#111" stroke-width="0.1" textLength="73.0" lengthAdjust="spacingAndGlyphs">FITC–tet<tspan font-style="italic">C</tspan> (2 µg)</text>
<text x="43.6" y="347.5" font-family="Liberation Sans" font-size="9" font-weight="normal" font-style="normal" text-anchor="start" fill="#111" stroke="#111" stroke-width="0.1" textLength="43.8" lengthAdjust="spacingAndGlyphs">tet (0,5µg)</text>
<text x="43.6" y="410.5" font-family="Liberation Sans" font-size="9" font-weight="normal" font-style="normal" text-anchor="start" fill="#111" stroke="#111" stroke-width="0.1" textLength="73.0" lengthAdjust="spacingAndGlyphs">FITC–tetC (2 µg)</text>
<text x="43.6" y="422.5" font-family="Liberation Sans" font-size="9" font-weight="normal" font-style="normal" text-anchor="start" fill="#111" stroke="#111" stroke-width="0.1" textLength="37.2" lengthAdjust="spacingAndGlyphs">tet (1µg)</text>
<text x="44" y="485.5" font-family="Liberation Sans" font-size="9" font-weight="normal" font-style="normal" text-anchor="start" fill="#111" stroke="#111" stroke-width="0.1" textLength="73.0" lengthAdjust="spacingAndGlyphs">FITC–tet<tspan font-style="italic">C</tspan> (2 µg)</text>
<text x="44" y="497.5" font-family="Liberation Sans" font-size="9" font-weight="normal" font-style="normal" text-anchor="start" fill="#111" stroke="#111" stroke-width="0.1" textLength="42.6" lengthAdjust="spacingAndGlyphs">tet (20 µg)</text>
<line x1="1" y1="551.8" x2="117.8" y2="551.8" stroke="#000" stroke-width="1.3"/>
<path d="M123.8,551.8 L116.8,548.6 L116.8,555 Z" stroke="#000" stroke-width="0" fill="#000"/>
<text x="57.5" y="564.8" font-family="Liberation Sans" font-size="12" font-weight="normal" font-style="normal" text-anchor="start" fill="#000" stroke="#000" stroke-width="0.1" textLength="57.4" lengthAdjust="spacingAndGlyphs">FITC-tet<tspan font-style="italic">C</tspan></text>
<line x1="128" y1="288.6" x2="239.9" y2="288.6" stroke="#3a3a3a" stroke-width="1.2"/>
<line x1="239.9" y1="288.6" x2="239.9" y2="359.4" stroke="#3a3a3a" stroke-width="1.2"/>
<line x1="125.3" y1="359.4" x2="127.5" y2="359.4" stroke="#444" stroke-width="0.9"/>
<line x1="125.3" y1="355" x2="127.5" y2="355" stroke="#444" stroke-width="0.9"/>
<line x1="125.3" y1="350.6" x2="127.5" y2="350.6" stroke="#444" stroke-width="0.9"/>
<line x1="125.3" y1="346.2" x2="127.5" y2="346.2" stroke="#444" stroke-width="0.9"/>
<line x1="125.3" y1="341.8" x2="127.5" y2="341.8" stroke="#444" stroke-width="0.9"/>
<line x1="125.3" y1="337.4" x2="127.5" y2="337.4" stroke="#444" stroke-width="0.9"/>
<line x1="125.3" y1="333" x2="127.5" y2="333" stroke="#444" stroke-width="0.9"/>
<line x1="125.3" y1="328.6" x2="127.5" y2="328.6" stroke="#444" stroke-width="0.9"/>
<line x1="125.3" y1="324.2" x2="127.5" y2="324.2" stroke="#444" stroke-width="0.9"/>
<line x1="125.3" y1="319.8" x2="127.5" y2="319.8" stroke="#444" stroke-width="0.9"/>
<line x1="125.3" y1="315.4" x2="127.5" y2="315.4" stroke="#444" stroke-width="0.9"/>
<line x1="125.3" y1="311" x2="127.5" y2="311" stroke="#444" stroke-width="0.9"/>
<line x1="125.3" y1="306.6" x2="127.5" y2="306.6" stroke="#444" stroke-width="0.9"/>
<line x1="125.3" y1="302.2" x2="127.5" y2="302.2" stroke="#444" stroke-width="0.9"/>
<line x1="125.3" y1="297.8" x2="127.5" y2="297.8" stroke="#444" stroke-width="0.9"/>
<line x1="125.3" y1="293.4" x2="127.5" y2="293.4" stroke="#444" stroke-width="0.9"/>
<line x1="125.3" y1="289" x2="127.5" y2="289" stroke="#444" stroke-width="0.9"/>
<line x1="128" y1="360" x2="128" y2="363.2" stroke="#444" stroke-width="0.8"/>
<line x1="136.42" y1="360" x2="136.42" y2="361.8" stroke="#444" stroke-width="0.8"/>
<line x1="141.35" y1="360" x2="141.35" y2="361.8" stroke="#444" stroke-width="0.8"/>
<line x1="144.84" y1="360" x2="144.84" y2="361.8" stroke="#444" stroke-width="0.8"/>
<line x1="147.55" y1="360" x2="147.55" y2="361.8" stroke="#444" stroke-width="0.8"/>
<line x1="149.77" y1="360" x2="149.77" y2="361.8" stroke="#444" stroke-width="0.8"/>
<line x1="151.64" y1="360" x2="151.64" y2="361.8" stroke="#444" stroke-width="0.8"/>
<line x1="153.26" y1="360" x2="153.26" y2="361.8" stroke="#444" stroke-width="0.8"/>
<line x1="154.69" y1="360" x2="154.69" y2="361.8" stroke="#444" stroke-width="0.8"/>
<line x1="155.97" y1="360" x2="155.97" y2="363.2" stroke="#444" stroke-width="0.8"/>
<line x1="164.4" y1="360" x2="164.4" y2="361.8" stroke="#444" stroke-width="0.8"/>
<line x1="169.32" y1="360" x2="169.32" y2="361.8" stroke="#444" stroke-width="0.8"/>
<line x1="172.82" y1="360" x2="172.82" y2="361.8" stroke="#444" stroke-width="0.8"/>
<line x1="175.53" y1="360" x2="175.53" y2="361.8" stroke="#444" stroke-width="0.8"/>
<line x1="177.74" y1="360" x2="177.74" y2="361.8" stroke="#444" stroke-width="0.8"/>
<line x1="179.62" y1="360" x2="179.62" y2="361.8" stroke="#444" stroke-width="0.8"/>
<line x1="181.24" y1="360" x2="181.24" y2="361.8" stroke="#444" stroke-width="0.8"/>
<line x1="182.67" y1="360" x2="182.67" y2="361.8" stroke="#444" stroke-width="0.8"/>
<line x1="183.95" y1="360" x2="183.95" y2="363.2" stroke="#444" stroke-width="0.8"/>
<line x1="192.37" y1="360" x2="192.37" y2="361.8" stroke="#444" stroke-width="0.8"/>
<line x1="197.3" y1="360" x2="197.3" y2="361.8" stroke="#444" stroke-width="0.8"/>
<line x1="200.79" y1="360" x2="200.79" y2="361.8" stroke="#444" stroke-width="0.8"/>
<line x1="203.5" y1="360" x2="203.5" y2="361.8" stroke="#444" stroke-width="0.8"/>
<line x1="205.72" y1="360" x2="205.72" y2="361.8" stroke="#444" stroke-width="0.8"/>
<line x1="207.59" y1="360" x2="207.59" y2="361.8" stroke="#444" stroke-width="0.8"/>
<line x1="209.21" y1="360" x2="209.21" y2="361.8" stroke="#444" stroke-width="0.8"/>
<line x1="210.64" y1="360" x2="210.64" y2="361.8" stroke="#444" stroke-width="0.8"/>
<line x1="211.93" y1="360" x2="211.93" y2="363.2" stroke="#444" stroke-width="0.8"/>
<line x1="220.35" y1="360" x2="220.35" y2="361.8" stroke="#444" stroke-width="0.8"/>
<line x1="225.27" y1="360" x2="225.27" y2="361.8" stroke="#444" stroke-width="0.8"/>
<line x1="228.77" y1="360" x2="228.77" y2="361.8" stroke="#444" stroke-width="0.8"/>
<line x1="231.48" y1="360" x2="231.48" y2="361.8" stroke="#444" stroke-width="0.8"/>
<line x1="233.69" y1="360" x2="233.69" y2="361.8" stroke="#444" stroke-width="0.8"/>
<line x1="235.57" y1="360" x2="235.57" y2="361.8" stroke="#444" stroke-width="0.8"/>
<line x1="237.19" y1="360" x2="237.19" y2="361.8" stroke="#444" stroke-width="0.8"/>
<line x1="238.62" y1="360" x2="238.62" y2="361.8" stroke="#444" stroke-width="0.8"/>
<line x1="239.9" y1="360" x2="239.9" y2="363.2" stroke="#444" stroke-width="0.8"/>
<line x1="127.5" y1="359.4" x2="239.9" y2="359.4" stroke="#000" stroke-width="1.5"/>
<line x1="128" y1="288.2" x2="128" y2="360.1" stroke="#000" stroke-width="2"/>
<line x1="127" y1="369.4" x2="240.6" y2="369.4" stroke="#3a3a3a" stroke-width="1.2"/>
<line x1="240.6" y1="369.4" x2="240.6" y2="437.8" stroke="#3a3a3a" stroke-width="1.2"/>
<line x1="124.3" y1="437.8" x2="126.5" y2="437.8" stroke="#444" stroke-width="0.9"/>
<line x1="124.3" y1="433.4" x2="126.5" y2="433.4" stroke="#444" stroke-width="0.9"/>
<line x1="124.3" y1="429" x2="126.5" y2="429" stroke="#444" stroke-width="0.9"/>
<line x1="124.3" y1="424.6" x2="126.5" y2="424.6" stroke="#444" stroke-width="0.9"/>
<line x1="124.3" y1="420.2" x2="126.5" y2="420.2" stroke="#444" stroke-width="0.9"/>
<line x1="124.3" y1="415.8" x2="126.5" y2="415.8" stroke="#444" stroke-width="0.9"/>
<line x1="124.3" y1="411.4" x2="126.5" y2="411.4" stroke="#444" stroke-width="0.9"/>
<line x1="124.3" y1="407" x2="126.5" y2="407" stroke="#444" stroke-width="0.9"/>
<line x1="124.3" y1="402.6" x2="126.5" y2="402.6" stroke="#444" stroke-width="0.9"/>
<line x1="124.3" y1="398.2" x2="126.5" y2="398.2" stroke="#444" stroke-width="0.9"/>
<line x1="124.3" y1="393.8" x2="126.5" y2="393.8" stroke="#444" stroke-width="0.9"/>
<line x1="124.3" y1="389.4" x2="126.5" y2="389.4" stroke="#444" stroke-width="0.9"/>
<line x1="124.3" y1="385" x2="126.5" y2="385" stroke="#444" stroke-width="0.9"/>
<line x1="124.3" y1="380.6" x2="126.5" y2="380.6" stroke="#444" stroke-width="0.9"/>
<line x1="124.3" y1="376.2" x2="126.5" y2="376.2" stroke="#444" stroke-width="0.9"/>
<line x1="124.3" y1="371.8" x2="126.5" y2="371.8" stroke="#444" stroke-width="0.9"/>
<line x1="127" y1="438.4" x2="127" y2="441.6" stroke="#444" stroke-width="0.8"/>
<line x1="135.55" y1="438.4" x2="135.55" y2="440.2" stroke="#444" stroke-width="0.8"/>
<line x1="140.55" y1="438.4" x2="140.55" y2="440.2" stroke="#444" stroke-width="0.8"/>
<line x1="144.1" y1="438.4" x2="144.1" y2="440.2" stroke="#444" stroke-width="0.8"/>
<line x1="146.85" y1="438.4" x2="146.85" y2="440.2" stroke="#444" stroke-width="0.8"/>
<line x1="149.1" y1="438.4" x2="149.1" y2="440.2" stroke="#444" stroke-width="0.8"/>
<line x1="151" y1="438.4" x2="151" y2="440.2" stroke="#444" stroke-width="0.8"/>
<line x1="152.65" y1="438.4" x2="152.65" y2="440.2" stroke="#444" stroke-width="0.8"/>
<line x1="154.1" y1="438.4" x2="154.1" y2="440.2" stroke="#444" stroke-width="0.8"/>
<line x1="155.4" y1="438.4" x2="155.4" y2="441.6" stroke="#444" stroke-width="0.8"/>
<line x1="163.95" y1="438.4" x2="163.95" y2="440.2" stroke="#444" stroke-width="0.8"/>
<line x1="168.95" y1="438.4" x2="168.95" y2="440.2" stroke="#444" stroke-width="0.8"/>
<line x1="172.5" y1="438.4" x2="172.5" y2="440.2" stroke="#444" stroke-width="0.8"/>
<line x1="175.25" y1="438.4" x2="175.25" y2="440.2" stroke="#444" stroke-width="0.8"/>
<line x1="177.5" y1="438.4" x2="177.5" y2="440.2" stroke="#444" stroke-width="0.8"/>
<line x1="179.4" y1="438.4" x2="179.4" y2="440.2" stroke="#444" stroke-width="0.8"/>
<line x1="181.05" y1="438.4" x2="181.05" y2="440.2" stroke="#444" stroke-width="0.8"/>
<line x1="182.5" y1="438.4" x2="182.5" y2="440.2" stroke="#444" stroke-width="0.8"/>
<line x1="183.8" y1="438.4" x2="183.8" y2="441.6" stroke="#444" stroke-width="0.8"/>
<line x1="192.35" y1="438.4" x2="192.35" y2="440.2" stroke="#444" stroke-width="0.8"/>
<line x1="197.35" y1="438.4" x2="197.35" y2="440.2" stroke="#444" stroke-width="0.8"/>
<line x1="200.9" y1="438.4" x2="200.9" y2="440.2" stroke="#444" stroke-width="0.8"/>
<line x1="203.65" y1="438.4" x2="203.65" y2="440.2" stroke="#444" stroke-width="0.8"/>
<line x1="205.9" y1="438.4" x2="205.9" y2="440.2" stroke="#444" stroke-width="0.8"/>
<line x1="207.8" y1="438.4" x2="207.8" y2="440.2" stroke="#444" stroke-width="0.8"/>
<line x1="209.45" y1="438.4" x2="209.45" y2="440.2" stroke="#444" stroke-width="0.8"/>
<line x1="210.9" y1="438.4" x2="210.9" y2="440.2" stroke="#444" stroke-width="0.8"/>
<line x1="212.2" y1="438.4" x2="212.2" y2="441.6" stroke="#444" stroke-width="0.8"/>
<line x1="220.75" y1="438.4" x2="220.75" y2="440.2" stroke="#444" stroke-width="0.8"/>
<line x1="225.75" y1="438.4" x2="225.75" y2="440.2" stroke="#444" stroke-width="0.8"/>
<line x1="229.3" y1="438.4" x2="229.3" y2="440.2" stroke="#444" stroke-width="0.8"/>
<line x1="232.05" y1="438.4" x2="232.05" y2="440.2" stroke="#444" stroke-width="0.8"/>
<line x1="234.3" y1="438.4" x2="234.3" y2="440.2" stroke="#444" stroke-width="0.8"/>
<line x1="236.2" y1="438.4" x2="236.2" y2="440.2" stroke="#444" stroke-width="0.8"/>
<line x1="237.85" y1="438.4" x2="237.85" y2="440.2" stroke="#444" stroke-width="0.8"/>
<line x1="239.3" y1="438.4" x2="239.3" y2="440.2" stroke="#444" stroke-width="0.8"/>
<line x1="240.6" y1="438.4" x2="240.6" y2="441.6" stroke="#444" stroke-width="0.8"/>
<line x1="126.5" y1="437.8" x2="240.6" y2="437.8" stroke="#000" stroke-width="1.5"/>
<line x1="127" y1="369" x2="127" y2="438.5" stroke="#000" stroke-width="2"/>
<line x1="125.2" y1="446.9" x2="237" y2="446.9" stroke="#444" stroke-width="1.2"/>
<line x1="237" y1="446.9" x2="237" y2="517.2" stroke="#444" stroke-width="1.2"/>
<line x1="122.5" y1="517.2" x2="124.7" y2="517.2" stroke="#555" stroke-width="0.9"/>
<line x1="122.5" y1="512.8" x2="124.7" y2="512.8" stroke="#555" stroke-width="0.9"/>
<line x1="122.5" y1="508.4" x2="124.7" y2="508.4" stroke="#555" stroke-width="0.9"/>
<line x1="122.5" y1="504" x2="124.7" y2="504" stroke="#555" stroke-width="0.9"/>
<line x1="122.5" y1="499.6" x2="124.7" y2="499.6" stroke="#555" stroke-width="0.9"/>
<line x1="122.5" y1="495.2" x2="124.7" y2="495.2" stroke="#555" stroke-width="0.9"/>
<line x1="122.5" y1="490.8" x2="124.7" y2="490.8" stroke="#555" stroke-width="0.9"/>
<line x1="122.5" y1="486.4" x2="124.7" y2="486.4" stroke="#555" stroke-width="0.9"/>
<line x1="122.5" y1="482" x2="124.7" y2="482" stroke="#555" stroke-width="0.9"/>
<line x1="122.5" y1="477.6" x2="124.7" y2="477.6" stroke="#555" stroke-width="0.9"/>
<line x1="122.5" y1="473.2" x2="124.7" y2="473.2" stroke="#555" stroke-width="0.9"/>
<line x1="122.5" y1="468.8" x2="124.7" y2="468.8" stroke="#555" stroke-width="0.9"/>
<line x1="122.5" y1="464.4" x2="124.7" y2="464.4" stroke="#555" stroke-width="0.9"/>
<line x1="122.5" y1="460" x2="124.7" y2="460" stroke="#555" stroke-width="0.9"/>
<line x1="122.5" y1="455.6" x2="124.7" y2="455.6" stroke="#555" stroke-width="0.9"/>
<line x1="122.5" y1="451.2" x2="124.7" y2="451.2" stroke="#555" stroke-width="0.9"/>
<line x1="125.2" y1="517.8" x2="125.2" y2="521" stroke="#555" stroke-width="0.8"/>
<line x1="133.61" y1="517.8" x2="133.61" y2="519.6" stroke="#555" stroke-width="0.8"/>
<line x1="138.54" y1="517.8" x2="138.54" y2="519.6" stroke="#555" stroke-width="0.8"/>
<line x1="142.03" y1="517.8" x2="142.03" y2="519.6" stroke="#555" stroke-width="0.8"/>
<line x1="144.74" y1="517.8" x2="144.74" y2="519.6" stroke="#555" stroke-width="0.8"/>
<line x1="146.95" y1="517.8" x2="146.95" y2="519.6" stroke="#555" stroke-width="0.8"/>
<line x1="148.82" y1="517.8" x2="148.82" y2="519.6" stroke="#555" stroke-width="0.8"/>
<line x1="150.44" y1="517.8" x2="150.44" y2="519.6" stroke="#555" stroke-width="0.8"/>
<line x1="151.87" y1="517.8" x2="151.87" y2="519.6" stroke="#555" stroke-width="0.8"/>
<line x1="153.15" y1="517.8" x2="153.15" y2="521" stroke="#555" stroke-width="0.8"/>
<line x1="161.56" y1="517.8" x2="161.56" y2="519.6" stroke="#555" stroke-width="0.8"/>
<line x1="166.49" y1="517.8" x2="166.49" y2="519.6" stroke="#555" stroke-width="0.8"/>
<line x1="169.98" y1="517.8" x2="169.98" y2="519.6" stroke="#555" stroke-width="0.8"/>
<line x1="172.69" y1="517.8" x2="172.69" y2="519.6" stroke="#555" stroke-width="0.8"/>
<line x1="174.9" y1="517.8" x2="174.9" y2="519.6" stroke="#555" stroke-width="0.8"/>
<line x1="176.77" y1="517.8" x2="176.77" y2="519.6" stroke="#555" stroke-width="0.8"/>
<line x1="178.39" y1="517.8" x2="178.39" y2="519.6" stroke="#555" stroke-width="0.8"/>
<line x1="179.82" y1="517.8" x2="179.82" y2="519.6" stroke="#555" stroke-width="0.8"/>
<line x1="181.1" y1="517.8" x2="181.1" y2="521" stroke="#555" stroke-width="0.8"/>
<line x1="189.51" y1="517.8" x2="189.51" y2="519.6" stroke="#555" stroke-width="0.8"/>
<line x1="194.44" y1="517.8" x2="194.44" y2="519.6" stroke="#555" stroke-width="0.8"/>
<line x1="197.93" y1="517.8" x2="197.93" y2="519.6" stroke="#555" stroke-width="0.8"/>
<line x1="200.64" y1="517.8" x2="200.64" y2="519.6" stroke="#555" stroke-width="0.8"/>
<line x1="202.85" y1="517.8" x2="202.85" y2="519.6" stroke="#555" stroke-width="0.8"/>
<line x1="204.72" y1="517.8" x2="204.72" y2="519.6" stroke="#555" stroke-width="0.8"/>
<line x1="206.34" y1="517.8" x2="206.34" y2="519.6" stroke="#555" stroke-width="0.8"/>
<line x1="207.77" y1="517.8" x2="207.77" y2="519.6" stroke="#555" stroke-width="0.8"/>
<line x1="209.05" y1="517.8" x2="209.05" y2="521" stroke="#555" stroke-width="0.8"/>
<line x1="217.46" y1="517.8" x2="217.46" y2="519.6" stroke="#555" stroke-width="0.8"/>
<line x1="222.39" y1="517.8" x2="222.39" y2="519.6" stroke="#555" stroke-width="0.8"/>
<line x1="225.88" y1="517.8" x2="225.88" y2="519.6" stroke="#555" stroke-width="0.8"/>
<line x1="228.59" y1="517.8" x2="228.59" y2="519.6" stroke="#555" stroke-width="0.8"/>
<line x1="230.8" y1="517.8" x2="230.8" y2="519.6" stroke="#555" stroke-width="0.8"/>
<line x1="232.67" y1="517.8" x2="232.67" y2="519.6" stroke="#555" stroke-width="0.8"/>
<line x1="234.29" y1="517.8" x2="234.29" y2="519.6" stroke="#555" stroke-width="0.8"/>
<line x1="235.72" y1="517.8" x2="235.72" y2="519.6" stroke="#555" stroke-width="0.8"/>
<line x1="237" y1="517.8" x2="237" y2="521" stroke="#555" stroke-width="0.8"/>
<line x1="124.7" y1="517.2" x2="237" y2="517.2" stroke="#2a2a2a" stroke-width="1.5"/>
<line x1="125.2" y1="446.5" x2="125.2" y2="517.9" stroke="#2a2a2a" stroke-width="2"/>
<path d="M128,346.2L128.5,346.2L128.5,344.09L129,344.09L129,341.88L129.5,341.88L129.5,339.36L130,339.36L130,338L130.5,338L130.5,337.23L131,337.23L131,334.01L131.5,334.01L131.5,333.51L132,333.51L132,332L132.5,332L132.5,332.3L133,332.3L133,330.16L133.5,330.16L133.5,330.61L134,330.61L134,330L134.5,330L134.5,331.4L135,331.4L135,331.42L135.5,331.42L135.5,333.5L136.15,333.5L136.15,331.31L136.8,331.31L136.8,329.6L137.4,329.6L137.4,326.21L138,326.21L138,322L138.5,322L138.5,319.9L139,319.9L139,318.45L139.5,318.45L139.5,316L140,316L140,314.08L140.5,314.08L140.5,313.01L141,313.01L141,312.3L141.5,312.3L141.5,313.19L142,313.19L142,315.65L142.5,315.65L142.5,317.3L143,317.3L143,318.92L143.5,318.92L143.5,319.03L144,319.03L144,320.17L144.5,320.17L144.5,320.4L145.13,320.4L145.13,320.37L145.77,320.37L145.77,321.29L146.4,321.29L146.4,321L146.93,321L146.93,321.87L147.47,321.87L147.47,323.92L148,323.92L148,326L148.5,326L148.5,326.77L149,326.77L149,327.3L149.5,327.3L149.5,327.12L150,327.12L150,327.7L150.5,327.7L150.5,327.45L151,327.45L151,328.38L151.5,328.38L151.5,328.84L152,328.84L152,330L152.5,330L152.5,330.71L153,330.71L153,332.3L153.5,332.3L153.5,334.27L154,334.27L154,335L154.5,335L154.5,335.9L155,335.9L155,338L155.5,338L155.5,340.26L156,340.26L156,341L156.5,341L156.5,343.04L157,343.04L157,343.8L157.5,343.8L157.5,343.74L158,343.74L158,345L158.5,345L158.5,345.41L159,345.41L159,346.14L159.5,346.14L159.5,346.13L160,346.13L160,347.3L160.5,347.3L160.5,348.07L161,348.07L161,349L161.5,349L161.5,350.13L162,350.13L162,350.16L162.5,350.16L162.5,351.33L163,351.33L163,352L163.5,352L163.5,352.25L164,352.25L164,353L164.5,353L164.5,353.64L165,353.64L165,354.4L165.5,354.4L165.5,354.67L166,354.67L166,355.4L166.5,355.4L166.5,355.82L167,355.82L167,356.44L167.5,356.44L167.5,357.13L168,357.13L168,357.7L168.5,357.7L168.5,358.2L169,358.2L169,358.8L169.5,358.8L169.5,358.99L170,358.99L170,359.2" stroke="#8a8a8a" stroke-width="1.4" fill="none" stroke-linejoin="miter" stroke-miterlimit="2"/>
<path d="M128,359.2L128,312.7L128.5,312.7L128.5,326.84L129,326.84L129,340.4L129.5,340.4L129.5,341.82L130,341.82L130,343.8L130.5,343.8L130.5,342.21L131,342.21L131,340L131.5,340L131.5,337.82L132,337.82L132,338L132.5,338L132.5,333.5L133,333.5L133,326.5L133.5,326.5L133.5,339.34L134,339.34L134,349.6L134.5,349.6L134.5,341.56L135,341.56L135,332.3L135.5,332.3L135.5,332.09L136,332.09L136,334.6L136.5,334.6L136.5,332.98L137,332.98L137,331.2L137.5,331.2L137.5,343.8L138,343.8L138,337L138.5,337L138.5,335.11L139,335.11L139,334.6L139.5,334.6L139.5,331.9L140,331.9L140,331.2L140.5,331.2L140.5,331.26L141,331.26L141,327.7L141.5,327.7L141.5,331.99L142,331.99L142,332.3L142.5,332.3L142.5,336.23L143,336.23L143,343.8L143.5,343.8L143.5,340.64L144,340.64L144,334.6L144.5,334.6L144.5,333.31L145,333.31L145,331.2L145.5,331.2L145.5,328.98L146,328.98L146,327.7L146.5,327.7L146.5,323L147,323L147,320.73L147.5,320.73L147.5,316.2L148,316.2L148,328.8L148.5,328.8L148.5,331.53L149,331.53L149,334.6L149.5,334.6L149.5,331.89L150,331.89L150,327.7L150.5,327.7L150.5,330.1L151,330.1L151,331.2L151.5,331.2L151.5,332.63L152,332.63L152,337L152.5,337L152.5,335.72L153,335.72L153,332.3L153.5,332.3L153.5,335.38L154,335.38L154,334.6L154.5,334.6L154.5,334.78L155,334.78L155,331.2L155.5,331.2L155.5,334.55L156,334.55L156,337L156.5,337L156.5,336.28L157,336.28L157,339.2L157.5,339.2L157.5,339.52L158,339.52L158,343.8L158.5,343.8L158.5,340.64L159,340.64L159,340.4L159.5,340.4L159.5,345.06L160,345.06L160,346.2L160.5,346.2L160.5,346.57L161,346.57L161,348.5L161.5,348.5L161.5,346.82L162,346.82L162,346.2L162.5,346.2L162.5,349.92L163,349.92L163,350.8L163.5,350.8L163.5,351.45L164,351.45L164,353L164.5,353L164.5,350.89L165,350.89L165,348.5L165.5,348.5L165.5,349.45L166,349.45L166,350.8L166.5,350.8L166.5,351.53L167,351.53L167,354.2L167.5,354.2L167.5,350.45L168,350.45L168,346.2L168.5,346.2L168.5,344.68L169,344.68L169,340.4L169.5,340.4L169.5,340.18L170,340.18L170,342.7L170.6,342.7L170.6,349.6L171,349.6L171,345L171.5,345L171.5,343.9L172,343.9L172,345L172.5,345L172.5,344.05L173,344.05L173,343.8L173.5,343.8L173.5,339.05L174,339.05L174,338L174.5,338L174.5,334.59L175,334.59L175,331.2L175.5,331.2L175.5,330.12L176,330.12L176,326.5L176.5,326.5L176.5,323.68L177,323.68L177,319.6L177.65,319.6L177.65,316.28L178.3,316.28L178.3,312.7L179,312.7L179,318.5L179.5,318.5L179.5,322.17L180,322.17L180,323L180.5,323L180.5,322.8L181,322.8L181,325.4L181.5,325.4L181.5,327.37L182,327.37L182,328.8L182.5,328.8L182.5,331.2L183,331.2L183,334.6L183.5,334.6L183.5,336.71L184,336.71L184,338L184.5,338L184.5,339.15L185,339.15L185,343.4L185.5,343.4L185.5,345.3L186,345.3L186,345L186.5,345L186.5,344.39L187,344.39L187,347L187.5,347L187.5,346.59L188,346.59L188,349.78L188.5,349.78L188.5,350.99L189,350.99L189,350.4L189.5,350.4L189.5,349.03L190,349.03L190,348.1L190.5,348.1L190.5,347.37L191,347.37L191,346.29L191.5,346.29L191.5,346L192,346L192,346.5L192.5,346.5L192.5,348.68L193,348.68L193,350L193.5,350L193.5,351.23L194,351.23L194,354L194.5,354L194.5,354.69L195,354.69L195,356.36L195.5,356.36L195.5,357.6L196,357.6L196,354.49L196.5,354.49L196.5,352.67L197,352.67L197,349.7L197.5,349.7L197.5,349.51L198,349.51L198,347L198.5,347L198.5,347.11L199,347.11L199,345L199.5,345L199.5,344.92L200,344.92L200,344.39L200.5,344.39L200.5,344.74L201,344.74L201,345L201.5,345L201.5,340.62L202,340.62L202,340.2L202.5,340.2L202.5,337.1L203,337.1L203,332.3L203.5,332.3L203.5,349.7L204,349.7L204,327.5L204.5,327.5L204.5,328.08L205,328.08L205,330L205.53,330L205.53,327.94L206.07,327.94L206.07,325.65L206.6,325.65L206.6,326L207,326L207,332.3L207.57,332.3L207.57,330.49L208.13,330.49L208.13,329.43L208.7,329.43L208.7,327.5L209.5,327.5L209.5,335.4L210,335.4L210,341.8L210.5,341.8L210.5,343.46L211,343.46L211,346L211.5,346L211.5,349.25L212,349.25L212,349.7L212.5,349.7L212.5,352.46L213,352.46L213,354.4L213.5,354.4L213.5,356.16L214,356.16L214,358.4L214.5,358.4L214.5,356.42L215,356.42L215,354.4L215.5,354.4L215.5,355.75L216,355.75L216,356L216.5,356L216.5,357.21L217,357.21L217,358.4L217.5,358.4L217.5,358.72L218,358.72L218,359L218.51,359L218.51,358.98L219.02,358.98L219.02,359.01L219.53,359.01L219.53,359.01L220.04,359.01L220.04,359.01L220.55,359.01L220.55,359.02L221.06,359.02L221.06,359.03L221.57,359.03L221.57,359.03L222.07,359.03L222.07,359.04L222.58,359.04L222.58,359.02L223.09,359.02L223.09,359.04L223.6,359.04L223.6,359.07L224.11,359.07L224.11,359.05L224.62,359.05L224.62,359.04L225.13,359.04L225.13,359.04L225.64,359.04L225.64,359.07L226.15,359.07L226.15,359.06L226.66,359.06L226.66,359.06L227.17,359.06L227.17,359.07L227.68,359.07L227.68,359.09L228.19,359.09L228.19,359.11L228.7,359.11L228.7,359.1L229.2,359.1L229.2,359.1L229.71,359.1L229.71,359.11L230.22,359.11L230.22,359.11L230.73,359.11L230.73,359.11L231.24,359.11L231.24,359.13L231.75,359.13L231.75,359.14L232.26,359.14L232.26,359.13L232.77,359.13L232.77,359.13L233.28,359.13L233.28,359.14L233.79,359.14L233.79,359.15L234.3,359.15L234.3,359.14L234.81,359.14L234.81,359.15L235.32,359.15L235.32,359.16L235.83,359.16L235.83,359.17L236.33,359.17L236.33,359.17L236.84,359.17L236.84,359.17L237.35,359.17L237.35,359.18L237.86,359.18L237.86,359.18L238.37,359.18L238.37,359.19L238.88,359.19L238.88,359.19L239.39,359.19L239.39,359.2L239.9,359.2L239.9,359.2" stroke="#000" stroke-width="1.7" fill="none" stroke-linejoin="miter" stroke-miterlimit="2"/>
<path d="M127,437.6L127,384.6L127.5,384.6L127.5,394.15L128,394.15L128,404.2L128.5,404.2L128.5,404.91L129,404.91L129,405L129.5,405L129.5,407.96L130,407.96L130,406.5L130.5,406.5L130.5,405.57L131,405.57L131,405L131.5,405L131.5,405.79L132,405.79L132,406.5L132.5,406.5L132.5,405.2L133,405.2L133,403L133.5,403L133.5,403.11L134,403.11L134,406.5L134.5,406.5L134.5,404.56L135,404.56L135,402.5L135.5,402.5L135.5,411L136,411L136,403.08L136.5,403.08L136.5,393.8L137,393.8L137,398.82L137.5,398.82L137.5,400.8L138,400.8L138,405L138.5,405L138.5,401.34L139,401.34L139,401.9L139.5,401.9L139.5,404.33L140,404.33L140,408.8L140.5,408.8L140.5,406.12L141,406.12L141,407.7L141.5,407.7L141.5,411.06L142,411.06L142,411.2L142.5,411.2L142.5,413.36L143,413.36L143,413.5L143.5,413.5L143.5,411.37L144,411.37L144,414L144.5,414L144.5,417.41L145,417.41L145,415.8L145.5,415.8L145.5,419.07L146,419.07L146,417.5L146.5,417.5L146.5,419.15L147,419.15L147,419.2L147.5,419.2L147.5,421.55L148,421.55L148,422.7L148.5,422.7L148.5,422.67L149,422.67L149,426.2L149.5,426.2L149.5,424.47L150,424.47L150,427.3L150.5,427.3L150.5,427.77L151,427.77L151,428L151.5,428L151.5,427.12L152,427.12L152,429.6L152.5,429.6L152.5,428.75L153,428.75L153,430L153.5,430L153.5,428.93L154,428.93L154,429.6L154.5,429.6L154.5,427.31L155,427.31L155,428.5L155.5,428.5L155.5,427.75L156,427.75L156,427.3L156.5,427.3L156.5,427.91L157,427.91L157,429L157.5,429L157.5,431.04L158,431.04L158,430.8L158.5,430.8L158.5,429.12L159,429.12L159,427.3L159.5,427.3L159.5,426.85L160,426.85L160,425L160.5,425L160.5,419.2L161,419.2L161,420.95L161.5,420.95L161.5,422.7L162.4,422.7L162.4,413.5L163,413.5L163,423.8L163.5,423.8L163.5,425.84L164,425.84L164,426.2L164.5,426.2L164.5,424.23L165,424.23L165,422.7L165.5,422.7L165.5,419.2L166,419.2L166,418L166.5,418L166.5,418.89L167,418.89L167,414.6L167.5,414.6L167.5,415.48L168,415.48L168,411.2L168.5,411.2L168.5,411.77L169,411.77L169,408.8L169.5,408.8L169.5,408.73L170,408.73L170,406.5L170.7,406.5L170.7,399.6L171.3,399.6L171.3,411.2L172,411.2L172,407.7L172.5,407.7L172.5,407.89L173,407.89L173,410L173.5,410L173.5,406.29L174,406.29L174,405.4L174.63,405.4L174.63,403.9L175.27,403.9L175.27,402.37L175.9,402.37L175.9,404.2L176.5,404.2L176.5,408.8L177,408.8L177,412.3L177.5,412.3L177.5,415.43L178,415.43L178,415.8L178.5,415.8L178.5,416.98L179,416.98L179,419.2L179.5,419.2L179.5,421.4L180,421.4L180,420L180.5,420L180.5,418.78L181,418.78L181,418.75L181.5,418.75L181.5,424.26L182,424.26L182,425L182.5,425L182.5,428.17L183,428.17L183,428L183.5,428L183.5,426.77L184,426.77L184,429.4L184.5,429.4L184.5,427.58L185,427.58L185,428L185.5,428L185.5,428.99L186,428.99L186,426.25L186.5,426.25L186.5,428L187,428L187,430L187.5,430L187.5,432.33L188,432.33L188,431.9L188.5,431.9L188.5,430.65L189,430.65L189,430L189.5,430L189.5,428.95L190,428.95L190,430.6L190.5,430.6L190.5,429.77L191,429.77L191,428L191.5,428L191.5,428.39L192,428.39L192,426.25L192.5,426.25L192.5,427.18L193,427.18L193,430L193.5,430L193.5,426.87L194,426.87L194,427L194.5,427L194.5,424.5L195,424.5L195,423.75L195.5,423.75L195.5,424.29L196,424.29L196,420L196.5,420L196.5,419.47L197,419.47L197,416.25L197.5,416.25L197.5,412.39L198,412.39L198,412.5L198.55,412.5L198.55,408.68L199.1,408.68L199.1,407.5L200,407.5L200,416.25L200.5,416.25L200.5,416.05L201,416.05L201,420L201.5,420L201.5,418.71L202,418.71L202,422L202.5,422L202.5,425.04L203,425.04L203,425L203.5,425L203.5,424.38L204,424.38L204,427L204.5,427L204.5,428.12L205,428.12L205,428.75L205.5,428.75L205.5,429.19L206,429.19L206,430L206.5,430L206.5,430.06L207,430.06L207,431.9L207.5,431.9L207.5,432.97L208,432.97L208,433L208.5,433L208.5,432.7L209,432.7L209,433.75L209.5,433.75L209.5,434.34L210,434.34L210,434.5L210.5,434.5L210.5,434.31L211,434.31L211,434.96L211.5,434.96L211.5,435.04L212,435.04L212,435.6L212.5,435.6L212.5,435.64L213,435.64L213,436.35L213.5,436.35L213.5,436.43L214,436.43L214,436.37L214.5,436.37L214.5,436.84L215,436.84L215,436.9L215.5,436.9L215.5,436.88L216,436.88L216,436.99L216.5,436.99L216.5,437.16L217,437.16L217,437.16L217.5,437.16L217.5,437.12L218,437.12L218,437.25L218.5,437.25L218.5,437L219,437L219,436.27L219.5,436.27L219.5,436L220,436L220,436.55L220.5,436.55L220.5,437.3L221,437.3L221,437.34L221.5,437.34L221.5,437.29L222.01,437.29L222.01,437.3L222.51,437.3L222.51,437.28L223.01,437.28L223.01,437.29L223.51,437.29L223.51,437.35L224.02,437.35L224.02,437.32L224.52,437.32L224.52,437.37L225.02,437.37L225.02,437.35L225.53,437.35L225.53,437.37L226.03,437.37L226.03,437.43L226.53,437.43L226.53,437.39L227.03,437.39L227.03,437.4L227.53,437.4L227.53,437.44L228.04,437.44L228.04,437.39L228.54,437.39L228.54,437.39L229.04,437.39L229.04,437.46L229.54,437.46L229.54,437.46L230.05,437.46L230.05,437.43L230.55,437.43L230.55,437.43L231.05,437.43L231.05,437.47L231.56,437.47L231.56,437.49L232.06,437.49L232.06,437.46L232.56,437.46L232.56,437.5L233.06,437.5L233.06,437.51L233.56,437.51L233.56,437.5L234.07,437.5L234.07,437.5L234.57,437.5L234.57,437.49L235.07,437.49L235.07,437.5L235.57,437.5L235.57,437.54L236.08,437.54L236.08,437.52L236.58,437.52L236.58,437.55L237.08,437.55L237.08,437.54L237.58,437.54L237.58,437.56L238.09,437.56L238.09,437.56L238.59,437.56L238.59,437.57L239.09,437.57L239.09,437.57L239.59,437.57L239.59,437.59L240.1,437.59L240.1,437.59L240.6,437.59L240.6,437.6" stroke="#000" stroke-width="1.7" fill="none" stroke-linejoin="miter" stroke-miterlimit="2"/>
<path d="M125.7,517L125.7,480L126,480L126,478.9L126.5,478.9L126.5,474.34L127,474.34L127,469.9L127.5,469.9L127.5,472.53L128,472.53L128,474.4L128.5,474.4L128.5,471.05L129,471.05L129,466.9L129.5,466.9L129.5,468.29L130,468.29L130,471.4L130.5,471.4L130.5,467.63L131,467.63L131,466.2L131.5,466.2L131.5,464.8L132,464.8L132,464L132.7,464L132.7,461L133.5,461L133.5,464L134,464L134,466.2L134.5,466.2L134.5,467.51L135,467.51L135,469.9L135.5,469.9L135.5,472.89L136,472.89L136,474.4L136.5,474.4L136.5,476.66L137,476.66L137,478L137.5,478L137.5,480.24L138,480.24L138,482L138.5,482L138.5,486.14L139,486.14L139,490L139.5,490L139.5,494.39L140,494.39L140,498L140.5,498L140.5,499.8L141,499.8L141,503L141.5,503L141.5,505.06L142,505.06L142,507.3L142.5,507.3L142.5,508.31L143,508.31L143,510L143.5,510L143.5,511.2L144,511.2L144,511.8L144.5,511.8L144.5,512.16L145,512.16L145,513L145.5,513L145.5,513.63L146,513.63L146,514L146.5,514L146.5,513.32L147,513.32L147,513L147.5,513L147.5,513.24L148,513.24L148,513.3L148.5,513.3L148.5,513.84L149,513.84L149,514.5L149.5,514.5L149.5,514.22L150,514.22L150,514L150.5,514L150.5,513.64L151,513.64L151,513L151.5,513L151.5,512.93L152,512.93L152,513.3L152.5,513.3L152.5,513.74L153,513.74L153,514.5L153.5,514.5L153.5,514.7L154,514.7L154,514.65L154.5,514.65L154.5,514.61L155,514.61L155,514.8L155.5,514.8L155.5,514.55L156,514.55L156,514L156.5,514L156.5,514.16L157,514.16L157,513.86L157.5,513.86L157.5,513.97L158,513.97L158,514L158.5,514L158.5,514.39L159,514.39L159,515L159.5,515L159.5,514.85L160,514.85L160,514.8L160.5,514.8L160.5,515L161,515L161,515.08L161.5,515.08L161.5,515.36L162,515.36L162,515.5L162.5,515.5L162.5,515.44L163,515.44L163,515.48L163.5,515.48L163.5,515.6L164,515.6L164,515.55L164.5,515.55L164.5,515.57L165,515.57L165,515.6L165.5,515.6L165.5,515.65L166,515.65L166,515.66L166.5,515.66L166.5,515.68L167,515.68L167,515.66L167.5,515.66L167.5,515.8L168,515.8L168,515.8L168.5,515.8L168.5,515.91L169,515.91L169,515.96L169.5,515.96L169.5,515.97L170,515.97L170,516L170.5,516L170.5,516L171,516L171,516.02L171.5,516.02L171.5,516.08L172,516.08L172,516.1L172.5,516.1L172.5,516.06L173,516.06L173,516.09L173.5,516.09L173.5,516.13L174,516.13L174,516.16L174.5,516.16L174.5,516.21L175,516.21L175,516.2L175.5,516.2L175.5,516.2L176,516.2L176,516.16L176.5,516.16L176.5,516.24L177,516.24L177,516.21L177.5,516.21L177.5,516.23L178,516.23L178,516.2L178.5,516.2L178.5,516.23L179,516.23L179,516.23L179.5,516.23L179.5,516.27L180,516.27L180,516.21L180.5,516.21L180.5,516.26L181,516.26L181,516.23L181.5,516.23L181.5,516.28L182,516.28L182,516.23L182.5,516.23L182.5,516.25L183,516.25L183,516.26L183.5,516.26L183.5,516.29L184,516.29L184,516.25L184.5,516.25L184.5,516.29L185,516.29L185,516.27L185.5,516.27L185.5,516.28L186,516.28L186,516.3L186.5,516.3L186.5,516.35L187,516.35L187,516.31L187.5,516.31L187.5,516.36L188,516.36L188,516.3L188.5,516.3L188.5,516.36L189,516.36L189,516.32L189.5,516.32L189.5,516.32L190,516.32L190,516.36L190.5,516.36L190.5,516.38L191,516.38L191,516.32L191.5,516.32L191.5,516.34L192,516.34L192,516.39L192.5,516.39L192.5,516.36L193,516.36L193,516.35L193.5,516.35L193.5,516.34L194,516.34L194,516.35L194.5,516.35L194.5,516.4L195,516.4L195,516.43L195.5,516.43L195.5,516.43L196,516.43L196,516.4L196.5,516.4L196.5,516.37L197,516.37L197,516.4L197.5,516.4L197.5,516.44L198,516.44L198,516.45L198.5,516.45L198.5,516.44L199,516.44L199,516.41L199.5,516.41L199.5,516.44L200,516.44L200,516.44L200.5,516.44L200.5,516.46L201,516.46L201,516.44L201.5,516.44L201.5,516.49L202,516.49L202,516.49L202.5,516.49L202.5,516.44L203,516.44L203,516.46L203.5,516.46L203.5,516.5L204,516.5L204,516.47L204.5,516.47L204.5,516.51L205,516.51L205,516.49L205.5,516.49L205.5,516.51L206,516.51L206,516.51L206.5,516.51L206.5,516.49L207,516.49L207,516.5L207.5,516.5L207.5,516.5L208,516.5L208,516.53L208.5,516.53L208.5,516.54L209,516.54L209,516.51L209.5,516.51L209.5,516.56L210,516.56L210,516.53L210.5,516.53L210.5,516.53L211,516.53L211,516.54L211.5,516.54L211.5,516.58L212,516.58L212,516.56L212.5,516.56L212.5,516.57L213,516.57L213,516.59L213.5,516.59L213.5,516.6L214,516.6L214,516.59L214.5,516.59L214.5,516.58L215,516.58L215,516.59L215.5,516.59L215.5,516.61L216,516.61L216,516.61L216.5,516.61L216.5,516.61L217,516.61L217,516.6L217.5,516.6L217.5,516.61L218,516.61L218,516.63L218.5,516.63L218.5,516.62L219,516.62L219,516.6L219.5,516.6L219.5,516.64L220,516.64L220,516.65L220.5,516.65L220.5,516.65L221,516.65L221,516.66L221.5,516.66L221.5,516.67L222,516.67L222,516.66L222.5,516.66L222.5,516.67L223,516.67L223,516.66L223.5,516.66L223.5,516.65L224,516.65L224,516.67L224.5,516.67L224.5,516.67L225,516.67L225,516.7L225.5,516.7L225.5,516.7L226,516.7L226,516.7L226.5,516.7L226.5,516.7L227,516.7L227,516.69L227.5,516.69L227.5,516.71L228,516.71L228,516.72L228.5,516.72L228.5,516.71L229,516.71L229,516.71L229.5,516.71L229.5,516.72L230,516.72L230,516.73L230.5,516.73L230.5,516.74L231,516.74L231,516.73L231.5,516.73L231.5,516.73L232,516.73L232,516.75L232.5,516.75L232.5,516.76L233,516.76L233,516.77L233.5,516.77L233.5,516.77L234,516.77L234,516.78L234.5,516.78L234.5,516.77L235,516.77L235,516.77L235.5,516.77L235.5,516.79L236,516.79L236,516.79L236.5,516.79L236.5,516.79L237,516.79L237,516.8" stroke="#484848" stroke-width="1.5" fill="none" stroke-linejoin="miter" stroke-miterlimit="2"/>
<text x="209.4" y="298.7" font-family="Liberation Sans" font-size="10.4" font-weight="normal" font-style="normal" text-anchor="start" fill="#000" stroke="#000" stroke-width="0.1" textLength="29.4" lengthAdjust="spacingAndGlyphs">CTRL</text>
<text x="195.6" y="379.7" font-family="Liberation Sans" font-size="10.2" font-weight="normal" font-style="normal" text-anchor="start" fill="#000" stroke="#000" stroke-width="0.1" textLength="42.2" lengthAdjust="spacingAndGlyphs">5% BSA</text>
<text x="149.4" y="458.6" font-family="Liberation Sans" font-size="8.8" font-weight="normal" font-style="normal" text-anchor="start" fill="#111" stroke="#111" stroke-width="0.1" textLength="88.0" lengthAdjust="spacingAndGlyphs">NOT PERMEABILIZED</text>
<line x1="124.6" y1="525.2" x2="238.8" y2="525.2" stroke="#000" stroke-width="1.3"/>
<path d="M244.8,525.2 L237.8,522 L237.8,528.4 Z" stroke="#000" stroke-width="0" fill="#000"/>
<text x="175.9" y="538.9" font-family="Liberation Sans" font-size="12.6" font-weight="normal" font-style="normal" text-anchor="start" fill="#000" stroke="#000" stroke-width="0.1" textLength="57.8" lengthAdjust="spacingAndGlyphs">FITC-tet<tspan font-style="italic">C</tspan></text>
<line x1="299" y1="270.2" x2="299" y2="431.4" stroke="#000" stroke-width="1.8"/>
<line x1="298.2" y1="430.4" x2="520" y2="430.4" stroke="#000" stroke-width="2.4"/>
<line x1="296.3" y1="430.4" x2="299" y2="430.4" stroke="#555" stroke-width="0.8"/>
<text x="293" y="434" font-family="Liberation Sans" font-size="10.2" font-weight="normal" font-style="normal" text-anchor="end" fill="#111" stroke="#111" stroke-width="0.1">0</text>
<line x1="296.3" y1="404.65" x2="299" y2="404.65" stroke="#555" stroke-width="0.8"/>
<text x="293" y="408.25" font-family="Liberation Sans" font-size="10.2" font-weight="normal" font-style="normal" text-anchor="end" fill="#111" stroke="#111" stroke-width="0.1">5</text>
<line x1="296.3" y1="378.9" x2="299" y2="378.9" stroke="#555" stroke-width="0.8"/>
<text x="282.6" y="382.5" font-family="Liberation Sans" font-size="10.2" font-weight="normal" font-style="normal" text-anchor="start" fill="#111" stroke="#111" stroke-width="0.1" textLength="10.0" lengthAdjust="spacingAndGlyphs">10</text>
<line x1="296.3" y1="353.15" x2="299" y2="353.15" stroke="#555" stroke-width="0.8"/>
<text x="282.6" y="356.75" font-family="Liberation Sans" font-size="10.2" font-weight="normal" font-style="normal" text-anchor="start" fill="#111" stroke="#111" stroke-width="0.1" textLength="10.0" lengthAdjust="spacingAndGlyphs">15</text>
<line x1="296.3" y1="327.4" x2="299" y2="327.4" stroke="#555" stroke-width="0.8"/>
<text x="282.6" y="331" font-family="Liberation Sans" font-size="10.2" font-weight="normal" font-style="normal" text-anchor="start" fill="#111" stroke="#111" stroke-width="0.1" textLength="10.0" lengthAdjust="spacingAndGlyphs">20</text>
<line x1="296.3" y1="301.65" x2="299" y2="301.65" stroke="#555" stroke-width="0.8"/>
<text x="282.6" y="305.25" font-family="Liberation Sans" font-size="10.2" font-weight="normal" font-style="normal" text-anchor="start" fill="#111" stroke="#111" stroke-width="0.1" textLength="10.0" lengthAdjust="spacingAndGlyphs">25</text>
<line x1="296.3" y1="275.9" x2="299" y2="275.9" stroke="#555" stroke-width="0.8"/>
<text x="282.6" y="279.5" font-family="Liberation Sans" font-size="10.2" font-weight="normal" font-style="normal" text-anchor="start" fill="#111" stroke="#111" stroke-width="0.1" textLength="10.0" lengthAdjust="spacingAndGlyphs">30</text>
<line x1="301" y1="431.5" x2="301" y2="434.2" stroke="#777" stroke-width="0.8"/>
<line x1="337.5" y1="431.5" x2="337.5" y2="434.2" stroke="#777" stroke-width="0.8"/>
<line x1="374" y1="431.5" x2="374" y2="434.2" stroke="#777" stroke-width="0.8"/>
<line x1="410.5" y1="431.5" x2="410.5" y2="434.2" stroke="#777" stroke-width="0.8"/>
<line x1="447" y1="431.5" x2="447" y2="434.2" stroke="#777" stroke-width="0.8"/>
<line x1="483.5" y1="431.5" x2="483.5" y2="434.2" stroke="#777" stroke-width="0.8"/>
<line x1="520" y1="431.5" x2="520" y2="434.2" stroke="#777" stroke-width="0.8"/>
<text x="319.25" y="450.2" font-family="Liberation Sans" font-size="10" font-weight="normal" font-style="normal" text-anchor="middle" fill="#111" stroke="#111" stroke-width="0.1">3</text>
<text x="355.75" y="450.2" font-family="Liberation Sans" font-size="10" font-weight="normal" font-style="normal" text-anchor="middle" fill="#111" stroke="#111" stroke-width="0.1">4</text>
<text x="392.25" y="450.2" font-family="Liberation Sans" font-size="10" font-weight="normal" font-style="normal" text-anchor="middle" fill="#111" stroke="#111" stroke-width="0.1">5</text>
<text x="428.75" y="450.2" font-family="Liberation Sans" font-size="10" font-weight="normal" font-style="normal" text-anchor="middle" fill="#111" stroke="#111" stroke-width="0.1">6</text>
<text x="465.25" y="450.2" font-family="Liberation Sans" font-size="10" font-weight="normal" font-style="normal" text-anchor="middle" fill="#111" stroke="#111" stroke-width="0.1">7</text>
<text x="501.75" y="450.2" font-family="Liberation Sans" font-size="10" font-weight="normal" font-style="normal" text-anchor="middle" fill="#111" stroke="#111" stroke-width="0.1">8</text>
<text x="342.6" y="464.3" font-family="Liberation Sans" font-size="11.5" font-weight="normal" font-style="normal" text-anchor="start" fill="#111" stroke="#111" stroke-width="0.1" textLength="133.8" lengthAdjust="spacingAndGlyphs">DAYS AFTER tet BOOSTER</text>
<text x="0" y="0" font-family="Liberation Sans" font-size="10.7" font-weight="bold" font-style="normal" text-anchor="start" fill="#111" stroke="#111" stroke-width="0.05" transform="translate(276.9,410.2) rotate(-90)" textLength="62.6" lengthAdjust="spacingAndGlyphs">% OF CD38</text>
<text x="0" y="0" font-family="Liberation Sans" font-size="4.8" font-weight="bold" font-style="normal" text-anchor="start" fill="#222" stroke="#222" stroke-width="0.05" transform="translate(269.8,347.4) rotate(-90)" textLength="12.2" lengthAdjust="spacingAndGlyphs">HIGH</text>
<text x="0" y="0" font-family="Liberation Sans" font-size="10.7" font-weight="bold" font-style="normal" text-anchor="start" fill="#111" stroke="#111" stroke-width="0.05" transform="translate(276.9,330.9) rotate(-90)" textLength="35.8" lengthAdjust="spacingAndGlyphs">CELLS</text>
<path d="M319.25,430.4 C325.33,429.54 343.58,435.55 355.75,425.25 C367.92,414.95 380.08,390.49 392.25,368.6 C404.42,346.71 416.58,302.34 428.75,293.92 C440.92,285.51 453.08,296.07 465.25,318.13 C477.42,340.19 495.67,408.25 501.75,426.28" stroke="#111" stroke-width="1.1" fill="none"/>
<path d="M319.25,430.4 C325.33,430.4 343.58,434.61 355.75,430.4 C367.92,426.19 380.08,416.28 392.25,405.16 C404.42,394.05 416.58,369.8 428.75,363.71 C440.92,357.61 453.08,358.17 465.25,368.6 C477.42,379.03 495.67,416.67 501.75,426.28" stroke="#111" stroke-width="1.1" fill="none"/>
<line x1="355.75" y1="425.25" x2="355.75" y2="420.1" stroke="#222" stroke-width="1"/>
<line x1="353.55" y1="420.1" x2="357.95" y2="420.1" stroke="#222" stroke-width="1.1"/>
<line x1="392.25" y1="368.6" x2="392.25" y2="344.39" stroke="#222" stroke-width="1"/>
<line x1="390.05" y1="344.39" x2="394.45" y2="344.39" stroke="#222" stroke-width="1.1"/>
<line x1="428.75" y1="293.92" x2="428.75" y2="283.11" stroke="#222" stroke-width="1"/>
<line x1="426.55" y1="283.11" x2="430.95" y2="283.11" stroke="#222" stroke-width="1.1"/>
<line x1="465.25" y1="318.13" x2="465.25" y2="296.5" stroke="#222" stroke-width="1"/>
<line x1="463.05" y1="296.5" x2="467.45" y2="296.5" stroke="#222" stroke-width="1.1"/>
<line x1="392.25" y1="405.16" x2="392.25" y2="390.23" stroke="#222" stroke-width="1"/>
<line x1="390.05" y1="390.23" x2="394.45" y2="390.23" stroke="#222" stroke-width="1.1"/>
<line x1="428.75" y1="363.71" x2="428.75" y2="356.75" stroke="#222" stroke-width="1"/>
<line x1="426.55" y1="356.75" x2="430.95" y2="356.75" stroke="#222" stroke-width="1.1"/>
<line x1="465.25" y1="368.6" x2="465.25" y2="354.69" stroke="#222" stroke-width="1"/>
<line x1="463.05" y1="354.69" x2="467.45" y2="354.69" stroke="#222" stroke-width="1.1"/>
<rect x="316.35" y="427.3" width="5.8" height="6.2" fill="#000"/>
<rect x="352.85" y="422.15" width="5.8" height="6.2" fill="#000"/>
<rect x="389.35" y="365.5" width="5.8" height="6.2" fill="#000"/>
<rect x="425.85" y="290.82" width="5.8" height="6.2" fill="#000"/>
<rect x="462.35" y="315.03" width="5.8" height="6.2" fill="#000"/>
<rect x="498.85" y="423.18" width="5.8" height="6.2" fill="#000"/>
<path d="M319.25,426.8 L315.85,433 L322.65,433 Z" stroke="#000" stroke-width="0" fill="#000"/>
<path d="M355.75,426.8 L352.35,433 L359.15,433 Z" stroke="#000" stroke-width="0" fill="#000"/>
<path d="M392.25,401.56 L388.85,407.76 L395.65,407.76 Z" stroke="#000" stroke-width="0" fill="#000"/>
<path d="M428.75,360.11 L425.35,366.31 L432.15,366.31 Z" stroke="#000" stroke-width="0" fill="#000"/>
<path d="M465.25,365 L461.85,371.2 L468.65,371.2 Z" stroke="#000" stroke-width="0" fill="#000"/>
<line x1="305" y1="293.2" x2="326.5" y2="293.2" stroke="#111" stroke-width="1.1"/>
<rect x="312.6" y="290.4" width="5.6" height="5.6" fill="#000"/>
<line x1="305" y1="316.2" x2="326.5" y2="316.2" stroke="#111" stroke-width="1.1"/>
<path d="M315.6,312.4 L312.2,318.8 L319,318.8 Z" stroke="#000" stroke-width="0" fill="#000"/>
<text x="334.6" y="301.3" font-family="Liberation Serif" font-size="18.3" font-weight="normal" font-style="normal" text-anchor="start" fill="#000" textLength="27.4" lengthAdjust="spacingAndGlyphs">tet<tspan font-style="italic">C</tspan></text>
<text x="364" y="292.5" font-family="Liberation Sans" font-size="7.6" font-weight="normal" font-style="normal" text-anchor="start" fill="#000" stroke="#000" stroke-width="0.1" textLength="11.6" lengthAdjust="spacingAndGlyphs">INT</text>
<text x="332.3" y="324.4" font-family="Liberation Serif" font-size="18.3" font-weight="normal" font-style="normal" text-anchor="start" fill="#000" textLength="27.4" lengthAdjust="spacingAndGlyphs">tet<tspan font-style="italic">C</tspan></text>
<text x="362.1" y="316.1" font-family="Liberation Sans" font-size="7.6" font-weight="normal" font-style="normal" text-anchor="start" fill="#000" stroke="#000" stroke-width="0.1" textLength="19.0" lengthAdjust="spacingAndGlyphs">HIGH</text>
</svg>
</body></html>
